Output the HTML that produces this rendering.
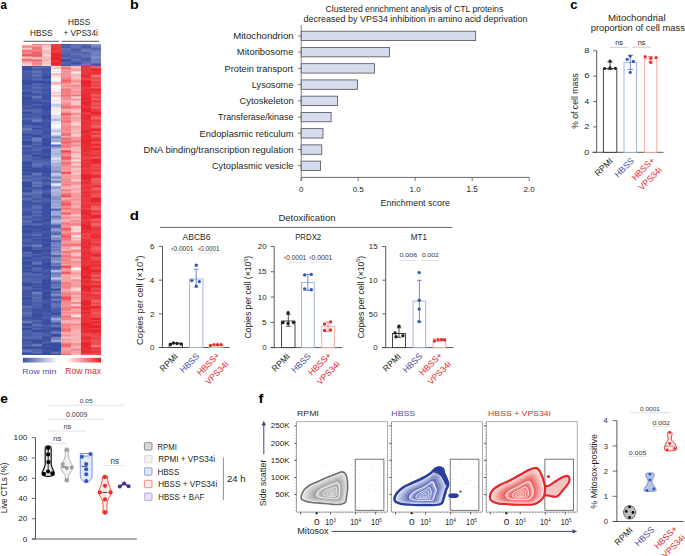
<!DOCTYPE html>
<html><head><meta charset="utf-8"><style>
html,body{margin:0;padding:0;background:#fff;width:685px;height:556px;overflow:hidden}
svg{display:block;font-family:"Liberation Sans",sans-serif}
</style></head><body>
<svg width="685" height="556" viewBox="0 0 685 556">
<text x="0.56" y="9" font-size="12.64" fill="#000" font-weight="bold" textLength="6.36" lengthAdjust="spacingAndGlyphs">a</text>
<text x="129.96" y="9" font-size="12.83" fill="#000" font-weight="bold" textLength="8.73" lengthAdjust="spacingAndGlyphs">b</text>
<text x="570.19" y="9.05" font-size="12.08" fill="#000" font-weight="bold" textLength="7.3" lengthAdjust="spacingAndGlyphs">c</text>
<text x="129.78" y="219.6" font-size="12.14" fill="#000" font-weight="bold" textLength="9.21" lengthAdjust="spacingAndGlyphs">d</text>
<text x="0.16" y="403" font-size="12.82" fill="#000" font-weight="bold" textLength="7.72" lengthAdjust="spacingAndGlyphs">e</text>
<text x="258.55" y="402.8" font-size="12.7" fill="#000" font-weight="bold" textLength="4.92" lengthAdjust="spacingAndGlyphs">f</text>
<style>.h0 rect{x:21.7px;width:9.97px;height:1.08px}.h1 rect{x:31.61px;width:9.97px;height:1.08px}.h2 rect{x:41.52px;width:9.97px;height:1.08px}.h3 rect{x:51.44px;width:9.97px;height:1.08px}.h4 rect{x:61.35px;width:9.97px;height:1.08px}.h5 rect{x:71.26px;width:9.97px;height:1.08px}.h6 rect{x:81.17px;width:9.97px;height:1.08px}.h7 rect{x:91.09px;width:9.97px;height:1.08px}</style>
<g shape-rendering="crispEdges">
<g class="h0"><rect y="44" fill="#fce1e2"/><rect y="45" fill="#f8b7ba"/><rect y="46" fill="#f17d81"/><rect y="47" fill="#f4999d"/><rect y="48" fill="#faccce"/><rect y="49" fill="#f6adb0"/><rect y="50" fill="#f1777c"/><rect y="51" fill="#f17579"/><rect y="52" fill="#f38b8e"/><rect y="53" fill="#f28589"/><rect y="54" fill="#ef6368"/><rect y="55" fill="#ed565b"/><rect y="56" fill="#f38c8f"/><rect y="57" fill="#f9c8ca"/><rect y="58" fill="#f6a7aa"/><rect y="59" fill="#f06e73"/><rect y="60" fill="#f17a7e"/><rect y="61" fill="#f59c9f"/><rect y="62" fill="#f6aeb0"/><rect y="63" fill="#f8bfc1"/><rect y="64" fill="#faced0"/><rect y="65" fill="#f9cacc"/><rect y="66" fill="#394ea1"/><rect y="67" fill="#4054a4"/><rect y="68" fill="#374ca0"/><rect y="69" fill="#374ca0"/><rect y="70" fill="#475aa8"/><rect y="71" fill="#4f61ab"/><rect y="72" fill="#4c5eaa"/><rect y="73" fill="#475aa8"/><rect y="74" fill="#4a5da9"/><rect y="75" fill="#4559a7"/><rect y="76" fill="#4256a5"/><rect y="77" fill="#4256a5"/><rect y="78" fill="#4458a6"/><rect y="79" fill="#4357a6"/><rect y="80" fill="#3a4fa1"/><rect y="81" fill="#374ca0"/><rect y="82" fill="#374ca0"/><rect y="83" fill="#374ca0"/><rect y="84" fill="#374ca0"/><rect y="85" fill="#485ba8"/><rect y="86" fill="#4559a7"/><rect y="87" fill="#4559a7"/><rect y="88" fill="#4559a7"/><rect y="89" fill="#475aa7"/><rect y="90" fill="#5062ac"/><rect y="91" fill="#4a5da9"/><rect y="92" fill="#374ca0"/><rect y="93" fill="#374ca0"/><rect y="94" fill="#394ea1"/><rect y="95" fill="#495da9"/><rect y="96" fill="#4357a6"/><rect y="97" fill="#374ca0"/><rect y="98" fill="#374ca0"/><rect y="99" fill="#374ca0"/><rect y="100" fill="#3d51a3"/><rect y="101" fill="#3a4fa2"/><rect y="102" fill="#3b4fa2"/><rect y="103" fill="#3d52a3"/><rect y="104" fill="#3d51a3"/><rect y="105" fill="#4357a6"/><rect y="106" fill="#495ca8"/><rect y="107" fill="#4457a6"/><rect y="108" fill="#4155a5"/><rect y="109" fill="#4b5ea9"/><rect y="110" fill="#5869b0"/><rect y="111" fill="#4d60aa"/><rect y="112" fill="#384da1"/><rect y="113" fill="#3c51a3"/><rect y="114" fill="#495ca9"/><rect y="115" fill="#4b5eaa"/><rect y="116" fill="#3c51a3"/><rect y="117" fill="#4155a5"/><rect y="118" fill="#5769af"/><rect y="119" fill="#4e60ab"/><rect y="120" fill="#4054a4"/><rect y="121" fill="#3c51a3"/><rect y="122" fill="#3c51a3"/><rect y="123" fill="#3c51a2"/><rect y="124" fill="#3e52a3"/><rect y="125" fill="#4f62ab"/><rect y="126" fill="#4f62ab"/><rect y="127" fill="#5063ac"/><rect y="128" fill="#6979b8"/><rect y="129" fill="#6b7bb9"/><rect y="130" fill="#596bb0"/><rect y="131" fill="#5062ac"/><rect y="132" fill="#5164ad"/><rect y="133" fill="#4a5da9"/><rect y="134" fill="#374ca0"/><rect y="135" fill="#3e52a3"/><rect y="136" fill="#4d60aa"/><rect y="137" fill="#4155a5"/><rect y="138" fill="#4054a4"/><rect y="139" fill="#4e61ab"/><rect y="140" fill="#4a5da9"/><rect y="141" fill="#374ca0"/><rect y="142" fill="#374ca0"/><rect y="143" fill="#374ca0"/><rect y="144" fill="#374ca0"/><rect y="145" fill="#5365ad"/><rect y="146" fill="#5a6bb0"/><rect y="147" fill="#4559a7"/><rect y="148" fill="#4155a5"/><rect y="149" fill="#485ba8"/><rect y="150" fill="#4b5eaa"/><rect y="151" fill="#4457a6"/><rect y="152" fill="#3c51a3"/><rect y="153" fill="#4256a5"/><rect y="154" fill="#4b5eaa"/><rect y="155" fill="#5466ae"/><rect y="156" fill="#5365ad"/><rect y="157" fill="#4e61ab"/><rect y="158" fill="#5365ad"/><rect y="159" fill="#5869b0"/><rect y="160" fill="#5264ad"/><rect y="161" fill="#4155a5"/><rect y="162" fill="#374ca0"/><rect y="163" fill="#374ca0"/><rect y="164" fill="#3e52a3"/><rect y="165" fill="#4357a6"/><rect y="166" fill="#3a4ea1"/><rect y="167" fill="#374ca0"/><rect y="168" fill="#3f53a4"/><rect y="169" fill="#384da1"/><rect y="170" fill="#374ca0"/><rect y="171" fill="#3a4ea1"/><rect y="172" fill="#4a5da9"/><rect y="173" fill="#3c50a2"/><rect y="174" fill="#374ca0"/><rect y="175" fill="#4f61ab"/><rect y="176" fill="#596bb0"/><rect y="177" fill="#4c5faa"/><rect y="178" fill="#4b5eaa"/><rect y="179" fill="#5769af"/><rect y="180" fill="#5c6db2"/><rect y="181" fill="#4a5da9"/><rect y="182" fill="#384da1"/><rect y="183" fill="#384da0"/><rect y="184" fill="#3a4fa2"/><rect y="185" fill="#374ca0"/><rect y="186" fill="#374ca0"/><rect y="187" fill="#3e53a3"/><rect y="188" fill="#485ca8"/><rect y="189" fill="#3c50a2"/><rect y="190" fill="#374ca0"/><rect y="191" fill="#3b50a2"/><rect y="192" fill="#5466ae"/><rect y="193" fill="#6171b4"/><rect y="194" fill="#5d6eb2"/><rect y="195" fill="#4d60ab"/><rect y="196" fill="#4155a5"/><rect y="197" fill="#4a5da9"/><rect y="198" fill="#5b6cb1"/><rect y="199" fill="#596ab0"/><rect y="200" fill="#4a5da9"/><rect y="201" fill="#3f54a4"/><rect y="202" fill="#3e52a3"/><rect y="203" fill="#4256a5"/><rect y="204" fill="#4458a6"/><rect y="205" fill="#4054a4"/><rect y="206" fill="#4155a5"/><rect y="207" fill="#4659a7"/><rect y="208" fill="#4a5da9"/><rect y="209" fill="#5163ac"/><rect y="210" fill="#4d5faa"/><rect y="211" fill="#4255a5"/><rect y="212" fill="#4256a5"/><rect y="213" fill="#3f53a4"/><rect y="214" fill="#384da1"/><rect y="215" fill="#485ba8"/><rect y="216" fill="#5c6db2"/><rect y="217" fill="#5b6cb1"/><rect y="218" fill="#4d5faa"/><rect y="219" fill="#475aa7"/><rect y="220" fill="#5769af"/><rect y="221" fill="#6071b4"/><rect y="222" fill="#5264ad"/><rect y="223" fill="#4f62ac"/><rect y="224" fill="#5365ad"/><rect y="225" fill="#4457a6"/><rect y="226" fill="#374ca0"/><rect y="227" fill="#394da1"/><rect y="228" fill="#3f54a4"/><rect y="229" fill="#3f53a4"/><rect y="230" fill="#374ca0"/><rect y="231" fill="#374ca0"/><rect y="232" fill="#3d51a3"/><rect y="233" fill="#4256a5"/><rect y="234" fill="#4a5da9"/><rect y="235" fill="#4a5da9"/><rect y="236" fill="#3f53a4"/><rect y="237" fill="#3d51a3"/><rect y="238" fill="#4256a5"/><rect y="239" fill="#4d60ab"/><rect y="240" fill="#4f61ab"/><rect y="241" fill="#465aa7"/><rect y="242" fill="#485ba8"/><rect y="243" fill="#4256a5"/><rect y="244" fill="#495ca8"/><rect y="245" fill="#5b6cb1"/><rect y="246" fill="#4c5faa"/><rect y="247" fill="#374ca0"/><rect y="248" fill="#374ca0"/><rect y="249" fill="#374ca0"/><rect y="250" fill="#374ca0"/><rect y="251" fill="#4054a4"/><rect y="252" fill="#5365ad"/><rect y="253" fill="#5567ae"/><rect y="254" fill="#4f61ab"/><rect y="255" fill="#5567ae"/><rect y="256" fill="#4c5faa"/><rect y="257" fill="#3a4fa1"/><rect y="258" fill="#3a4fa1"/><rect y="259" fill="#4155a5"/><rect y="260" fill="#4b5ea9"/><rect y="261" fill="#3a4fa1"/><rect y="262" fill="#374ca0"/><rect y="263" fill="#374ca0"/><rect y="264" fill="#3c51a2"/><rect y="265" fill="#4457a6"/><rect y="266" fill="#465aa7"/><rect y="267" fill="#374ca0"/><rect y="268" fill="#394ea1"/><rect y="269" fill="#4458a6"/><rect y="270" fill="#3d51a3"/><rect y="271" fill="#3c51a3"/><rect y="272" fill="#485ba8"/><rect y="273" fill="#5466ae"/><rect y="274" fill="#5466ae"/><rect y="275" fill="#495ca9"/><rect y="276" fill="#475aa7"/><rect y="277" fill="#485ca8"/><rect y="278" fill="#4e61ab"/><rect y="279" fill="#5769af"/><rect y="280" fill="#5366ae"/><rect y="281" fill="#4b5ea9"/><rect y="282" fill="#4a5da9"/><rect y="283" fill="#374ca0"/><rect y="284" fill="#374ca0"/><rect y="285" fill="#374ca0"/><rect y="286" fill="#485ca8"/><rect y="287" fill="#5466ae"/><rect y="288" fill="#5769af"/><rect y="289" fill="#4d60ab"/><rect y="290" fill="#475aa7"/><rect y="291" fill="#4054a4"/><rect y="292" fill="#4356a5"/><rect y="293" fill="#485ba8"/><rect y="294" fill="#3d51a3"/><rect y="295" fill="#4256a5"/><rect y="296" fill="#4c5faa"/><rect y="297" fill="#3f53a4"/><rect y="298" fill="#374ca0"/><rect y="299" fill="#3c50a2"/><rect y="300" fill="#4458a6"/><rect y="301" fill="#4659a7"/><rect y="302" fill="#4357a6"/><rect y="303" fill="#4256a5"/><rect y="304" fill="#3e52a3"/><rect y="305" fill="#4659a7"/><rect y="306" fill="#6071b4"/><rect y="307" fill="#5e6fb3"/><rect y="308" fill="#4b5ea9"/><rect y="309" fill="#4d60ab"/><rect y="310" fill="#4f62ac"/><rect y="311" fill="#4b5eaa"/><rect y="312" fill="#5d6eb2"/><rect y="313" fill="#6071b4"/><rect y="314" fill="#5062ac"/><rect y="315" fill="#5466ae"/><rect y="316" fill="#4d60ab"/><rect y="317" fill="#3d51a3"/><rect y="318" fill="#3d52a3"/><rect y="319" fill="#4659a7"/><rect y="320" fill="#5365ad"/><rect y="321" fill="#6878b7"/><rect y="322" fill="#6979b8"/><rect y="323" fill="#4c5faa"/><rect y="324" fill="#374ca0"/><rect y="325" fill="#3b50a2"/><rect y="326" fill="#4f62ab"/><rect y="327" fill="#4c5eaa"/><rect y="328" fill="#374ca0"/><rect y="329" fill="#3a4fa2"/><rect y="330" fill="#4b5eaa"/><rect y="331" fill="#4c5faa"/><rect y="332" fill="#4c5faa"/><rect y="333" fill="#4d60ab"/><rect y="334" fill="#495ca9"/><rect y="335" fill="#495ca9"/><rect y="336" fill="#4e61ab"/><rect y="337" fill="#5a6bb1"/><rect y="338" fill="#5264ad"/><rect y="339" fill="#4054a4"/><rect y="340" fill="#4054a4"/><rect y="341" fill="#4256a5"/><rect y="342" fill="#4a5da9"/><rect y="343" fill="#475aa8"/><rect y="344" fill="#485ba8"/><rect y="345" fill="#5769af"/><rect y="346" fill="#4155a5"/><rect y="347" fill="#374ca0"/><rect y="348" fill="#3e52a3"/><rect y="349" fill="#5567ae"/><rect y="350" fill="#6474b5"/><rect y="351" fill="#6575b6"/><rect y="352" fill="#4c5faa"/><rect y="353" fill="#3b50a2"/><rect y="354" fill="#4255a5"/></g>
<g class="h1"><rect y="44" fill="#f3888c"/><rect y="45" fill="#f5a1a4"/><rect y="46" fill="#f49396"/><rect y="47" fill="#f17a7e"/><rect y="48" fill="#f1777b"/><rect y="49" fill="#f17d81"/><rect y="50" fill="#f28387"/><rect y="51" fill="#f1787d"/><rect y="52" fill="#ef6368"/><rect y="53" fill="#ef6368"/><rect y="54" fill="#ef696e"/><rect y="55" fill="#ee5b60"/><rect y="56" fill="#f06d71"/><rect y="57" fill="#f6acaf"/><rect y="58" fill="#f8bdbf"/><rect y="59" fill="#f28387"/><rect y="60" fill="#ef6469"/><rect y="61" fill="#f28084"/><rect y="62" fill="#f38d90"/><rect y="63" fill="#f28286"/><rect y="64" fill="#f39194"/><rect y="65" fill="#f5a0a3"/><rect y="66" fill="#4b5eaa"/><rect y="67" fill="#5e6fb3"/><rect y="68" fill="#5164ad"/><rect y="69" fill="#4558a7"/><rect y="70" fill="#5264ad"/><rect y="71" fill="#6272b4"/><rect y="72" fill="#5f6fb3"/><rect y="73" fill="#5365ad"/><rect y="74" fill="#5667af"/><rect y="75" fill="#6172b4"/><rect y="76" fill="#5567ae"/><rect y="77" fill="#4b5da9"/><rect y="78" fill="#5164ad"/><rect y="79" fill="#5466ae"/><rect y="80" fill="#495ca9"/><rect y="81" fill="#374ca0"/><rect y="82" fill="#374ca0"/><rect y="83" fill="#4b5eaa"/><rect y="84" fill="#596ab0"/><rect y="85" fill="#4a5da9"/><rect y="86" fill="#495ca8"/><rect y="87" fill="#5c6eb2"/><rect y="88" fill="#5365ad"/><rect y="89" fill="#4b5da9"/><rect y="90" fill="#5163ac"/><rect y="91" fill="#5466ae"/><rect y="92" fill="#5668af"/><rect y="93" fill="#495ca9"/><rect y="94" fill="#3a4fa2"/><rect y="95" fill="#495ca8"/><rect y="96" fill="#6273b5"/><rect y="97" fill="#6071b4"/><rect y="98" fill="#4d60ab"/><rect y="99" fill="#4458a6"/><rect y="100" fill="#4559a7"/><rect y="101" fill="#4256a5"/><rect y="102" fill="#374ca0"/><rect y="103" fill="#3a4fa1"/><rect y="104" fill="#5163ac"/><rect y="105" fill="#4558a7"/><rect y="106" fill="#3a4fa2"/><rect y="107" fill="#3d51a3"/><rect y="108" fill="#4659a7"/><rect y="109" fill="#4f61ab"/><rect y="110" fill="#5365ad"/><rect y="111" fill="#5667af"/><rect y="112" fill="#4f62ac"/><rect y="113" fill="#4a5da9"/><rect y="114" fill="#475aa8"/><rect y="115" fill="#4559a7"/><rect y="116" fill="#4a5da9"/><rect y="117" fill="#5062ac"/><rect y="118" fill="#5264ad"/><rect y="119" fill="#6575b6"/><rect y="120" fill="#7180bc"/><rect y="121" fill="#5e6fb3"/><rect y="122" fill="#4b5eaa"/><rect y="123" fill="#374ca0"/><rect y="124" fill="#374ca0"/><rect y="125" fill="#485ba8"/><rect y="126" fill="#5163ac"/><rect y="127" fill="#485ba8"/><rect y="128" fill="#3a4fa1"/><rect y="129" fill="#4054a4"/><rect y="130" fill="#5264ad"/><rect y="131" fill="#495da9"/><rect y="132" fill="#485ba8"/><rect y="133" fill="#5163ac"/><rect y="134" fill="#4356a6"/><rect y="135" fill="#374ca0"/><rect y="136" fill="#374ca0"/><rect y="137" fill="#5365ad"/><rect y="138" fill="#7180bb"/><rect y="139" fill="#6b7bb9"/><rect y="140" fill="#6a7ab8"/><rect y="141" fill="#6070b3"/><rect y="142" fill="#485ba8"/><rect y="143" fill="#4c5faa"/><rect y="144" fill="#5567ae"/><rect y="145" fill="#485ba8"/><rect y="146" fill="#465aa7"/><rect y="147" fill="#4c5eaa"/><rect y="148" fill="#4e61ab"/><rect y="149" fill="#586ab0"/><rect y="150" fill="#5466ae"/><rect y="151" fill="#4256a5"/><rect y="152" fill="#4457a6"/><rect y="153" fill="#4e60ab"/><rect y="154" fill="#4357a6"/><rect y="155" fill="#374ca0"/><rect y="156" fill="#3e52a3"/><rect y="157" fill="#4a5da9"/><rect y="158" fill="#4559a7"/><rect y="159" fill="#4457a6"/><rect y="160" fill="#5062ac"/><rect y="161" fill="#5264ad"/><rect y="162" fill="#5163ac"/><rect y="163" fill="#5a6cb1"/><rect y="164" fill="#6575b6"/><rect y="165" fill="#6071b3"/><rect y="166" fill="#5668af"/><rect y="167" fill="#4a5da9"/><rect y="168" fill="#384da1"/><rect y="169" fill="#374ca0"/><rect y="170" fill="#374ca0"/><rect y="171" fill="#374ca0"/><rect y="172" fill="#4d60ab"/><rect y="173" fill="#6272b4"/><rect y="174" fill="#6272b4"/><rect y="175" fill="#5566ae"/><rect y="176" fill="#495ca9"/><rect y="177" fill="#4f62ac"/><rect y="178" fill="#5668af"/><rect y="179" fill="#5264ad"/><rect y="180" fill="#4a5da9"/><rect y="181" fill="#5567ae"/><rect y="182" fill="#6777b7"/><rect y="183" fill="#6172b4"/><rect y="184" fill="#5668af"/><rect y="185" fill="#6272b4"/><rect y="186" fill="#5f70b3"/><rect y="187" fill="#4256a5"/><rect y="188" fill="#4357a6"/><rect y="189" fill="#5063ac"/><rect y="190" fill="#5265ad"/><rect y="191" fill="#6171b4"/><rect y="192" fill="#6676b6"/><rect y="193" fill="#5f70b3"/><rect y="194" fill="#5668af"/><rect y="195" fill="#5063ac"/><rect y="196" fill="#5668af"/><rect y="197" fill="#5769af"/><rect y="198" fill="#475ba8"/><rect y="199" fill="#4357a6"/><rect y="200" fill="#5768af"/><rect y="201" fill="#586ab0"/><rect y="202" fill="#4155a5"/><rect y="203" fill="#3a4fa2"/><rect y="204" fill="#4458a6"/><rect y="205" fill="#5062ac"/><rect y="206" fill="#5b6cb1"/><rect y="207" fill="#5e6fb3"/><rect y="208" fill="#596bb0"/><rect y="209" fill="#4c5eaa"/><rect y="210" fill="#4a5da9"/><rect y="211" fill="#5869b0"/><rect y="212" fill="#5668af"/><rect y="213" fill="#475ba8"/><rect y="214" fill="#4c5faa"/><rect y="215" fill="#5768af"/><rect y="216" fill="#485ca8"/><rect y="217" fill="#3e52a3"/><rect y="218" fill="#495ca8"/><rect y="219" fill="#4f62ac"/><rect y="220" fill="#495ca9"/><rect y="221" fill="#3c51a3"/><rect y="222" fill="#394ea1"/><rect y="223" fill="#5062ac"/><rect y="224" fill="#5d6eb2"/><rect y="225" fill="#4a5da9"/><rect y="226" fill="#3c51a3"/><rect y="227" fill="#3a4ea1"/><rect y="228" fill="#3c50a2"/><rect y="229" fill="#4559a7"/><rect y="230" fill="#4155a5"/><rect y="231" fill="#3d51a3"/><rect y="232" fill="#485ba8"/><rect y="233" fill="#4c5eaa"/><rect y="234" fill="#5869af"/><rect y="235" fill="#5d6eb2"/><rect y="236" fill="#4458a6"/><rect y="237" fill="#4356a6"/><rect y="238" fill="#4b5eaa"/><rect y="239" fill="#3c50a2"/><rect y="240" fill="#4155a5"/><rect y="241" fill="#4e60ab"/><rect y="242" fill="#4558a7"/><rect y="243" fill="#4457a6"/><rect y="244" fill="#5a6bb1"/><rect y="245" fill="#707fbb"/><rect y="246" fill="#6676b6"/><rect y="247" fill="#4b5ea9"/><rect y="248" fill="#495ca8"/><rect y="249" fill="#4c5faa"/><rect y="250" fill="#374ca0"/><rect y="251" fill="#374ca0"/><rect y="252" fill="#374ca0"/><rect y="253" fill="#3d52a3"/><rect y="254" fill="#4d60aa"/><rect y="255" fill="#4458a6"/><rect y="256" fill="#3c50a2"/><rect y="257" fill="#4356a6"/><rect y="258" fill="#4e60ab"/><rect y="259" fill="#4558a7"/><rect y="260" fill="#4558a7"/><rect y="261" fill="#5466ae"/><rect y="262" fill="#5c6db2"/><rect y="263" fill="#6474b5"/><rect y="264" fill="#5567ae"/><rect y="265" fill="#384da0"/><rect y="266" fill="#374ca0"/><rect y="267" fill="#5062ac"/><rect y="268" fill="#5466ae"/><rect y="269" fill="#5163ac"/><rect y="270" fill="#5365ad"/><rect y="271" fill="#4054a4"/><rect y="272" fill="#374ca0"/><rect y="273" fill="#485ba8"/><rect y="274" fill="#596ab0"/><rect y="275" fill="#5062ac"/><rect y="276" fill="#475aa7"/><rect y="277" fill="#495da9"/><rect y="278" fill="#4f61ab"/><rect y="279" fill="#4e60ab"/><rect y="280" fill="#4d60aa"/><rect y="281" fill="#5567ae"/><rect y="282" fill="#5768af"/><rect y="283" fill="#4659a7"/><rect y="284" fill="#4054a4"/><rect y="285" fill="#495ca9"/><rect y="286" fill="#4054a4"/><rect y="287" fill="#3d51a3"/><rect y="288" fill="#4b5eaa"/><rect y="289" fill="#465aa7"/><rect y="290" fill="#3a4fa2"/><rect y="291" fill="#4e61ab"/><rect y="292" fill="#707fbb"/><rect y="293" fill="#6d7cba"/><rect y="294" fill="#5b6cb1"/><rect y="295" fill="#5264ad"/><rect y="296" fill="#5163ac"/><rect y="297" fill="#5f6fb3"/><rect y="298" fill="#5a6bb1"/><rect y="299" fill="#4c5faa"/><rect y="300" fill="#5668af"/><rect y="301" fill="#5869b0"/><rect y="302" fill="#485ca8"/><rect y="303" fill="#4d60ab"/><rect y="304" fill="#5264ad"/><rect y="305" fill="#4b5eaa"/><rect y="306" fill="#4d60ab"/><rect y="307" fill="#495ca8"/><rect y="308" fill="#4256a5"/><rect y="309" fill="#3d51a3"/><rect y="310" fill="#374ca0"/><rect y="311" fill="#4155a5"/><rect y="312" fill="#4457a6"/><rect y="313" fill="#3b4fa2"/><rect y="314" fill="#374ca0"/><rect y="315" fill="#374ca0"/><rect y="316" fill="#374ca0"/><rect y="317" fill="#4357a6"/><rect y="318" fill="#3e52a3"/><rect y="319" fill="#3e52a3"/><rect y="320" fill="#5365ad"/><rect y="321" fill="#4f62ac"/><rect y="322" fill="#3f53a4"/><rect y="323" fill="#495da9"/><rect y="324" fill="#5f6fb3"/><rect y="325" fill="#5f70b3"/><rect y="326" fill="#4b5eaa"/><rect y="327" fill="#4559a7"/><rect y="328" fill="#5365ad"/><rect y="329" fill="#4d5faa"/><rect y="330" fill="#374ca0"/><rect y="331" fill="#3b50a2"/><rect y="332" fill="#4e60ab"/><rect y="333" fill="#5365ad"/><rect y="334" fill="#5466ae"/><rect y="335" fill="#5062ac"/><rect y="336" fill="#5668af"/><rect y="337" fill="#5a6cb1"/><rect y="338" fill="#5264ad"/><rect y="339" fill="#4357a6"/><rect y="340" fill="#384da1"/><rect y="341" fill="#384da0"/><rect y="342" fill="#374ca0"/><rect y="343" fill="#4357a6"/><rect y="344" fill="#6676b6"/><rect y="345" fill="#6a79b8"/><rect y="346" fill="#4b5eaa"/><rect y="347" fill="#374ca0"/><rect y="348" fill="#4458a6"/><rect y="349" fill="#5567ae"/><rect y="350" fill="#5163ac"/><rect y="351" fill="#5466ae"/><rect y="352" fill="#5d6eb2"/><rect y="353" fill="#4f62ac"/><rect y="354" fill="#374ca0"/></g>
<g class="h2"><rect y="44" fill="#f59c9f"/><rect y="45" fill="#f8b8bb"/><rect y="46" fill="#facbcd"/><rect y="47" fill="#f9c6c8"/><rect y="48" fill="#fbd6d8"/><rect y="49" fill="#fad2d4"/><rect y="50" fill="#f8bbbd"/><rect y="51" fill="#f8bdbf"/><rect y="52" fill="#f8b7ba"/><rect y="53" fill="#f8b9bc"/><rect y="54" fill="#fad2d3"/><rect y="55" fill="#fad2d4"/><rect y="56" fill="#f9c7c9"/><rect y="57" fill="#f8bcbe"/><rect y="58" fill="#f7b4b6"/><rect y="59" fill="#f8b7ba"/><rect y="60" fill="#f7b0b3"/><rect y="61" fill="#f9c3c5"/><rect y="62" fill="#facbcd"/><rect y="63" fill="#f8bbbe"/><rect y="64" fill="#fbd5d6"/><rect y="65" fill="#fad2d3"/><rect y="66" fill="#5264ad"/><rect y="67" fill="#5264ad"/><rect y="68" fill="#495ca8"/><rect y="69" fill="#3d51a3"/><rect y="70" fill="#4457a6"/><rect y="71" fill="#4a5da9"/><rect y="72" fill="#485ba8"/><rect y="73" fill="#4458a6"/><rect y="74" fill="#4356a6"/><rect y="75" fill="#4155a5"/><rect y="76" fill="#3a4fa2"/><rect y="77" fill="#384da0"/><rect y="78" fill="#3f53a4"/><rect y="79" fill="#4a5da9"/><rect y="80" fill="#485ba8"/><rect y="81" fill="#3a4fa1"/><rect y="82" fill="#374ca0"/><rect y="83" fill="#3c50a2"/><rect y="84" fill="#4256a5"/><rect y="85" fill="#4558a6"/><rect y="86" fill="#485ba8"/><rect y="87" fill="#4c5faa"/><rect y="88" fill="#475aa7"/><rect y="89" fill="#3f53a4"/><rect y="90" fill="#4155a5"/><rect y="91" fill="#4659a7"/><rect y="92" fill="#4558a6"/><rect y="93" fill="#4155a5"/><rect y="94" fill="#3f53a4"/><rect y="95" fill="#3c50a2"/><rect y="96" fill="#3e52a3"/><rect y="97" fill="#3e53a3"/><rect y="98" fill="#374ca0"/><rect y="99" fill="#3e52a3"/><rect y="100" fill="#4b5ea9"/><rect y="101" fill="#4659a7"/><rect y="102" fill="#3e52a3"/><rect y="103" fill="#3b50a2"/><rect y="104" fill="#3d51a3"/><rect y="105" fill="#3d51a3"/><rect y="106" fill="#374ca0"/><rect y="107" fill="#374ca0"/><rect y="108" fill="#374ca0"/><rect y="109" fill="#3c50a2"/><rect y="110" fill="#4255a5"/><rect y="111" fill="#4155a5"/><rect y="112" fill="#3d52a3"/><rect y="113" fill="#4558a6"/><rect y="114" fill="#465aa7"/><rect y="115" fill="#374ca0"/><rect y="116" fill="#374ca0"/><rect y="117" fill="#384da0"/><rect y="118" fill="#3b4fa2"/><rect y="119" fill="#4155a5"/><rect y="120" fill="#475aa8"/><rect y="121" fill="#4357a6"/><rect y="122" fill="#3f54a4"/><rect y="123" fill="#3e53a4"/><rect y="124" fill="#3d51a3"/><rect y="125" fill="#4054a5"/><rect y="126" fill="#3f53a4"/><rect y="127" fill="#3d51a3"/><rect y="128" fill="#4255a5"/><rect y="129" fill="#4357a6"/><rect y="130" fill="#4558a7"/><rect y="131" fill="#4256a5"/><rect y="132" fill="#3c50a2"/><rect y="133" fill="#3e52a3"/><rect y="134" fill="#4054a4"/><rect y="135" fill="#465aa7"/><rect y="136" fill="#495ca9"/><rect y="137" fill="#4558a6"/><rect y="138" fill="#3e52a3"/><rect y="139" fill="#374ca0"/><rect y="140" fill="#374ca0"/><rect y="141" fill="#3e52a3"/><rect y="142" fill="#3b4fa2"/><rect y="143" fill="#394ea1"/><rect y="144" fill="#374ca0"/><rect y="145" fill="#374ca0"/><rect y="146" fill="#4357a6"/><rect y="147" fill="#4b5ea9"/><rect y="148" fill="#475aa8"/><rect y="149" fill="#3d51a3"/><rect y="150" fill="#374ca0"/><rect y="151" fill="#374ca0"/><rect y="152" fill="#374ca0"/><rect y="153" fill="#3d51a3"/><rect y="154" fill="#4256a5"/><rect y="155" fill="#3f53a4"/><rect y="156" fill="#374ca0"/><rect y="157" fill="#374ca0"/><rect y="158" fill="#394ea1"/><rect y="159" fill="#4659a7"/><rect y="160" fill="#4b5ea9"/><rect y="161" fill="#4c5faa"/><rect y="162" fill="#5466ae"/><rect y="163" fill="#5567ae"/><rect y="164" fill="#4e61ab"/><rect y="165" fill="#4e60ab"/><rect y="166" fill="#4458a6"/><rect y="167" fill="#3e53a4"/><rect y="168" fill="#3b4fa2"/><rect y="169" fill="#374ca0"/><rect y="170" fill="#374ca0"/><rect y="171" fill="#374ca0"/><rect y="172" fill="#394da1"/><rect y="173" fill="#3d51a3"/><rect y="174" fill="#4155a5"/><rect y="175" fill="#3e52a3"/><rect y="176" fill="#4256a5"/><rect y="177" fill="#4d60ab"/><rect y="178" fill="#4c5faa"/><rect y="179" fill="#4558a6"/><rect y="180" fill="#4054a4"/><rect y="181" fill="#4155a5"/><rect y="182" fill="#4c5faa"/><rect y="183" fill="#5063ac"/><rect y="184" fill="#495ca8"/><rect y="185" fill="#4256a5"/><rect y="186" fill="#384da0"/><rect y="187" fill="#374ca0"/><rect y="188" fill="#374ca0"/><rect y="189" fill="#3f54a4"/><rect y="190" fill="#475aa8"/><rect y="191" fill="#4e61ab"/><rect y="192" fill="#4b5ea9"/><rect y="193" fill="#4256a5"/><rect y="194" fill="#394da1"/><rect y="195" fill="#374ca0"/><rect y="196" fill="#374ca0"/><rect y="197" fill="#3d51a3"/><rect y="198" fill="#4559a7"/><rect y="199" fill="#495ca8"/><rect y="200" fill="#495ca9"/><rect y="201" fill="#495da9"/><rect y="202" fill="#4256a5"/><rect y="203" fill="#3b50a2"/><rect y="204" fill="#3a4ea1"/><rect y="205" fill="#394da1"/><rect y="206" fill="#394ea1"/><rect y="207" fill="#3c50a2"/><rect y="208" fill="#3b50a2"/><rect y="209" fill="#384da0"/><rect y="210" fill="#3a4ea1"/><rect y="211" fill="#3c50a2"/><rect y="212" fill="#394ea1"/><rect y="213" fill="#384da0"/><rect y="214" fill="#3c50a2"/><rect y="215" fill="#3e52a3"/><rect y="216" fill="#3b50a2"/><rect y="217" fill="#3e53a3"/><rect y="218" fill="#3d51a3"/><rect y="219" fill="#374ca0"/><rect y="220" fill="#374ca0"/><rect y="221" fill="#4054a4"/><rect y="222" fill="#4559a7"/><rect y="223" fill="#475ba8"/><rect y="224" fill="#4457a6"/><rect y="225" fill="#3d52a3"/><rect y="226" fill="#3c51a3"/><rect y="227" fill="#3c51a2"/><rect y="228" fill="#3a4fa1"/><rect y="229" fill="#394ea1"/><rect y="230" fill="#3d52a3"/><rect y="231" fill="#4559a7"/><rect y="232" fill="#4458a6"/><rect y="233" fill="#4054a4"/><rect y="234" fill="#3e52a3"/><rect y="235" fill="#3a4ea1"/><rect y="236" fill="#3b50a2"/><rect y="237" fill="#4357a6"/><rect y="238" fill="#4155a5"/><rect y="239" fill="#384da0"/><rect y="240" fill="#374ca0"/><rect y="241" fill="#3b4fa2"/><rect y="242" fill="#4256a5"/><rect y="243" fill="#3d51a3"/><rect y="244" fill="#374ca0"/><rect y="245" fill="#374ca0"/><rect y="246" fill="#3c50a2"/><rect y="247" fill="#4357a6"/><rect y="248" fill="#4357a6"/><rect y="249" fill="#3f53a4"/><rect y="250" fill="#3a4fa1"/><rect y="251" fill="#3c50a2"/><rect y="252" fill="#4458a6"/><rect y="253" fill="#485ba8"/><rect y="254" fill="#4054a4"/><rect y="255" fill="#3a4ea1"/><rect y="256" fill="#485ba8"/><rect y="257" fill="#5264ad"/><rect y="258" fill="#475aa7"/><rect y="259" fill="#3f53a4"/><rect y="260" fill="#4054a4"/><rect y="261" fill="#4054a4"/><rect y="262" fill="#3b4fa2"/><rect y="263" fill="#374ca0"/><rect y="264" fill="#384da0"/><rect y="265" fill="#374ca0"/><rect y="266" fill="#374ca0"/><rect y="267" fill="#374ca0"/><rect y="268" fill="#3b4fa2"/><rect y="269" fill="#4256a5"/><rect y="270" fill="#475aa8"/><rect y="271" fill="#485ba8"/><rect y="272" fill="#4256a5"/><rect y="273" fill="#3b50a2"/><rect y="274" fill="#3e52a3"/><rect y="275" fill="#4558a7"/><rect y="276" fill="#4a5da9"/><rect y="277" fill="#465aa7"/><rect y="278" fill="#4256a5"/><rect y="279" fill="#4054a4"/><rect y="280" fill="#374ca0"/><rect y="281" fill="#374ca0"/><rect y="282" fill="#374ca0"/><rect y="283" fill="#394ea1"/><rect y="284" fill="#374ca0"/><rect y="285" fill="#374ca0"/><rect y="286" fill="#3c50a2"/><rect y="287" fill="#374ca0"/><rect y="288" fill="#374ca0"/><rect y="289" fill="#384da0"/><rect y="290" fill="#4357a6"/><rect y="291" fill="#4155a5"/><rect y="292" fill="#374ca0"/><rect y="293" fill="#374ca0"/><rect y="294" fill="#384da0"/><rect y="295" fill="#3b50a2"/><rect y="296" fill="#384da1"/><rect y="297" fill="#374ca0"/><rect y="298" fill="#374ca0"/><rect y="299" fill="#384da1"/><rect y="300" fill="#4659a7"/><rect y="301" fill="#4659a7"/><rect y="302" fill="#4558a7"/><rect y="303" fill="#3e53a4"/><rect y="304" fill="#3b50a2"/><rect y="305" fill="#3a4fa2"/><rect y="306" fill="#374ca0"/><rect y="307" fill="#384da0"/><rect y="308" fill="#3e52a3"/><rect y="309" fill="#3e52a3"/><rect y="310" fill="#3b50a2"/><rect y="311" fill="#3e52a3"/><rect y="312" fill="#4659a7"/><rect y="313" fill="#4b5ea9"/><rect y="314" fill="#475aa7"/><rect y="315" fill="#4357a6"/><rect y="316" fill="#475aa8"/><rect y="317" fill="#4b5ea9"/><rect y="318" fill="#4659a7"/><rect y="319" fill="#3f54a4"/><rect y="320" fill="#3e52a3"/><rect y="321" fill="#3d51a3"/><rect y="322" fill="#394da1"/><rect y="323" fill="#374ca0"/><rect y="324" fill="#4155a5"/><rect y="325" fill="#4a5da9"/><rect y="326" fill="#485ba8"/><rect y="327" fill="#4155a5"/><rect y="328" fill="#4256a5"/><rect y="329" fill="#4256a5"/><rect y="330" fill="#3b4fa2"/><rect y="331" fill="#3d51a3"/><rect y="332" fill="#4457a6"/><rect y="333" fill="#475ba8"/><rect y="334" fill="#4d5faa"/><rect y="335" fill="#4c5faa"/><rect y="336" fill="#4155a5"/><rect y="337" fill="#3a4ea1"/><rect y="338" fill="#3e52a3"/><rect y="339" fill="#4357a6"/><rect y="340" fill="#4054a4"/><rect y="341" fill="#4356a5"/><rect y="342" fill="#4c5faa"/><rect y="343" fill="#4356a6"/><rect y="344" fill="#384da0"/><rect y="345" fill="#3d52a3"/><rect y="346" fill="#3e52a3"/><rect y="347" fill="#374ca0"/><rect y="348" fill="#374ca0"/><rect y="349" fill="#3b50a2"/><rect y="350" fill="#4357a6"/><rect y="351" fill="#3e53a3"/><rect y="352" fill="#3e52a3"/><rect y="353" fill="#3c51a2"/><rect y="354" fill="#374ca0"/></g>
<g class="h3"><rect y="44" fill="#eb3e44"/><rect y="45" fill="#eb3c42"/><rect y="46" fill="#eb4046"/><rect y="47" fill="#eb3b41"/><rect y="48" fill="#ea353b"/><rect y="49" fill="#ea353b"/><rect y="50" fill="#ea3b41"/><rect y="51" fill="#eb3f45"/><rect y="52" fill="#ea363c"/><rect y="53" fill="#e8262d"/><rect y="54" fill="#e8232a"/><rect y="55" fill="#e8242b"/><rect y="56" fill="#e8272e"/><rect y="57" fill="#e8242b"/><rect y="58" fill="#e8232a"/><rect y="59" fill="#e8232a"/><rect y="60" fill="#e92f36"/><rect y="61" fill="#e93036"/><rect y="62" fill="#e92930"/><rect y="63" fill="#e8232a"/><rect y="64" fill="#e8232a"/><rect y="65" fill="#ec4a4f"/><rect y="66" fill="#fce2e3"/><rect y="67" fill="#f9c3c5"/><rect y="68" fill="#f8bfc1"/><rect y="69" fill="#fde9ea"/><rect y="70" fill="#f7f8fb"/><rect y="71" fill="#e4e7f2"/><rect y="72" fill="#fefefe"/><rect y="73" fill="#f9c2c4"/><rect y="74" fill="#f8b8bb"/><rect y="75" fill="#fad2d4"/><rect y="76" fill="#fcdfe0"/><rect y="77" fill="#fce5e6"/><rect y="78" fill="#fef5f6"/><rect y="79" fill="#fcfdfe"/><rect y="80" fill="#f3f4f9"/><rect y="81" fill="#fdebeb"/><rect y="82" fill="#f7b1b4"/><rect y="83" fill="#f7b7b9"/><rect y="84" fill="#facfd0"/><rect y="85" fill="#fce6e7"/><rect y="86" fill="#fffdfd"/><rect y="87" fill="#fef5f5"/><rect y="88" fill="#fdebec"/><rect y="89" fill="#fafbfd"/><rect y="90" fill="#e4e7f2"/><rect y="91" fill="#fef7f7"/><rect y="92" fill="#f9c5c7"/><rect y="93" fill="#fbd7d8"/><rect y="94" fill="#fce2e3"/><rect y="95" fill="#f8bec0"/><rect y="96" fill="#f9c6c8"/><rect y="97" fill="#fde9e9"/><rect y="98" fill="#fef5f5"/><rect y="99" fill="#fdeeef"/><rect y="100" fill="#fce2e3"/><rect y="101" fill="#fce7e8"/><rect y="102" fill="#fef6f7"/><rect y="103" fill="#e2e5f1"/><rect y="104" fill="#c1c8e2"/><rect y="105" fill="#c4cae3"/><rect y="106" fill="#d4d8eb"/><rect y="107" fill="#dcdfee"/><rect y="108" fill="#f6f7fb"/><rect y="109" fill="#fce2e3"/><rect y="110" fill="#fdeaea"/><rect y="111" fill="#fdeeee"/><rect y="112" fill="#fdeced"/><rect y="113" fill="#fcfcfe"/><rect y="114" fill="#e9ebf5"/><rect y="115" fill="#d8dced"/><rect y="116" fill="#d6daec"/><rect y="117" fill="#dbdfee"/><rect y="118" fill="#c9cfe6"/><rect y="119" fill="#b3bbdb"/><rect y="120" fill="#bbc2df"/><rect y="121" fill="#dde1ef"/><rect y="122" fill="#ebedf6"/><rect y="123" fill="#e5e8f3"/><rect y="124" fill="#f1f2f8"/><rect y="125" fill="#fdfefe"/><rect y="126" fill="#fef1f1"/><rect y="127" fill="#ffffff"/><rect y="128" fill="#e2e5f1"/><rect y="129" fill="#d5d9eb"/><rect y="130" fill="#c2c8e2"/><rect y="131" fill="#bfc6e0"/><rect y="132" fill="#d3d7ea"/><rect y="133" fill="#ebedf6"/><rect y="134" fill="#e1e4f1"/><rect y="135" fill="#bec5e0"/><rect y="136" fill="#929ecb"/><rect y="137" fill="#7a88c0"/><rect y="138" fill="#98a3ce"/><rect y="139" fill="#a5afd4"/><rect y="140" fill="#9ca6d0"/><rect y="141" fill="#a0aad2"/><rect y="142" fill="#d5d9eb"/><rect y="143" fill="#f3f4f9"/><rect y="144" fill="#9fa9d2"/><rect y="145" fill="#5a6cb1"/><rect y="146" fill="#6e7eba"/><rect y="147" fill="#909cca"/><rect y="148" fill="#a2acd3"/><rect y="149" fill="#b8c0dd"/><rect y="150" fill="#bbc2df"/><rect y="151" fill="#b3bbdb"/><rect y="152" fill="#b0b9da"/><rect y="153" fill="#a4add4"/><rect y="154" fill="#acb5d8"/><rect y="155" fill="#b5bddc"/><rect y="156" fill="#b5bddc"/><rect y="157" fill="#cbd0e6"/><rect y="158" fill="#e0e3f0"/><rect y="159" fill="#d6daeb"/><rect y="160" fill="#b9c0de"/><rect y="161" fill="#c3c9e3"/><rect y="162" fill="#c2c8e2"/><rect y="163" fill="#a1abd2"/><rect y="164" fill="#abb4d7"/><rect y="165" fill="#abb4d7"/><rect y="166" fill="#99a4cf"/><rect y="167" fill="#98a3ce"/><rect y="168" fill="#9aa4cf"/><rect y="169" fill="#9fa9d2"/><rect y="170" fill="#8d99c9"/><rect y="171" fill="#7b89c0"/><rect y="172" fill="#919ccb"/><rect y="173" fill="#b8c0dd"/><rect y="174" fill="#c7cde4"/><rect y="175" fill="#b5bcdc"/><rect y="176" fill="#9aa5cf"/><rect y="177" fill="#7c89c1"/><rect y="178" fill="#8f9bca"/><rect y="179" fill="#b6bedc"/><rect y="180" fill="#9aa4cf"/><rect y="181" fill="#7684be"/><rect y="182" fill="#8b97c8"/><rect y="183" fill="#c4cbe3"/><rect y="184" fill="#e9ebf5"/><rect y="185" fill="#d8dcec"/><rect y="186" fill="#a9b2d6"/><rect y="187" fill="#8b97c8"/><rect y="188" fill="#95a0cd"/><rect y="189" fill="#b0b8da"/><rect y="190" fill="#b7bfdd"/><rect y="191" fill="#afb7d9"/><rect y="192" fill="#a7b0d5"/><rect y="193" fill="#a7b0d5"/><rect y="194" fill="#a7b0d5"/><rect y="195" fill="#9fa9d2"/><rect y="196" fill="#929ecb"/><rect y="197" fill="#8a96c7"/><rect y="198" fill="#8491c5"/><rect y="199" fill="#8895c7"/><rect y="200" fill="#9ba5cf"/><rect y="201" fill="#96a1cd"/><rect y="202" fill="#909cca"/><rect y="203" fill="#9ea8d1"/><rect y="204" fill="#a5afd4"/><rect y="205" fill="#98a3ce"/><rect y="206" fill="#98a3ce"/><rect y="207" fill="#aab3d7"/><rect y="208" fill="#8491c5"/><rect y="209" fill="#5264ad"/><rect y="210" fill="#6978b8"/><rect y="211" fill="#95a0cd"/><rect y="212" fill="#a3acd3"/><rect y="213" fill="#a0aad2"/><rect y="214" fill="#a2acd3"/><rect y="215" fill="#929ecb"/><rect y="216" fill="#6f7ebb"/><rect y="217" fill="#7483bd"/><rect y="218" fill="#8a97c8"/><rect y="219" fill="#99a3ce"/><rect y="220" fill="#b2bada"/><rect y="221" fill="#b3bbdb"/><rect y="222" fill="#a4add4"/><rect y="223" fill="#949fcc"/><rect y="224" fill="#7281bc"/><rect y="225" fill="#4e61ab"/><rect y="226" fill="#4d5faa"/><rect y="227" fill="#5f70b3"/><rect y="228" fill="#7785be"/><rect y="229" fill="#98a2ce"/><rect y="230" fill="#939ecc"/><rect y="231" fill="#7482bd"/><rect y="232" fill="#6373b5"/><rect y="233" fill="#5a6cb1"/><rect y="234" fill="#5f70b3"/><rect y="235" fill="#8a96c7"/><rect y="236" fill="#acb4d7"/><rect y="237" fill="#909cca"/><rect y="238" fill="#808dc3"/><rect y="239" fill="#828fc3"/><rect y="240" fill="#596ab0"/><rect y="241" fill="#485ca8"/><rect y="242" fill="#6d7dba"/><rect y="243" fill="#7785be"/><rect y="244" fill="#7281bc"/><rect y="245" fill="#7e8cc2"/><rect y="246" fill="#6e7dba"/><rect y="247" fill="#6c7cb9"/><rect y="248" fill="#7c8ac1"/><rect y="249" fill="#6777b7"/><rect y="250" fill="#6c7bb9"/><rect y="251" fill="#7d8bc1"/><rect y="252" fill="#7f8cc2"/><rect y="253" fill="#96a1cd"/><rect y="254" fill="#8794c6"/><rect y="255" fill="#5163ac"/><rect y="256" fill="#5063ac"/><rect y="257" fill="#7a88c0"/><rect y="258" fill="#818fc3"/><rect y="259" fill="#7d8ac1"/><rect y="260" fill="#8996c7"/><rect y="261" fill="#9aa5cf"/><rect y="262" fill="#8a96c7"/><rect y="263" fill="#6575b6"/><rect y="264" fill="#6a79b8"/><rect y="265" fill="#6c7bb9"/><rect y="266" fill="#5164ad"/><rect y="267" fill="#4f61ab"/><rect y="268" fill="#5365ad"/><rect y="269" fill="#6e7dba"/><rect y="270" fill="#aeb6d8"/><rect y="271" fill="#b1b9da"/><rect y="272" fill="#8491c5"/><rect y="273" fill="#6c7cb9"/><rect y="274" fill="#7785be"/><rect y="275" fill="#808dc3"/><rect y="276" fill="#7e8cc2"/><rect y="277" fill="#a4add4"/><rect y="278" fill="#c3c9e3"/><rect y="279" fill="#a4aed4"/><rect y="280" fill="#7685be"/><rect y="281" fill="#6373b5"/><rect y="282" fill="#5062ac"/><rect y="283" fill="#4f62ac"/><rect y="284" fill="#6b7ab9"/><rect y="285" fill="#6171b4"/><rect y="286" fill="#6172b4"/><rect y="287" fill="#7886bf"/><rect y="288" fill="#5769af"/><rect y="289" fill="#374ca0"/><rect y="290" fill="#4c5faa"/><rect y="291" fill="#6978b8"/><rect y="292" fill="#5b6db1"/><rect y="293" fill="#6474b5"/><rect y="294" fill="#8491c5"/><rect y="295" fill="#7987bf"/><rect y="296" fill="#5668af"/><rect y="297" fill="#4357a6"/><rect y="298" fill="#5869b0"/><rect y="299" fill="#7785be"/><rect y="300" fill="#6373b5"/><rect y="301" fill="#495ca9"/><rect y="302" fill="#4b5eaa"/><rect y="303" fill="#6071b4"/><rect y="304" fill="#6777b7"/><rect y="305" fill="#5c6db2"/><rect y="306" fill="#6878b7"/><rect y="307" fill="#5f70b3"/><rect y="308" fill="#4c5faa"/><rect y="309" fill="#4f61ab"/><rect y="310" fill="#495ca9"/><rect y="311" fill="#495ca9"/><rect y="312" fill="#475aa8"/><rect y="313" fill="#374ca0"/><rect y="314" fill="#3f54a4"/><rect y="315" fill="#5869af"/><rect y="316" fill="#5b6cb1"/><rect y="317" fill="#7583bd"/><rect y="318" fill="#9ca7d0"/><rect y="319" fill="#9da7d1"/><rect y="320" fill="#8592c5"/><rect y="321" fill="#7684be"/><rect y="322" fill="#5c6db2"/><rect y="323" fill="#4155a5"/><rect y="324" fill="#5365ad"/><rect y="325" fill="#6c7bb9"/><rect y="326" fill="#5f70b3"/><rect y="327" fill="#485ca8"/><rect y="328" fill="#374ca0"/><rect y="329" fill="#3d51a3"/><rect y="330" fill="#4a5da9"/><rect y="331" fill="#5567ae"/><rect y="332" fill="#7482bd"/><rect y="333" fill="#6273b5"/><rect y="334" fill="#374ca0"/><rect y="335" fill="#374ca0"/><rect y="336" fill="#4458a6"/><rect y="337" fill="#7281bc"/><rect y="338" fill="#7b89c0"/><rect y="339" fill="#7785be"/><rect y="340" fill="#99a4cf"/><rect y="341" fill="#939fcc"/><rect y="342" fill="#5668af"/><rect y="343" fill="#374ca0"/><rect y="344" fill="#374ca0"/><rect y="345" fill="#374ca0"/><rect y="346" fill="#374ca0"/><rect y="347" fill="#374ca0"/><rect y="348" fill="#374ca0"/><rect y="349" fill="#374ca0"/><rect y="350" fill="#374ca0"/><rect y="351" fill="#4458a6"/><rect y="352" fill="#5b6cb1"/><rect y="353" fill="#5466ae"/><rect y="354" fill="#374ca0"/></g>
<g class="h4"><rect y="44" fill="#3f53a4"/><rect y="45" fill="#5466ae"/><rect y="46" fill="#4b5ea9"/><rect y="47" fill="#4a5da9"/><rect y="48" fill="#6474b5"/><rect y="49" fill="#6172b4"/><rect y="50" fill="#596ab0"/><rect y="51" fill="#586ab0"/><rect y="52" fill="#5566ae"/><rect y="53" fill="#5567ae"/><rect y="54" fill="#5264ad"/><rect y="55" fill="#4a5da9"/><rect y="56" fill="#4c5faa"/><rect y="57" fill="#5c6db1"/><rect y="58" fill="#5c6db2"/><rect y="59" fill="#465aa7"/><rect y="60" fill="#374ca0"/><rect y="61" fill="#4659a7"/><rect y="62" fill="#5466ae"/><rect y="63" fill="#5062ac"/><rect y="64" fill="#4e60ab"/><rect y="65" fill="#4155a5"/><rect y="66" fill="#f49a9d"/><rect y="67" fill="#f28286"/><rect y="68" fill="#f06d72"/><rect y="69" fill="#f38c90"/><rect y="70" fill="#f6a6a9"/><rect y="71" fill="#f49195"/><rect y="72" fill="#f49396"/><rect y="73" fill="#f49a9d"/><rect y="74" fill="#f38c90"/><rect y="75" fill="#f49296"/><rect y="76" fill="#f39194"/><rect y="77" fill="#f2868a"/><rect y="78" fill="#f38c90"/><rect y="79" fill="#f1797d"/><rect y="80" fill="#ef656a"/><rect y="81" fill="#f06c71"/><rect y="82" fill="#f17579"/><rect y="83" fill="#f38e91"/><rect y="84" fill="#f5a2a5"/><rect y="85" fill="#f49598"/><rect y="86" fill="#f49195"/><rect y="87" fill="#f5a4a7"/><rect y="88" fill="#f49397"/><rect y="89" fill="#f07276"/><rect y="90" fill="#f27f83"/><rect y="91" fill="#f28185"/><rect y="92" fill="#f1787d"/><rect y="93" fill="#f28588"/><rect y="94" fill="#f17c80"/><rect y="95" fill="#f06e73"/><rect y="96" fill="#f17e82"/><rect y="97" fill="#f49195"/><rect y="98" fill="#f3898d"/><rect y="99" fill="#f39093"/><rect y="100" fill="#f6aaad"/><rect y="101" fill="#f5a4a7"/><rect y="102" fill="#f4999c"/><rect y="103" fill="#f4979a"/><rect y="104" fill="#f3888c"/><rect y="105" fill="#f28185"/><rect y="106" fill="#f07378"/><rect y="107" fill="#ef676c"/><rect y="108" fill="#f28488"/><rect y="109" fill="#f6abad"/><rect y="110" fill="#f7afb2"/><rect y="111" fill="#f5a0a3"/><rect y="112" fill="#f38e91"/><rect y="113" fill="#ef676c"/><rect y="114" fill="#ee585e"/><rect y="115" fill="#f1767a"/><rect y="116" fill="#f38f93"/><rect y="117" fill="#f2878b"/><rect y="118" fill="#f17b7f"/><rect y="119" fill="#f38a8e"/><rect y="120" fill="#f27e82"/><rect y="121" fill="#ef6a6f"/><rect y="122" fill="#f28185"/><rect y="123" fill="#f49598"/><rect y="124" fill="#f4989c"/><rect y="125" fill="#f49498"/><rect y="126" fill="#f28589"/><rect y="127" fill="#f28386"/><rect y="128" fill="#f38a8e"/><rect y="129" fill="#f3898d"/><rect y="130" fill="#f38b8f"/><rect y="131" fill="#f49598"/><rect y="132" fill="#f39093"/><rect y="133" fill="#f17d81"/><rect y="134" fill="#ef676b"/><rect y="135" fill="#f1797e"/><rect y="136" fill="#f5a2a5"/><rect y="137" fill="#f49397"/><rect y="138" fill="#f07075"/><rect y="139" fill="#f06f73"/><rect y="140" fill="#f17c81"/><rect y="141" fill="#f06f73"/><rect y="142" fill="#ee5e63"/><rect y="143" fill="#f07478"/><rect y="144" fill="#f28589"/><rect y="145" fill="#f27f83"/><rect y="146" fill="#f17479"/><rect y="147" fill="#f28084"/><rect y="148" fill="#f6a7aa"/><rect y="149" fill="#f6a9ac"/><rect y="150" fill="#ef696e"/><rect y="151" fill="#ec454b"/><rect y="152" fill="#ee6166"/><rect y="153" fill="#f1787c"/><rect y="154" fill="#f28589"/><rect y="155" fill="#f28589"/><rect y="156" fill="#f06e73"/><rect y="157" fill="#ee5a5f"/><rect y="158" fill="#ee5b60"/><rect y="159" fill="#f06e73"/><rect y="160" fill="#f49195"/><rect y="161" fill="#f4979a"/><rect y="162" fill="#f07276"/><rect y="163" fill="#ef6a6e"/><rect y="164" fill="#f27f83"/><rect y="165" fill="#f3898c"/><rect y="166" fill="#f38c8f"/><rect y="167" fill="#f59da0"/><rect y="168" fill="#f4989b"/><rect y="169" fill="#f38f93"/><rect y="170" fill="#f5a3a6"/><rect y="171" fill="#f38b8f"/><rect y="172" fill="#ed5359"/><rect y="173" fill="#ee5f64"/><rect y="174" fill="#f4979a"/><rect y="175" fill="#f59c9f"/><rect y="176" fill="#f49295"/><rect y="177" fill="#f59c9f"/><rect y="178" fill="#f49498"/><rect y="179" fill="#f38b8f"/><rect y="180" fill="#f38e92"/><rect y="181" fill="#f2878a"/><rect y="182" fill="#f38c90"/><rect y="183" fill="#f49598"/><rect y="184" fill="#f28185"/><rect y="185" fill="#f2878b"/><rect y="186" fill="#f5a3a6"/><rect y="187" fill="#f6adaf"/><rect y="188" fill="#f6adb0"/><rect y="189" fill="#f39093"/><rect y="190" fill="#f17d81"/><rect y="191" fill="#f49a9d"/><rect y="192" fill="#f59b9e"/><rect y="193" fill="#f17c80"/><rect y="194" fill="#f07176"/><rect y="195" fill="#ed555a"/><rect y="196" fill="#ed555a"/><rect y="197" fill="#f49498"/><rect y="198" fill="#f7afb2"/><rect y="199" fill="#f5a2a5"/><rect y="200" fill="#f38a8d"/><rect y="201" fill="#f1777b"/><rect y="202" fill="#f07377"/><rect y="203" fill="#ee6065"/><rect y="204" fill="#ed545a"/><rect y="205" fill="#f06b70"/><rect y="206" fill="#f38d90"/><rect y="207" fill="#f38a8e"/><rect y="208" fill="#f06f74"/><rect y="209" fill="#f17b7f"/><rect y="210" fill="#f59ea1"/><rect y="211" fill="#f49a9d"/><rect y="212" fill="#f1777b"/><rect y="213" fill="#ef6368"/><rect y="214" fill="#f17d81"/><rect y="215" fill="#f6abad"/><rect y="216" fill="#f5a2a5"/><rect y="217" fill="#f28286"/><rect y="218" fill="#f49295"/><rect y="219" fill="#f6aaac"/><rect y="220" fill="#f6acaf"/><rect y="221" fill="#f6a8ab"/><rect y="222" fill="#f39094"/><rect y="223" fill="#f1797d"/><rect y="224" fill="#f2878b"/><rect y="225" fill="#f38e92"/><rect y="226" fill="#f49195"/><rect y="227" fill="#f38b8e"/><rect y="228" fill="#ee5f64"/><rect y="229" fill="#ee5b60"/><rect y="230" fill="#f1797e"/><rect y="231" fill="#f38e91"/><rect y="232" fill="#f49396"/><rect y="233" fill="#f28286"/><rect y="234" fill="#f1767a"/><rect y="235" fill="#ef6569"/><rect y="236" fill="#ed565b"/><rect y="237" fill="#ef6a6f"/><rect y="238" fill="#f1787d"/><rect y="239" fill="#f07377"/><rect y="240" fill="#f28488"/><rect y="241" fill="#f4979a"/><rect y="242" fill="#f4969a"/><rect y="243" fill="#f38d91"/><rect y="244" fill="#f27f83"/><rect y="245" fill="#f1797d"/><rect y="246" fill="#f38c90"/><rect y="247" fill="#f6a5a8"/><rect y="248" fill="#f5a0a3"/><rect y="249" fill="#f6aeb0"/><rect y="250" fill="#f7b1b3"/><rect y="251" fill="#f1777b"/><rect y="252" fill="#f1767a"/><rect y="253" fill="#f4979b"/><rect y="254" fill="#f38b8f"/><rect y="255" fill="#f17b80"/><rect y="256" fill="#f1777c"/><rect y="257" fill="#f27e83"/><rect y="258" fill="#f38f93"/><rect y="259" fill="#f28387"/><rect y="260" fill="#f17c80"/><rect y="261" fill="#f4969a"/><rect y="262" fill="#f38b8f"/><rect y="263" fill="#f38a8e"/><rect y="264" fill="#f6a5a8"/><rect y="265" fill="#f28084"/><rect y="266" fill="#ec4a50"/><rect y="267" fill="#ed555a"/><rect y="268" fill="#f38a8e"/><rect y="269" fill="#f59fa2"/><rect y="270" fill="#f4979b"/><rect y="271" fill="#f2878b"/><rect y="272" fill="#ee5d62"/><rect y="273" fill="#ee6065"/><rect y="274" fill="#f49397"/><rect y="275" fill="#f7aeb1"/><rect y="276" fill="#f6a8ab"/><rect y="277" fill="#f5a0a3"/><rect y="278" fill="#f6a5a8"/><rect y="279" fill="#f5a3a6"/><rect y="280" fill="#f5a2a5"/><rect y="281" fill="#f59fa2"/><rect y="282" fill="#f28488"/><rect y="283" fill="#f1777b"/><rect y="284" fill="#f28387"/><rect y="285" fill="#f2878b"/><rect y="286" fill="#f28589"/><rect y="287" fill="#f28488"/><rect y="288" fill="#f49195"/><rect y="289" fill="#f6aaac"/><rect y="290" fill="#f6adaf"/><rect y="291" fill="#f49a9d"/><rect y="292" fill="#f39094"/><rect y="293" fill="#f3888c"/><rect y="294" fill="#f27f83"/><rect y="295" fill="#f28588"/><rect y="296" fill="#f06e72"/><rect y="297" fill="#ed5258"/><rect y="298" fill="#ed5459"/><rect y="299" fill="#ee5d62"/><rect y="300" fill="#f07377"/><rect y="301" fill="#f2878b"/><rect y="302" fill="#f39194"/><rect y="303" fill="#f38b8f"/><rect y="304" fill="#f38c8f"/><rect y="305" fill="#f4999c"/><rect y="306" fill="#f38d91"/><rect y="307" fill="#f28488"/><rect y="308" fill="#f28084"/><rect y="309" fill="#f1787c"/><rect y="310" fill="#f38a8e"/><rect y="311" fill="#f59c9f"/><rect y="312" fill="#f38e92"/><rect y="313" fill="#f39094"/><rect y="314" fill="#f6a5a8"/><rect y="315" fill="#f3898d"/><rect y="316" fill="#f07176"/><rect y="317" fill="#f27e82"/><rect y="318" fill="#f28387"/><rect y="319" fill="#f2878b"/><rect y="320" fill="#f6a5a8"/><rect y="321" fill="#f8b7ba"/><rect y="322" fill="#f6a9ac"/><rect y="323" fill="#f5a0a3"/><rect y="324" fill="#f2878b"/><rect y="325" fill="#f1787c"/><rect y="326" fill="#f3898d"/><rect y="327" fill="#f38a8e"/><rect y="328" fill="#f17c80"/><rect y="329" fill="#f07277"/><rect y="330" fill="#f06f74"/><rect y="331" fill="#f28387"/><rect y="332" fill="#f6a4a7"/><rect y="333" fill="#f6adb0"/><rect y="334" fill="#f59ea1"/><rect y="335" fill="#f38d91"/><rect y="336" fill="#f5a2a5"/><rect y="337" fill="#f8bfc1"/><rect y="338" fill="#f7afb2"/><rect y="339" fill="#f5a0a3"/><rect y="340" fill="#f6a8ab"/><rect y="341" fill="#f6aaac"/><rect y="342" fill="#f59c9f"/><rect y="343" fill="#f27e82"/><rect y="344" fill="#ef656a"/><rect y="345" fill="#ef6267"/><rect y="346" fill="#f07075"/><rect y="347" fill="#f38c90"/><rect y="348" fill="#f5a0a3"/><rect y="349" fill="#f5a4a7"/><rect y="350" fill="#f4999c"/><rect y="351" fill="#f49295"/><rect y="352" fill="#f39094"/><rect y="353" fill="#f17e82"/><rect y="354" fill="#f06f73"/></g>
<g class="h5"><rect y="44" fill="#5a6bb0"/><rect y="45" fill="#6172b4"/><rect y="46" fill="#6171b4"/><rect y="47" fill="#5e6fb3"/><rect y="48" fill="#5365ad"/><rect y="49" fill="#4559a7"/><rect y="50" fill="#4b5da9"/><rect y="51" fill="#5365ad"/><rect y="52" fill="#5567ae"/><rect y="53" fill="#6070b3"/><rect y="54" fill="#6070b3"/><rect y="55" fill="#5567ae"/><rect y="56" fill="#5365ad"/><rect y="57" fill="#485ba8"/><rect y="58" fill="#4f62ab"/><rect y="59" fill="#6272b4"/><rect y="60" fill="#586ab0"/><rect y="61" fill="#5163ac"/><rect y="62" fill="#4558a7"/><rect y="63" fill="#3a4fa1"/><rect y="64" fill="#5566ae"/><rect y="65" fill="#6171b4"/><rect y="66" fill="#f8bbbd"/><rect y="67" fill="#f9c3c5"/><rect y="68" fill="#f7afb1"/><rect y="69" fill="#f59ea2"/><rect y="70" fill="#f5a2a5"/><rect y="71" fill="#f9c9cb"/><rect y="72" fill="#fde9ea"/><rect y="73" fill="#fbd5d7"/><rect y="74" fill="#f7b7b9"/><rect y="75" fill="#f7b7b9"/><rect y="76" fill="#f8bfc1"/><rect y="77" fill="#f8bfc1"/><rect y="78" fill="#f8b9bb"/><rect y="79" fill="#f6aaad"/><rect y="80" fill="#f4969a"/><rect y="81" fill="#f38d91"/><rect y="82" fill="#f6a9ab"/><rect y="83" fill="#f8bbbd"/><rect y="84" fill="#f6a6a9"/><rect y="85" fill="#f38c90"/><rect y="86" fill="#f39094"/><rect y="87" fill="#f59ea1"/><rect y="88" fill="#f5a0a3"/><rect y="89" fill="#f6acae"/><rect y="90" fill="#f6a8ab"/><rect y="91" fill="#f49598"/><rect y="92" fill="#f49599"/><rect y="93" fill="#f6abae"/><rect y="94" fill="#f49598"/><rect y="95" fill="#f17579"/><rect y="96" fill="#f7afb1"/><rect y="97" fill="#fbd9da"/><rect y="98" fill="#f7b2b5"/><rect y="99" fill="#f4989b"/><rect y="100" fill="#f7b0b2"/><rect y="101" fill="#faccce"/><rect y="102" fill="#f9c5c7"/><rect y="103" fill="#f9c3c4"/><rect y="104" fill="#f9c9ca"/><rect y="105" fill="#f6a4a7"/><rect y="106" fill="#f28084"/><rect y="107" fill="#f38a8d"/><rect y="108" fill="#f59b9e"/><rect y="109" fill="#f7b2b5"/><rect y="110" fill="#f9c4c6"/><rect y="111" fill="#f9c4c6"/><rect y="112" fill="#f7b5b7"/><rect y="113" fill="#f39194"/><rect y="114" fill="#f49599"/><rect y="115" fill="#f7b5b7"/><rect y="116" fill="#f7b5b8"/><rect y="117" fill="#f6a5a8"/><rect y="118" fill="#f59da0"/><rect y="119" fill="#f6acaf"/><rect y="120" fill="#f6aaac"/><rect y="121" fill="#f7aeb1"/><rect y="122" fill="#f9c6c8"/><rect y="123" fill="#facecf"/><rect y="124" fill="#fbd9da"/><rect y="125" fill="#f9c7c8"/><rect y="126" fill="#f5a4a7"/><rect y="127" fill="#f6a8ab"/><rect y="128" fill="#f7b1b3"/><rect y="129" fill="#f7b0b3"/><rect y="130" fill="#f8bec0"/><rect y="131" fill="#f8bbbd"/><rect y="132" fill="#f7b1b3"/><rect y="133" fill="#f8b8ba"/><rect y="134" fill="#f9c4c6"/><rect y="135" fill="#facbcc"/><rect y="136" fill="#f8b9bb"/><rect y="137" fill="#f59c9f"/><rect y="138" fill="#f49397"/><rect y="139" fill="#f4989c"/><rect y="140" fill="#f2878b"/><rect y="141" fill="#f07378"/><rect y="142" fill="#f38e92"/><rect y="143" fill="#f6abae"/><rect y="144" fill="#f59c9f"/><rect y="145" fill="#f38a8e"/><rect y="146" fill="#f59ea1"/><rect y="147" fill="#f8b8ba"/><rect y="148" fill="#f7b5b8"/><rect y="149" fill="#f7b5b7"/><rect y="150" fill="#f8bfc1"/><rect y="151" fill="#f6abae"/><rect y="152" fill="#f59da0"/><rect y="153" fill="#f8b9bc"/><rect y="154" fill="#f9c7c9"/><rect y="155" fill="#f9c3c5"/><rect y="156" fill="#facecf"/><rect y="157" fill="#f8bcbe"/><rect y="158" fill="#f6a9ab"/><rect y="159" fill="#f9c6c8"/><rect y="160" fill="#fcdedf"/><rect y="161" fill="#f8bcbe"/><rect y="162" fill="#f59ea2"/><rect y="163" fill="#f8b9bc"/><rect y="164" fill="#f9cacc"/><rect y="165" fill="#f7b5b7"/><rect y="166" fill="#f5a1a4"/><rect y="167" fill="#f6a6a9"/><rect y="168" fill="#f8bcbe"/><rect y="169" fill="#f9c2c4"/><rect y="170" fill="#f7b3b5"/><rect y="171" fill="#f7afb1"/><rect y="172" fill="#f8b8ba"/><rect y="173" fill="#facbcc"/><rect y="174" fill="#f9c2c4"/><rect y="175" fill="#f6a5a8"/><rect y="176" fill="#f6a5a8"/><rect y="177" fill="#f6aaac"/><rect y="178" fill="#f6a7aa"/><rect y="179" fill="#f8bdc0"/><rect y="180" fill="#facfd1"/><rect y="181" fill="#f6acaf"/><rect y="182" fill="#f39093"/><rect y="183" fill="#f49699"/><rect y="184" fill="#f59fa2"/><rect y="185" fill="#f6acaf"/><rect y="186" fill="#f8c0c2"/><rect y="187" fill="#f8c0c2"/><rect y="188" fill="#f6aaad"/><rect y="189" fill="#f5a4a7"/><rect y="190" fill="#f7aeb1"/><rect y="191" fill="#f8bdbf"/><rect y="192" fill="#f7b4b7"/><rect y="193" fill="#f59b9e"/><rect y="194" fill="#f59ea1"/><rect y="195" fill="#f5a1a4"/><rect y="196" fill="#f49699"/><rect y="197" fill="#f59c9f"/><rect y="198" fill="#f5a0a3"/><rect y="199" fill="#f39194"/><rect y="200" fill="#f4999c"/><rect y="201" fill="#f6a9ac"/><rect y="202" fill="#f6a6a9"/><rect y="203" fill="#f5a1a4"/><rect y="204" fill="#f4999c"/><rect y="205" fill="#f6a6a9"/><rect y="206" fill="#f7b3b6"/><rect y="207" fill="#f6a6a9"/><rect y="208" fill="#f49396"/><rect y="209" fill="#f2878b"/><rect y="210" fill="#f38d91"/><rect y="211" fill="#f39093"/><rect y="212" fill="#f38c8f"/><rect y="213" fill="#f4989b"/><rect y="214" fill="#f7b5b7"/><rect y="215" fill="#f9c5c7"/><rect y="216" fill="#f6a8ab"/><rect y="217" fill="#f59b9e"/><rect y="218" fill="#f7b4b6"/><rect y="219" fill="#f6acae"/><rect y="220" fill="#f49295"/><rect y="221" fill="#f49699"/><rect y="222" fill="#f4999c"/><rect y="223" fill="#f38c90"/><rect y="224" fill="#f27e82"/><rect y="225" fill="#f49296"/><rect y="226" fill="#f9c8ca"/><rect y="227" fill="#fcdfe0"/><rect y="228" fill="#fad0d1"/><rect y="229" fill="#f9cacc"/><rect y="230" fill="#fbdbdc"/><rect y="231" fill="#fbd4d6"/><rect y="232" fill="#f6abae"/><rect y="233" fill="#f49295"/><rect y="234" fill="#f5a4a6"/><rect y="235" fill="#fad3d4"/><rect y="236" fill="#fce2e3"/><rect y="237" fill="#f8bec0"/><rect y="238" fill="#f8b8bb"/><rect y="239" fill="#facbcc"/><rect y="240" fill="#f7b2b5"/><rect y="241" fill="#f59ea1"/><rect y="242" fill="#f6a6a9"/><rect y="243" fill="#f38e91"/><rect y="244" fill="#f07276"/><rect y="245" fill="#f17b80"/><rect y="246" fill="#f59ea1"/><rect y="247" fill="#f9c9ca"/><rect y="248" fill="#facecf"/><rect y="249" fill="#f7b0b2"/><rect y="250" fill="#f38a8e"/><rect y="251" fill="#f2868a"/><rect y="252" fill="#f6a9ac"/><rect y="253" fill="#f8bbbd"/><rect y="254" fill="#f9c4c6"/><rect y="255" fill="#f8bdbf"/><rect y="256" fill="#f59b9e"/><rect y="257" fill="#f28589"/><rect y="258" fill="#f49a9d"/><rect y="259" fill="#f8b9bc"/><rect y="260" fill="#f7aeb1"/><rect y="261" fill="#f38e92"/><rect y="262" fill="#f38d91"/><rect y="263" fill="#f59da1"/><rect y="264" fill="#f5a2a5"/><rect y="265" fill="#f59fa2"/><rect y="266" fill="#f6a6a9"/><rect y="267" fill="#f9c8ca"/><rect y="268" fill="#fef2f3"/><rect y="269" fill="#fdf0f0"/><rect y="270" fill="#f9c5c7"/><rect y="271" fill="#f7b7b9"/><rect y="272" fill="#f6a8aa"/><rect y="273" fill="#f49497"/><rect y="274" fill="#f6a5a8"/><rect y="275" fill="#f6acaf"/><rect y="276" fill="#f7b0b2"/><rect y="277" fill="#fad2d3"/><rect y="278" fill="#facfd0"/><rect y="279" fill="#f5a1a4"/><rect y="280" fill="#f49296"/><rect y="281" fill="#f4999c"/><rect y="282" fill="#f59da0"/><rect y="283" fill="#f5a0a3"/><rect y="284" fill="#f59da0"/><rect y="285" fill="#f49497"/><rect y="286" fill="#f59b9e"/><rect y="287" fill="#f8babc"/><rect y="288" fill="#fbd6d7"/><rect y="289" fill="#fbddde"/><rect y="290" fill="#f9c9cb"/><rect y="291" fill="#f7b4b6"/><rect y="292" fill="#f59ea1"/><rect y="293" fill="#f38f93"/><rect y="294" fill="#f49a9d"/><rect y="295" fill="#f7afb2"/><rect y="296" fill="#f6adaf"/><rect y="297" fill="#f5a4a7"/><rect y="298" fill="#f6adaf"/><rect y="299" fill="#f7afb1"/><rect y="300" fill="#f8bec0"/><rect y="301" fill="#f7b7b9"/><rect y="302" fill="#f38b8f"/><rect y="303" fill="#f38e92"/><rect y="304" fill="#f8bfc1"/><rect y="305" fill="#f9cacc"/><rect y="306" fill="#f39094"/><rect y="307" fill="#f07277"/><rect y="308" fill="#f49598"/><rect y="309" fill="#f6aaac"/><rect y="310" fill="#f6abad"/><rect y="311" fill="#f59fa2"/><rect y="312" fill="#f38f93"/><rect y="313" fill="#f59ea1"/><rect y="314" fill="#f8bdbf"/><rect y="315" fill="#fce3e4"/><rect y="316" fill="#fcdfe0"/><rect y="317" fill="#f6a6a9"/><rect y="318" fill="#f3888c"/><rect y="319" fill="#f59da0"/><rect y="320" fill="#f6adb0"/><rect y="321" fill="#f6acaf"/><rect y="322" fill="#f8bbbd"/><rect y="323" fill="#f5a3a6"/><rect y="324" fill="#f28488"/><rect y="325" fill="#f4999c"/><rect y="326" fill="#f5a0a3"/><rect y="327" fill="#f59da0"/><rect y="328" fill="#f5a1a4"/><rect y="329" fill="#f6a7aa"/><rect y="330" fill="#f7b4b7"/><rect y="331" fill="#f7b1b3"/><rect y="332" fill="#f7b0b2"/><rect y="333" fill="#f7b2b5"/><rect y="334" fill="#f6aaac"/><rect y="335" fill="#f7b0b3"/><rect y="336" fill="#f7b5b7"/><rect y="337" fill="#f7b6b8"/><rect y="338" fill="#f8babc"/><rect y="339" fill="#f7b1b3"/><rect y="340" fill="#f6abad"/><rect y="341" fill="#f8bcbe"/><rect y="342" fill="#f7b6b8"/><rect y="343" fill="#f49598"/><rect y="344" fill="#f49396"/><rect y="345" fill="#f5a2a5"/><rect y="346" fill="#f7b0b3"/><rect y="347" fill="#f7b7b9"/><rect y="348" fill="#f6a8ab"/><rect y="349" fill="#f3888c"/><rect y="350" fill="#f49195"/><rect y="351" fill="#f6aaad"/><rect y="352" fill="#f5a1a4"/><rect y="353" fill="#f6a9ab"/><rect y="354" fill="#f8babc"/></g>
<g class="h6"><rect y="44" fill="#5d6eb2"/><rect y="45" fill="#5566ae"/><rect y="46" fill="#485ba8"/><rect y="47" fill="#475aa8"/><rect y="48" fill="#5a6bb1"/><rect y="49" fill="#6777b7"/><rect y="50" fill="#6e7dba"/><rect y="51" fill="#6978b8"/><rect y="52" fill="#5466ae"/><rect y="53" fill="#5668af"/><rect y="54" fill="#6071b3"/><rect y="55" fill="#6070b3"/><rect y="56" fill="#6272b4"/><rect y="57" fill="#596bb0"/><rect y="58" fill="#4c5faa"/><rect y="59" fill="#475aa7"/><rect y="60" fill="#4c5faa"/><rect y="61" fill="#5466ae"/><rect y="62" fill="#5a6cb1"/><rect y="63" fill="#6272b4"/><rect y="64" fill="#6575b6"/><rect y="65" fill="#6474b5"/><rect y="66" fill="#e92f36"/><rect y="67" fill="#ea383f"/><rect y="68" fill="#ea383e"/><rect y="69" fill="#ea3940"/><rect y="70" fill="#ea3a40"/><rect y="71" fill="#ea393f"/><rect y="72" fill="#ea373d"/><rect y="73" fill="#ea383e"/><rect y="74" fill="#ea343b"/><rect y="75" fill="#e92b32"/><rect y="76" fill="#e9292f"/><rect y="77" fill="#ea333a"/><rect y="78" fill="#eb4147"/><rect y="79" fill="#eb4349"/><rect y="80" fill="#e92f35"/><rect y="81" fill="#e8232a"/><rect y="82" fill="#e8232a"/><rect y="83" fill="#e9282f"/><rect y="84" fill="#e92b31"/><rect y="85" fill="#e92b32"/><rect y="86" fill="#e92d34"/><rect y="87" fill="#ea393f"/><rect y="88" fill="#eb3d44"/><rect y="89" fill="#ea333a"/><rect y="90" fill="#e92e35"/><rect y="91" fill="#e93137"/><rect y="92" fill="#e93037"/><rect y="93" fill="#e92e34"/><rect y="94" fill="#e92e35"/><rect y="95" fill="#e92d34"/><rect y="96" fill="#e92c32"/><rect y="97" fill="#e92b32"/><rect y="98" fill="#e8262d"/><rect y="99" fill="#e8252c"/><rect y="100" fill="#e92c33"/><rect y="101" fill="#e92930"/><rect y="102" fill="#e8232a"/><rect y="103" fill="#e8232a"/><rect y="104" fill="#e8232a"/><rect y="105" fill="#e93037"/><rect y="106" fill="#ea383e"/><rect y="107" fill="#ea333a"/><rect y="108" fill="#e9282f"/><rect y="109" fill="#e8232a"/><rect y="110" fill="#e8232a"/><rect y="111" fill="#e8232a"/><rect y="112" fill="#ea353c"/><rect y="113" fill="#eb4248"/><rect y="114" fill="#ea373e"/><rect y="115" fill="#e9282f"/><rect y="116" fill="#e92c33"/><rect y="117" fill="#e92f36"/><rect y="118" fill="#e92d34"/><rect y="119" fill="#e92f36"/><rect y="120" fill="#ea363d"/><rect y="121" fill="#ea3940"/><rect y="122" fill="#e93137"/><rect y="123" fill="#e92f36"/><rect y="124" fill="#ea373d"/><rect y="125" fill="#ea373d"/><rect y="126" fill="#ea353b"/><rect y="127" fill="#ea353c"/><rect y="128" fill="#ea383e"/><rect y="129" fill="#ea353b"/><rect y="130" fill="#e9282f"/><rect y="131" fill="#e8232a"/><rect y="132" fill="#e92b32"/><rect y="133" fill="#ea333a"/><rect y="134" fill="#ea343b"/><rect y="135" fill="#e92b32"/><rect y="136" fill="#e9282f"/><rect y="137" fill="#e92c33"/><rect y="138" fill="#e92d34"/><rect y="139" fill="#e92b31"/><rect y="140" fill="#e8262d"/><rect y="141" fill="#e8262d"/><rect y="142" fill="#e8262d"/><rect y="143" fill="#e8282e"/><rect y="144" fill="#e92b31"/><rect y="145" fill="#e92a31"/><rect y="146" fill="#e92c33"/><rect y="147" fill="#e92b31"/><rect y="148" fill="#e92b32"/><rect y="149" fill="#e93037"/><rect y="150" fill="#e92c32"/><rect y="151" fill="#e92f36"/><rect y="152" fill="#ea393f"/><rect y="153" fill="#ea343b"/><rect y="154" fill="#e92f35"/><rect y="155" fill="#ea343a"/><rect y="156" fill="#ea3940"/><rect y="157" fill="#eb3f45"/><rect y="158" fill="#eb4349"/><rect y="159" fill="#ea3940"/><rect y="160" fill="#e93138"/><rect y="161" fill="#ea3a41"/><rect y="162" fill="#ea393f"/><rect y="163" fill="#e92c33"/><rect y="164" fill="#e93138"/><rect y="165" fill="#ea353c"/><rect y="166" fill="#e92f36"/><rect y="167" fill="#ea333a"/><rect y="168" fill="#eb3d43"/><rect y="169" fill="#eb3c42"/><rect y="170" fill="#ea363c"/><rect y="171" fill="#ea363c"/><rect y="172" fill="#eb3b41"/><rect y="173" fill="#ea353c"/><rect y="174" fill="#e92a30"/><rect y="175" fill="#e8242b"/><rect y="176" fill="#e8232a"/><rect y="177" fill="#e8242b"/><rect y="178" fill="#e8232a"/><rect y="179" fill="#e92930"/><rect y="180" fill="#ea373d"/><rect y="181" fill="#ea343a"/><rect y="182" fill="#e92b31"/><rect y="183" fill="#e92d34"/><rect y="184" fill="#ea373e"/><rect y="185" fill="#eb4046"/><rect y="186" fill="#eb3b42"/><rect y="187" fill="#e92e34"/><rect y="188" fill="#e93036"/><rect y="189" fill="#eb3c43"/><rect y="190" fill="#eb3c42"/><rect y="191" fill="#ea333a"/><rect y="192" fill="#e92d34"/><rect y="193" fill="#e93137"/><rect y="194" fill="#ea383f"/><rect y="195" fill="#ea3339"/><rect y="196" fill="#e93036"/><rect y="197" fill="#ea383e"/><rect y="198" fill="#eb3e44"/><rect y="199" fill="#eb3c43"/><rect y="200" fill="#ea343b"/><rect y="201" fill="#ea383f"/><rect y="202" fill="#eb3e44"/><rect y="203" fill="#ea393f"/><rect y="204" fill="#ea363d"/><rect y="205" fill="#ea363c"/><rect y="206" fill="#e93137"/><rect y="207" fill="#ea343a"/><rect y="208" fill="#eb4046"/><rect y="209" fill="#eb3d43"/><rect y="210" fill="#e92b32"/><rect y="211" fill="#e9282f"/><rect y="212" fill="#e92c33"/><rect y="213" fill="#e8252c"/><rect y="214" fill="#e8282e"/><rect y="215" fill="#ea343b"/><rect y="216" fill="#ea373e"/><rect y="217" fill="#e92f36"/><rect y="218" fill="#e92f35"/><rect y="219" fill="#ea3b41"/><rect y="220" fill="#eb3d43"/><rect y="221" fill="#ea383f"/><rect y="222" fill="#ea363c"/><rect y="223" fill="#e93036"/><rect y="224" fill="#e92930"/><rect y="225" fill="#e8242b"/><rect y="226" fill="#e8252c"/><rect y="227" fill="#e8242b"/><rect y="228" fill="#e8232a"/><rect y="229" fill="#e92c33"/><rect y="230" fill="#ea3238"/><rect y="231" fill="#e93037"/><rect y="232" fill="#ea3239"/><rect y="233" fill="#eb4248"/><rect y="234" fill="#ec484e"/><rect y="235" fill="#eb3b41"/><rect y="236" fill="#eb3d44"/><rect y="237" fill="#ec464c"/><rect y="238" fill="#eb4046"/><rect y="239" fill="#ea363c"/><rect y="240" fill="#ea353c"/><rect y="241" fill="#ea373d"/><rect y="242" fill="#e92e35"/><rect y="243" fill="#e92a31"/><rect y="244" fill="#ea3238"/><rect y="245" fill="#ea3239"/><rect y="246" fill="#e92930"/><rect y="247" fill="#e92930"/><rect y="248" fill="#ea343a"/><rect y="249" fill="#ea383f"/><rect y="250" fill="#ea363d"/><rect y="251" fill="#ea353b"/><rect y="252" fill="#e92f35"/><rect y="253" fill="#e92b32"/><rect y="254" fill="#e92f36"/><rect y="255" fill="#ea383e"/><rect y="256" fill="#ea383f"/><rect y="257" fill="#e92f36"/><rect y="258" fill="#e92f35"/><rect y="259" fill="#e93037"/><rect y="260" fill="#ea333a"/><rect y="261" fill="#ea3940"/><rect y="262" fill="#ea373e"/><rect y="263" fill="#ea343a"/><rect y="264" fill="#ea373d"/><rect y="265" fill="#ea353b"/><rect y="266" fill="#e8282f"/><rect y="267" fill="#e8232a"/><rect y="268" fill="#e8232a"/><rect y="269" fill="#e8232a"/><rect y="270" fill="#e8282e"/><rect y="271" fill="#e8262d"/><rect y="272" fill="#e8232a"/><rect y="273" fill="#e92b32"/><rect y="274" fill="#e93036"/><rect y="275" fill="#e8272e"/><rect y="276" fill="#e8232a"/><rect y="277" fill="#e8232a"/><rect y="278" fill="#e92a31"/><rect y="279" fill="#ea363c"/><rect y="280" fill="#e92e35"/><rect y="281" fill="#e8252c"/><rect y="282" fill="#e92d34"/><rect y="283" fill="#ea363c"/><rect y="284" fill="#ea383e"/><rect y="285" fill="#e92b31"/><rect y="286" fill="#e8232a"/><rect y="287" fill="#e8232a"/><rect y="288" fill="#e8232a"/><rect y="289" fill="#e8252c"/><rect y="290" fill="#e9282f"/><rect y="291" fill="#ea3238"/><rect y="292" fill="#eb4147"/><rect y="293" fill="#eb3d43"/><rect y="294" fill="#ea3339"/><rect y="295" fill="#ea363d"/><rect y="296" fill="#ea3a41"/><rect y="297" fill="#eb3d43"/><rect y="298" fill="#eb3f45"/><rect y="299" fill="#eb3b42"/><rect y="300" fill="#e92c33"/><rect y="301" fill="#e8232a"/><rect y="302" fill="#e8272e"/><rect y="303" fill="#e8262d"/><rect y="304" fill="#e8232a"/><rect y="305" fill="#e92f35"/><rect y="306" fill="#e93138"/><rect y="307" fill="#e8232a"/><rect y="308" fill="#e8232a"/><rect y="309" fill="#e8252c"/><rect y="310" fill="#ea363d"/><rect y="311" fill="#ea343a"/><rect y="312" fill="#e8272d"/><rect y="313" fill="#e92e35"/><rect y="314" fill="#ea363d"/><rect y="315" fill="#ea363d"/><rect y="316" fill="#ea353b"/><rect y="317" fill="#ea353c"/><rect y="318" fill="#ea343b"/><rect y="319" fill="#e93036"/><rect y="320" fill="#e93137"/><rect y="321" fill="#ea383e"/><rect y="322" fill="#ea353c"/><rect y="323" fill="#e8232a"/><rect y="324" fill="#e8232a"/><rect y="325" fill="#e8232a"/><rect y="326" fill="#e92c32"/><rect y="327" fill="#e92a31"/><rect y="328" fill="#e92f36"/><rect y="329" fill="#ea3239"/><rect y="330" fill="#e92930"/><rect y="331" fill="#e92930"/><rect y="332" fill="#ea373e"/><rect y="333" fill="#eb4147"/><rect y="334" fill="#ec474d"/><rect y="335" fill="#ec474d"/><rect y="336" fill="#ea393f"/><rect y="337" fill="#e93137"/><rect y="338" fill="#e92b32"/><rect y="339" fill="#ea333a"/><rect y="340" fill="#eb4046"/><rect y="341" fill="#ea393f"/><rect y="342" fill="#e92e35"/><rect y="343" fill="#e8232a"/><rect y="344" fill="#e8232a"/><rect y="345" fill="#e9282f"/><rect y="346" fill="#e92a31"/><rect y="347" fill="#e92b32"/><rect y="348" fill="#e92e34"/><rect y="349" fill="#e93037"/><rect y="350" fill="#ea353b"/><rect y="351" fill="#e92c33"/><rect y="352" fill="#e92a30"/><rect y="353" fill="#eb4248"/><rect y="354" fill="#ee5c61"/></g>
<g class="h7"><rect y="44" fill="#95a0cd"/><rect y="45" fill="#7c8ac1"/><rect y="46" fill="#7180bc"/><rect y="47" fill="#6676b6"/><rect y="48" fill="#5365ad"/><rect y="49" fill="#586ab0"/><rect y="50" fill="#6978b8"/><rect y="51" fill="#6a7ab8"/><rect y="52" fill="#7382bd"/><rect y="53" fill="#7785be"/><rect y="54" fill="#6c7bb9"/><rect y="55" fill="#707fbb"/><rect y="56" fill="#7b89c0"/><rect y="57" fill="#8390c4"/><rect y="58" fill="#7d8bc1"/><rect y="59" fill="#6a7ab8"/><rect y="60" fill="#707fbb"/><rect y="61" fill="#7685be"/><rect y="62" fill="#6979b8"/><rect y="63" fill="#596ab0"/><rect y="64" fill="#4256a5"/><rect y="65" fill="#4559a7"/><rect y="66" fill="#ef6368"/><rect y="67" fill="#ee5b60"/><rect y="68" fill="#eb4046"/><rect y="69" fill="#e8232a"/><rect y="70" fill="#e8262d"/><rect y="71" fill="#ea3a40"/><rect y="72" fill="#e92e35"/><rect y="73" fill="#e92c33"/><rect y="74" fill="#ec4d52"/><rect y="75" fill="#ef686c"/><rect y="76" fill="#f07074"/><rect y="77" fill="#ed555a"/><rect y="78" fill="#eb4248"/><rect y="79" fill="#ed565b"/><rect y="80" fill="#ee595e"/><rect y="81" fill="#ec474d"/><rect y="82" fill="#eb4147"/><rect y="83" fill="#ed5156"/><rect y="84" fill="#ed4e54"/><rect y="85" fill="#eb4147"/><rect y="86" fill="#ed5359"/><rect y="87" fill="#ed575c"/><rect y="88" fill="#eb4248"/><rect y="89" fill="#e92a31"/><rect y="90" fill="#e92b32"/><rect y="91" fill="#eb3f45"/><rect y="92" fill="#ea333a"/><rect y="93" fill="#ea363c"/><rect y="94" fill="#ed565b"/><rect y="95" fill="#ee595e"/><rect y="96" fill="#ec4d53"/><rect y="97" fill="#ec464c"/><rect y="98" fill="#ed5459"/><rect y="99" fill="#ee6065"/><rect y="100" fill="#eb3f45"/><rect y="101" fill="#ea333a"/><rect y="102" fill="#ec4d53"/><rect y="103" fill="#ed575c"/><rect y="104" fill="#ed4f55"/><rect y="105" fill="#eb4349"/><rect y="106" fill="#ed5359"/><rect y="107" fill="#ee5f64"/><rect y="108" fill="#ec4d53"/><rect y="109" fill="#eb3f45"/><rect y="110" fill="#eb3d43"/><rect y="111" fill="#ea363d"/><rect y="112" fill="#e8232a"/><rect y="113" fill="#e8232a"/><rect y="114" fill="#ea3238"/><rect y="115" fill="#eb4348"/><rect y="116" fill="#ed4e54"/><rect y="117" fill="#ee6065"/><rect y="118" fill="#ef656a"/><rect y="119" fill="#ed4e54"/><rect y="120" fill="#ea3a40"/><rect y="121" fill="#eb3f45"/><rect y="122" fill="#ec494e"/><rect y="123" fill="#ec4b50"/><rect y="124" fill="#ec484e"/><rect y="125" fill="#ed565c"/><rect y="126" fill="#ef696e"/><rect y="127" fill="#ee5a5f"/><rect y="128" fill="#ea393f"/><rect y="129" fill="#e8262d"/><rect y="130" fill="#e9282f"/><rect y="131" fill="#ec4b51"/><rect y="132" fill="#ee585d"/><rect y="133" fill="#ea383e"/><rect y="134" fill="#eb3f45"/><rect y="135" fill="#ee5f64"/><rect y="136" fill="#ed545a"/><rect y="137" fill="#eb3f45"/><rect y="138" fill="#eb3f45"/><rect y="139" fill="#e93138"/><rect y="140" fill="#e92a30"/><rect y="141" fill="#ec454b"/><rect y="142" fill="#ed5359"/><rect y="143" fill="#eb4248"/><rect y="144" fill="#e92c32"/><rect y="145" fill="#e92a31"/><rect y="146" fill="#ec464c"/><rect y="147" fill="#ec494e"/><rect y="148" fill="#e9282f"/><rect y="149" fill="#e8232a"/><rect y="150" fill="#eb3d43"/><rect y="151" fill="#eb444a"/><rect y="152" fill="#eb3f45"/><rect y="153" fill="#eb4147"/><rect y="154" fill="#ea393f"/><rect y="155" fill="#ea3339"/><rect y="156" fill="#eb4046"/><rect y="157" fill="#ed5055"/><rect y="158" fill="#ec454b"/><rect y="159" fill="#e8232a"/><rect y="160" fill="#e8232a"/><rect y="161" fill="#e8232a"/><rect y="162" fill="#e92e34"/><rect y="163" fill="#ea3138"/><rect y="164" fill="#ec454b"/><rect y="165" fill="#ed5358"/><rect y="166" fill="#eb4349"/><rect y="167" fill="#ec474d"/><rect y="168" fill="#ed5055"/><rect y="169" fill="#eb3f45"/><rect y="170" fill="#ea3a41"/><rect y="171" fill="#eb444a"/><rect y="172" fill="#ed5358"/><rect y="173" fill="#ed555b"/><rect y="174" fill="#eb3d43"/><rect y="175" fill="#ea3238"/><rect y="176" fill="#e9282f"/><rect y="177" fill="#e92e35"/><rect y="178" fill="#ee5a60"/><rect y="179" fill="#ee5f64"/><rect y="180" fill="#ed5257"/><rect y="181" fill="#ee5d62"/><rect y="182" fill="#ee585d"/><rect y="183" fill="#ec4e53"/><rect y="184" fill="#ec4b50"/><rect y="185" fill="#ea393f"/><rect y="186" fill="#e92f35"/><rect y="187" fill="#ec494f"/><rect y="188" fill="#ef656a"/><rect y="189" fill="#ee5a5f"/><rect y="190" fill="#ec484d"/><rect y="191" fill="#eb3f45"/><rect y="192" fill="#eb3f45"/><rect y="193" fill="#ed4e54"/><rect y="194" fill="#ed4f54"/><rect y="195" fill="#ed5358"/><rect y="196" fill="#ee585e"/><rect y="197" fill="#ea3a40"/><rect y="198" fill="#e8232a"/><rect y="199" fill="#e8232a"/><rect y="200" fill="#e8262d"/><rect y="201" fill="#e92a31"/><rect y="202" fill="#ea363d"/><rect y="203" fill="#eb444a"/><rect y="204" fill="#ea383e"/><rect y="205" fill="#eb4449"/><rect y="206" fill="#ee5e63"/><rect y="207" fill="#ee5b60"/><rect y="208" fill="#ef6267"/><rect y="209" fill="#ef666b"/><rect y="210" fill="#eb4349"/><rect y="211" fill="#ea353b"/><rect y="212" fill="#ec484d"/><rect y="213" fill="#ec4b51"/><rect y="214" fill="#eb444a"/><rect y="215" fill="#e92a31"/><rect y="216" fill="#e8232a"/><rect y="217" fill="#e8262d"/><rect y="218" fill="#eb4046"/><rect y="219" fill="#ee585d"/><rect y="220" fill="#ee595e"/><rect y="221" fill="#eb444a"/><rect y="222" fill="#ec474c"/><rect y="223" fill="#ee5b60"/><rect y="224" fill="#ef656a"/><rect y="225" fill="#ee5c61"/><rect y="226" fill="#eb444a"/><rect y="227" fill="#ea3a41"/><rect y="228" fill="#ea3a40"/><rect y="229" fill="#ea333a"/><rect y="230" fill="#ea353c"/><rect y="231" fill="#eb4147"/><rect y="232" fill="#eb3f45"/><rect y="233" fill="#ea353b"/><rect y="234" fill="#ea343b"/><rect y="235" fill="#ea333a"/><rect y="236" fill="#e92a31"/><rect y="237" fill="#e92b32"/><rect y="238" fill="#eb3d43"/><rect y="239" fill="#ec474d"/><rect y="240" fill="#eb4248"/><rect y="241" fill="#eb444a"/><rect y="242" fill="#ed5055"/><rect y="243" fill="#eb3f45"/><rect y="244" fill="#e92f35"/><rect y="245" fill="#eb4046"/><rect y="246" fill="#ed5055"/><rect y="247" fill="#ee5a5f"/><rect y="248" fill="#ee5e63"/><rect y="249" fill="#ee5b61"/><rect y="250" fill="#ed555a"/><rect y="251" fill="#ec484e"/><rect y="252" fill="#ec464b"/><rect y="253" fill="#eb3c42"/><rect y="254" fill="#e8272e"/><rect y="255" fill="#e8252c"/><rect y="256" fill="#ea353b"/><rect y="257" fill="#ed4e54"/><rect y="258" fill="#ed5156"/><rect y="259" fill="#ec484e"/><rect y="260" fill="#ec494f"/><rect y="261" fill="#e93137"/><rect y="262" fill="#e92930"/><rect y="263" fill="#eb3c42"/><rect y="264" fill="#ea3239"/><rect y="265" fill="#e92c32"/><rect y="266" fill="#ea353c"/><rect y="267" fill="#eb3f45"/><rect y="268" fill="#ec454a"/><rect y="269" fill="#ea393f"/><rect y="270" fill="#e8242b"/><rect y="271" fill="#e8252c"/><rect y="272" fill="#ea363d"/><rect y="273" fill="#eb3c42"/><rect y="274" fill="#ec474d"/><rect y="275" fill="#ee5c61"/><rect y="276" fill="#ee5b60"/><rect y="277" fill="#eb3f45"/><rect y="278" fill="#eb4349"/><rect y="279" fill="#ee6065"/><rect y="280" fill="#ed565c"/><rect y="281" fill="#ea3a40"/><rect y="282" fill="#ea343a"/><rect y="283" fill="#eb444a"/><rect y="284" fill="#ec494f"/><rect y="285" fill="#e93137"/><rect y="286" fill="#e8232a"/><rect y="287" fill="#ea3239"/><rect y="288" fill="#ec494f"/><rect y="289" fill="#ec454b"/><rect y="290" fill="#ea383e"/><rect y="291" fill="#eb3c42"/><rect y="292" fill="#ed565b"/><rect y="293" fill="#ee5c61"/><rect y="294" fill="#ea3940"/><rect y="295" fill="#e93138"/><rect y="296" fill="#eb3d44"/><rect y="297" fill="#ea363c"/><rect y="298" fill="#eb3c43"/><rect y="299" fill="#ed4f54"/><rect y="300" fill="#ee5b60"/><rect y="301" fill="#ef6267"/><rect y="302" fill="#ed5257"/><rect y="303" fill="#ec464c"/><rect y="304" fill="#ee595e"/><rect y="305" fill="#ed5056"/><rect y="306" fill="#e92a31"/><rect y="307" fill="#e8232a"/><rect y="308" fill="#ea383f"/><rect y="309" fill="#ec464c"/><rect y="310" fill="#ec454b"/><rect y="311" fill="#ec494f"/><rect y="312" fill="#ed575c"/><rect y="313" fill="#ed565b"/><rect y="314" fill="#ec484e"/><rect y="315" fill="#ec4a50"/><rect y="316" fill="#ed5257"/><rect y="317" fill="#eb4248"/><rect y="318" fill="#e8232a"/><rect y="319" fill="#e8232a"/><rect y="320" fill="#eb3f45"/><rect y="321" fill="#ea353b"/><rect y="322" fill="#e8252c"/><rect y="323" fill="#ea393f"/><rect y="324" fill="#eb4147"/><rect y="325" fill="#e8232a"/><rect y="326" fill="#e8232a"/><rect y="327" fill="#e8232a"/><rect y="328" fill="#ea383e"/><rect y="329" fill="#ea3339"/><rect y="330" fill="#e8232a"/><rect y="331" fill="#e8232a"/><rect y="332" fill="#ea3339"/><rect y="333" fill="#eb3b42"/><rect y="334" fill="#eb3e44"/><rect y="335" fill="#ec454b"/><rect y="336" fill="#ec484e"/><rect y="337" fill="#eb4046"/><rect y="338" fill="#eb3e44"/><rect y="339" fill="#ec4e54"/><rect y="340" fill="#ed4f54"/><rect y="341" fill="#ec4c51"/><rect y="342" fill="#ed575c"/><rect y="343" fill="#ec484e"/><rect y="344" fill="#ec4e53"/><rect y="345" fill="#f1797d"/><rect y="346" fill="#f1767a"/><rect y="347" fill="#ec4a50"/><rect y="348" fill="#ea3940"/><rect y="349" fill="#eb444a"/><rect y="350" fill="#eb3e44"/><rect y="351" fill="#ea333a"/><rect y="352" fill="#ea3a41"/><rect y="353" fill="#eb4248"/><rect y="354" fill="#ed5157"/></g>
</g>
<line x1="23.5" y1="41.3" x2="59.1" y2="41.3" stroke="#444" stroke-width="0.9"/>
<line x1="61.7" y1="41.3" x2="98.9" y2="41.3" stroke="#444" stroke-width="0.9"/>
<text x="30.12" y="35.8" font-size="8.74" fill="#231f20" textLength="22.45" lengthAdjust="spacingAndGlyphs">HBSS</text>
<text x="68.03" y="25.3" font-size="8.45" fill="#231f20" textLength="22.25" lengthAdjust="spacingAndGlyphs">HBSS</text>
<text x="63.5" y="35.8" font-size="8.42" fill="#231f20" textLength="34.25" lengthAdjust="spacingAndGlyphs">+ VPS34i</text>
<defs><linearGradient id="cb" x1="0" x2="1" y1="0" y2="0"><stop offset="0" stop-color="#3a50a4"/><stop offset="0.45" stop-color="#ffffff"/><stop offset="0.55" stop-color="#ffffff"/><stop offset="1" stop-color="#e41f26"/></linearGradient></defs>
<rect x="22.9" y="357.8" width="78.1" height="4.7" fill="url(#cb)" stroke="none" stroke-width="0.8"/>
<text x="22.18" y="374" font-size="8" fill="#4a4fa0" textLength="34.3" lengthAdjust="spacingAndGlyphs">Row min</text>
<text x="65.3" y="374" font-size="8.43" fill="#e4292f" textLength="35.8" lengthAdjust="spacingAndGlyphs">Row max</text>
<text x="325.56" y="11.6" font-size="8.14" fill="#231f20" textLength="177.75" lengthAdjust="spacingAndGlyphs">Clustered enrichment analysis of CTL proteins</text>
<text x="303.62" y="21.7" font-size="8.14" fill="#231f20" textLength="223.86" lengthAdjust="spacingAndGlyphs">decreased by VPS34 inhibition in amino acid deprivation</text>
<rect x="301.2" y="31.2" width="174.5" height="9.4" fill="#d5dcee" stroke="#505052" stroke-width="0.8"/>
<line x1="298" y1="35.9" x2="301.2" y2="35.9" stroke="#555" stroke-width="0.8"/>
<rect x="301.2" y="47.44" width="88.3" height="9.4" fill="#d5dcee" stroke="#505052" stroke-width="0.8"/>
<line x1="298" y1="52.14" x2="301.2" y2="52.14" stroke="#555" stroke-width="0.8"/>
<rect x="301.2" y="63.68" width="73.2" height="9.4" fill="#d5dcee" stroke="#505052" stroke-width="0.8"/>
<line x1="298" y1="68.38" x2="301.2" y2="68.38" stroke="#555" stroke-width="0.8"/>
<rect x="301.2" y="79.92" width="56.3" height="9.4" fill="#d5dcee" stroke="#505052" stroke-width="0.8"/>
<line x1="298" y1="84.62" x2="301.2" y2="84.62" stroke="#555" stroke-width="0.8"/>
<rect x="301.2" y="96.16" width="36.4" height="9.4" fill="#d5dcee" stroke="#505052" stroke-width="0.8"/>
<line x1="298" y1="100.86" x2="301.2" y2="100.86" stroke="#555" stroke-width="0.8"/>
<rect x="301.2" y="112.4" width="29.9" height="9.4" fill="#d5dcee" stroke="#505052" stroke-width="0.8"/>
<line x1="298" y1="117.1" x2="301.2" y2="117.1" stroke="#555" stroke-width="0.8"/>
<rect x="301.2" y="128.64" width="21.8" height="9.4" fill="#d5dcee" stroke="#505052" stroke-width="0.8"/>
<line x1="298" y1="133.34" x2="301.2" y2="133.34" stroke="#555" stroke-width="0.8"/>
<rect x="301.2" y="144.88" width="20.6" height="9.4" fill="#d5dcee" stroke="#505052" stroke-width="0.8"/>
<line x1="298" y1="149.58" x2="301.2" y2="149.58" stroke="#555" stroke-width="0.8"/>
<rect x="301.2" y="161.12" width="19.4" height="9.4" fill="#d5dcee" stroke="#505052" stroke-width="0.8"/>
<line x1="298" y1="165.82" x2="301.2" y2="165.82" stroke="#555" stroke-width="0.8"/>
<line x1="301.2" y1="25" x2="301.2" y2="181" stroke="#777" stroke-width="0.9"/>
<line x1="301.2" y1="177.4" x2="529" y2="177.4" stroke="#555" stroke-width="0.9"/>
<line x1="301.2" y1="177.4" x2="301.2" y2="181" stroke="#555" stroke-width="0.8"/>
<line x1="358.2" y1="177.4" x2="358.2" y2="181" stroke="#555" stroke-width="0.8"/>
<line x1="415.2" y1="177.4" x2="415.2" y2="181" stroke="#555" stroke-width="0.8"/>
<line x1="472.2" y1="177.4" x2="472.2" y2="181" stroke="#555" stroke-width="0.8"/>
<line x1="529.2" y1="177.4" x2="529.2" y2="181" stroke="#555" stroke-width="0.8"/>
<text x="380.47" y="205.5" font-size="8.56" fill="#231f20" textLength="69.43" lengthAdjust="spacingAndGlyphs">Enrichment score</text>
<text x="233.21" y="39.1" font-size="8.83" fill="#231f20" textLength="60.41" lengthAdjust="spacingAndGlyphs">Mitochondrion</text>
<text x="236.83" y="55.34" font-size="8.83" fill="#231f20" textLength="56.59" lengthAdjust="spacingAndGlyphs">Mitoribosome</text>
<text x="224.54" y="71.58" font-size="8.83" fill="#231f20" textLength="68.53" lengthAdjust="spacingAndGlyphs">Protein transport</text>
<text x="251.75" y="87.82" font-size="9.3" fill="#231f20" textLength="41.66" lengthAdjust="spacingAndGlyphs">Lysosome</text>
<text x="239.52" y="104.06" font-size="8.83" fill="#231f20" textLength="54.08" lengthAdjust="spacingAndGlyphs">Cytoskeleton</text>
<text x="218.1" y="120.3" font-size="8.83" fill="#231f20" textLength="75.29" lengthAdjust="spacingAndGlyphs">Transferase/kinase</text>
<text x="199.53" y="136.54" font-size="8.83" fill="#231f20" textLength="94.08" lengthAdjust="spacingAndGlyphs">Endoplasmic reticulum</text>
<text x="143.43" y="152.78" font-size="8.83" fill="#231f20" textLength="150.18" lengthAdjust="spacingAndGlyphs">DNA binding/transcription regulation</text>
<text x="211.93" y="169.02" font-size="8.83" fill="#231f20" textLength="81.48" lengthAdjust="spacingAndGlyphs">Cytoplasmic vesicle</text>
<text x="298.97" y="192" font-size="8.02" fill="#231f20" textLength="4.46" lengthAdjust="spacingAndGlyphs">0</text>
<text x="352.64" y="192" font-size="8.02" fill="#231f20" textLength="11.15" lengthAdjust="spacingAndGlyphs">0.5</text>
<text x="409.48" y="192" font-size="8.02" fill="#231f20" textLength="11.15" lengthAdjust="spacingAndGlyphs">1.0</text>
<text x="466.4" y="192" font-size="8.14" fill="#231f20" textLength="11.32" lengthAdjust="spacingAndGlyphs">1.5</text>
<text x="523.58" y="192" font-size="8.02" fill="#231f20" textLength="11.15" lengthAdjust="spacingAndGlyphs">2.0</text>
<text x="608.01" y="21" font-size="8.42" fill="#231f20" textLength="57.54" lengthAdjust="spacingAndGlyphs">Mitochondrial</text>
<text x="590.7" y="30.7" font-size="8.42" fill="#231f20" textLength="94.14" lengthAdjust="spacingAndGlyphs">proportion of cell mass</text>
<line x1="596.7" y1="50.8" x2="596.7" y2="152.3" stroke="#444" stroke-width="0.9"/>
<line x1="592.4" y1="152.3" x2="663.6" y2="152.3" stroke="#444" stroke-width="0.9"/>
<line x1="593.2" y1="152.3" x2="596.7" y2="152.3" stroke="#444" stroke-width="0.8"/>
<text x="584.36" y="154.5" font-size="7.16" fill="#231f20" textLength="4.89" lengthAdjust="spacingAndGlyphs">0</text>
<line x1="593.2" y1="126.92" x2="596.7" y2="126.92" stroke="#444" stroke-width="0.8"/>
<text x="584.24" y="129.12" font-size="7.16" fill="#231f20" textLength="5.13" lengthAdjust="spacingAndGlyphs">2</text>
<line x1="593.2" y1="101.54" x2="596.7" y2="101.54" stroke="#444" stroke-width="0.8"/>
<text x="584.51" y="103.74" font-size="7.27" fill="#231f20" textLength="4.64" lengthAdjust="spacingAndGlyphs">4</text>
<line x1="593.2" y1="76.16" x2="596.7" y2="76.16" stroke="#444" stroke-width="0.8"/>
<text x="584.24" y="78.36" font-size="7.16" fill="#231f20" textLength="5.06" lengthAdjust="spacingAndGlyphs">6</text>
<line x1="593.2" y1="50.78" x2="596.7" y2="50.78" stroke="#444" stroke-width="0.8"/>
<text x="584.31" y="52.98" font-size="7.16" fill="#231f20" textLength="4.98" lengthAdjust="spacingAndGlyphs">8</text>
<rect x="603.4" y="68.4" width="13.4" height="83.9" fill="#fff" stroke="#333" stroke-width="0.9"/>
<rect x="624" y="62.4" width="12.6" height="89.9" fill="#fff" stroke="#9aaedb" stroke-width="0.9"/>
<rect x="644.4" y="58.9" width="12.4" height="93.4" fill="#fff" stroke="#f4a39d" stroke-width="0.9"/>
<line x1="610.1" y1="62.1" x2="610.1" y2="69.6" stroke="#231f20" stroke-width="0.8"/>
<line x1="607.4" y1="62.1" x2="612.8" y2="62.1" stroke="#231f20" stroke-width="0.8"/>
<line x1="607.4" y1="69.6" x2="612.8" y2="69.6" stroke="#231f20" stroke-width="0.8"/>
<line x1="630.3" y1="55.3" x2="630.3" y2="69.4" stroke="#4a6cc0" stroke-width="0.8"/>
<line x1="627.6" y1="55.3" x2="633" y2="55.3" stroke="#4a6cc0" stroke-width="0.8"/>
<line x1="627.6" y1="69.4" x2="633" y2="69.4" stroke="#4a6cc0" stroke-width="0.8"/>
<line x1="650.6" y1="56.6" x2="650.6" y2="61.4" stroke="#ec6a63" stroke-width="0.8"/>
<line x1="647.9" y1="56.6" x2="653.3" y2="56.6" stroke="#ec6a63" stroke-width="0.8"/>
<line x1="647.9" y1="61.4" x2="653.3" y2="61.4" stroke="#ec6a63" stroke-width="0.8"/>
<circle cx="604.5" cy="68.5" r="1.6" fill="#231f20"/>
<circle cx="610" cy="67.8" r="1.6" fill="#231f20"/>
<circle cx="615.3" cy="68.3" r="1.6" fill="#231f20"/>
<circle cx="610" cy="61" r="1.6" fill="#231f20"/>
<circle cx="630.2" cy="56.1" r="1.6" fill="#2f5bb5"/>
<circle cx="627.2" cy="59.3" r="1.6" fill="#2f5bb5"/>
<circle cx="633.3" cy="61.4" r="1.6" fill="#2f5bb5"/>
<circle cx="630.2" cy="72.4" r="1.6" fill="#2f5bb5"/>
<circle cx="645.2" cy="56.7" r="1.6" fill="#e8302a"/>
<circle cx="650.8" cy="58.2" r="1.6" fill="#e8302a"/>
<circle cx="656.1" cy="57.5" r="1.6" fill="#e8302a"/>
<circle cx="650.8" cy="62.6" r="1.6" fill="#e8302a"/>
<text x="615.31" y="44.7" font-size="6.5" fill="#231f20" textLength="7.75" lengthAdjust="spacingAndGlyphs">ns</text>
<text x="637.71" y="44.7" font-size="6.5" fill="#231f20" textLength="7.75" lengthAdjust="spacingAndGlyphs">ns</text>
<line x1="610.2" y1="47.3" x2="628" y2="47.3" stroke="#bbb" stroke-width="0.7"/>
<line x1="632.4" y1="47.3" x2="650.8" y2="47.3" stroke="#bbb" stroke-width="0.7"/>
<text x="577.49" y="128.5" font-size="9.66" fill="#231f20" textLength="55.62" lengthAdjust="spacingAndGlyphs" transform="rotate(-90 577.8 128.5)">% of cell mass</text>
<text x="613.4" y="161.5" font-size="8.58" fill="#231f20" text-anchor="end" transform="rotate(-45 613.4 161.5)">RPMI</text>
<text x="634.5" y="161.5" font-size="8.58" fill="#4a4fa0" text-anchor="end" transform="rotate(-45 634.5 161.5)">HBSS</text>
<text x="655.2" y="161" font-size="8.58" fill="#e4292f" text-anchor="end" transform="rotate(-45 655.2 161)">HBSS+</text>
<text x="662.3" y="170.6" font-size="8.58" fill="#e4292f" text-anchor="end" transform="rotate(-45 662.3 170.6)">VPS34i</text>
<text x="278.42" y="221" font-size="8.56" fill="#231f20" textLength="57.1" lengthAdjust="spacingAndGlyphs">Detoxification</text>
<line x1="160" y1="227.4" x2="452.5" y2="227.4" stroke="#555" stroke-width="0.9"/>
<line x1="162.5" y1="246.5" x2="162.5" y2="347.5" stroke="#444" stroke-width="0.9"/>
<line x1="158.9" y1="347.5" x2="229.7" y2="347.5" stroke="#444" stroke-width="0.9"/>
<line x1="158.9" y1="347.5" x2="162.5" y2="347.5" stroke="#444" stroke-width="0.8"/>
<text x="149.93" y="350.2" font-size="7.88" fill="#231f20" textLength="4.38" lengthAdjust="spacingAndGlyphs">0</text>
<line x1="158.9" y1="313.83" x2="162.5" y2="313.83" stroke="#444" stroke-width="0.8"/>
<text x="150.02" y="316.53" font-size="7.88" fill="#231f20" textLength="4.38" lengthAdjust="spacingAndGlyphs">2</text>
<line x1="158.9" y1="280.17" x2="162.5" y2="280.17" stroke="#444" stroke-width="0.8"/>
<text x="149.79" y="282.87" font-size="7.99" fill="#231f20" textLength="4.45" lengthAdjust="spacingAndGlyphs">4</text>
<line x1="158.9" y1="246.5" x2="162.5" y2="246.5" stroke="#444" stroke-width="0.8"/>
<text x="149.97" y="249.2" font-size="7.88" fill="#231f20" textLength="4.38" lengthAdjust="spacingAndGlyphs">6</text>
<rect x="169.2" y="343.4" width="13.3" height="4.1" fill="#fff" stroke="#333" stroke-width="0.9"/>
<circle cx="170.5" cy="344.5" r="1.7" fill="#231f20"/>
<circle cx="173.5" cy="343" r="1.7" fill="#231f20"/>
<circle cx="177" cy="343.5" r="1.7" fill="#231f20"/>
<circle cx="181" cy="344" r="1.7" fill="#231f20"/>
<rect x="189.4" y="279" width="13.5" height="68.5" fill="#fff" stroke="#9aaedb" stroke-width="0.9"/>
<line x1="196.15" y1="269.3" x2="196.15" y2="287.1" stroke="#4a6cc0" stroke-width="0.8"/>
<line x1="193.9" y1="269.3" x2="198.4" y2="269.3" stroke="#4a6cc0" stroke-width="0.8"/>
<line x1="193.9" y1="287.1" x2="198.4" y2="287.1" stroke="#4a6cc0" stroke-width="0.8"/>
<circle cx="196.3" cy="265.3" r="1.7" fill="#2f5bb5"/>
<circle cx="191.8" cy="280.6" r="1.7" fill="#2f5bb5"/>
<circle cx="199.3" cy="281.6" r="1.7" fill="#2f5bb5"/>
<circle cx="196.3" cy="286.1" r="1.7" fill="#2f5bb5"/>
<rect x="209.2" y="345" width="13.5" height="2.5" fill="#fff" stroke="#f4a39d" stroke-width="0.9"/>
<circle cx="210.5" cy="345.5" r="1.7" fill="#e8302a"/>
<circle cx="214" cy="344.8" r="1.7" fill="#e8302a"/>
<circle cx="217.5" cy="344.8" r="1.7" fill="#e8302a"/>
<circle cx="221" cy="344.8" r="1.7" fill="#e8302a"/>
<path d="M173.2,247.83 L171.4,249.02 L173.2,250.21" fill="none" stroke="#333" stroke-width="0.55"/>
<text x="173.54" y="251" font-size="6.3" fill="#333" textLength="19.97" lengthAdjust="spacingAndGlyphs">0.0001</text>
<line x1="175.8" y1="253.1" x2="193.6" y2="253.1" stroke="#d6d6d6" stroke-width="0.7"/>
<path d="M200,247.83 L198.2,249.02 L200,250.21" fill="none" stroke="#333" stroke-width="0.55"/>
<text x="200.36" y="251" font-size="6.3" fill="#333" textLength="19.15" lengthAdjust="spacingAndGlyphs">0.0001</text>
<line x1="198.9" y1="253.1" x2="216.5" y2="253.1" stroke="#d6d6d6" stroke-width="0.7"/>
<text x="182.58" y="240.2" font-size="8.88" fill="#231f20" textLength="27.89" lengthAdjust="spacingAndGlyphs">ABCB6</text>
<g transform="translate(142.8 345) rotate(-90) scale(1.07 1)">
<text x="0" y="0" font-size="8.72" fill="#231f20">Copies per cell (×10<tspan font-size="5.67" dy="-3.31">4</tspan><tspan dy="3.31">)</tspan></text>
</g>
<line x1="274.2" y1="246.5" x2="274.2" y2="347.6" stroke="#444" stroke-width="0.9"/>
<line x1="270.6" y1="347.6" x2="342.5" y2="347.6" stroke="#444" stroke-width="0.9"/>
<line x1="270.6" y1="347.6" x2="274.2" y2="347.6" stroke="#444" stroke-width="0.8"/>
<text x="262.13" y="350.3" font-size="7.88" fill="#231f20" textLength="4.38" lengthAdjust="spacingAndGlyphs">0</text>
<line x1="270.6" y1="322.33" x2="274.2" y2="322.33" stroke="#444" stroke-width="0.8"/>
<text x="262.09" y="325.03" font-size="7.99" fill="#231f20" textLength="4.45" lengthAdjust="spacingAndGlyphs">5</text>
<line x1="270.6" y1="297.05" x2="274.2" y2="297.05" stroke="#444" stroke-width="0.8"/>
<text x="257.75" y="299.75" font-size="7.88" fill="#231f20" textLength="8.76" lengthAdjust="spacingAndGlyphs">10</text>
<line x1="270.6" y1="271.77" x2="274.2" y2="271.77" stroke="#444" stroke-width="0.8"/>
<text x="257.64" y="274.47" font-size="7.99" fill="#231f20" textLength="8.89" lengthAdjust="spacingAndGlyphs">15</text>
<line x1="270.6" y1="246.5" x2="274.2" y2="246.5" stroke="#444" stroke-width="0.8"/>
<text x="257.75" y="249.2" font-size="7.88" fill="#231f20" textLength="8.76" lengthAdjust="spacingAndGlyphs">20</text>
<rect x="281.6" y="321" width="13.4" height="26.6" fill="#fff" stroke="#333" stroke-width="0.9"/>
<line x1="288.3" y1="314.4" x2="288.3" y2="326.3" stroke="#231f20" stroke-width="0.8"/>
<line x1="286.05" y1="314.4" x2="290.55" y2="314.4" stroke="#231f20" stroke-width="0.8"/>
<line x1="286.05" y1="326.3" x2="290.55" y2="326.3" stroke="#231f20" stroke-width="0.8"/>
<circle cx="288.1" cy="312.7" r="1.7" fill="#231f20"/>
<circle cx="283" cy="322.5" r="1.7" fill="#231f20"/>
<circle cx="288.1" cy="323.4" r="1.7" fill="#231f20"/>
<circle cx="293.5" cy="322.5" r="1.7" fill="#231f20"/>
<rect x="301.5" y="282.4" width="12.7" height="65.2" fill="#fff" stroke="#9aaedb" stroke-width="0.9"/>
<line x1="307.85" y1="274.4" x2="307.85" y2="290.4" stroke="#4a6cc0" stroke-width="0.8"/>
<line x1="305.6" y1="274.4" x2="310.1" y2="274.4" stroke="#4a6cc0" stroke-width="0.8"/>
<line x1="305.6" y1="290.4" x2="310.1" y2="290.4" stroke="#4a6cc0" stroke-width="0.8"/>
<circle cx="304.7" cy="275" r="1.7" fill="#2f5bb5"/>
<circle cx="311.3" cy="274.4" r="1.7" fill="#2f5bb5"/>
<circle cx="304.7" cy="288.9" r="1.7" fill="#2f5bb5"/>
<circle cx="311.3" cy="289.8" r="1.7" fill="#2f5bb5"/>
<rect x="321.7" y="326.3" width="12.7" height="21.3" fill="#fff" stroke="#f4a39d" stroke-width="0.9"/>
<line x1="328.05" y1="321.9" x2="328.05" y2="331.4" stroke="#ec6a63" stroke-width="0.8"/>
<line x1="325.8" y1="321.9" x2="330.3" y2="321.9" stroke="#ec6a63" stroke-width="0.8"/>
<line x1="325.8" y1="331.4" x2="330.3" y2="331.4" stroke="#ec6a63" stroke-width="0.8"/>
<circle cx="324.6" cy="324" r="1.7" fill="#e8302a"/>
<circle cx="330.6" cy="321.9" r="1.7" fill="#e8302a"/>
<circle cx="324.6" cy="330.5" r="1.7" fill="#e8302a"/>
<circle cx="330.6" cy="329.9" r="1.7" fill="#e8302a"/>
<path d="M286,256.43 L284.2,257.62 L286,258.81" fill="none" stroke="#333" stroke-width="0.55"/>
<text x="286.35" y="259.6" font-size="6.3" fill="#333" textLength="19.77" lengthAdjust="spacingAndGlyphs">0.0001</text>
<line x1="288.7" y1="262.3" x2="305.8" y2="262.3" stroke="#d6d6d6" stroke-width="0.7"/>
<path d="M311.2,256.43 L309.4,257.62 L311.2,258.81" fill="none" stroke="#333" stroke-width="0.55"/>
<text x="311.53" y="259.6" font-size="6.3" fill="#333" textLength="20.9" lengthAdjust="spacingAndGlyphs">0.0001</text>
<line x1="311" y1="262.3" x2="328.2" y2="262.3" stroke="#d6d6d6" stroke-width="0.7"/>
<text x="295.16" y="239.9" font-size="8.88" fill="#231f20" textLength="26.03" lengthAdjust="spacingAndGlyphs">PRDX2</text>
<g transform="translate(251.3 338.6) rotate(-90) scale(0.99 1)">
<text x="0" y="0" font-size="8.72" fill="#231f20">Copies per cell (×10<tspan font-size="5.67" dy="-3.31">5</tspan><tspan dy="3.31">)</tspan></text>
</g>
<line x1="385.7" y1="246.5" x2="385.7" y2="347.6" stroke="#444" stroke-width="0.9"/>
<line x1="382.1" y1="347.6" x2="453.4" y2="347.6" stroke="#444" stroke-width="0.9"/>
<line x1="382.1" y1="347.6" x2="385.7" y2="347.6" stroke="#444" stroke-width="0.8"/>
<text x="373.23" y="350.3" font-size="7.88" fill="#231f20" textLength="4.38" lengthAdjust="spacingAndGlyphs">0</text>
<line x1="382.1" y1="313.9" x2="385.7" y2="313.9" stroke="#444" stroke-width="0.8"/>
<text x="368.85" y="316.6" font-size="7.88" fill="#231f20" textLength="8.76" lengthAdjust="spacingAndGlyphs">50</text>
<line x1="382.1" y1="280.2" x2="385.7" y2="280.2" stroke="#444" stroke-width="0.8"/>
<text x="368.85" y="282.9" font-size="7.88" fill="#231f20" textLength="8.76" lengthAdjust="spacingAndGlyphs">10</text>
<line x1="382.1" y1="246.5" x2="385.7" y2="246.5" stroke="#444" stroke-width="0.8"/>
<text x="368.74" y="249.2" font-size="7.99" fill="#231f20" textLength="8.89" lengthAdjust="spacingAndGlyphs">15</text>
<rect x="392.5" y="333.5" width="13" height="14.1" fill="#fff" stroke="#333" stroke-width="0.9"/>
<line x1="399" y1="327.8" x2="399" y2="337.3" stroke="#231f20" stroke-width="0.8"/>
<line x1="396.75" y1="327.8" x2="401.25" y2="327.8" stroke="#231f20" stroke-width="0.8"/>
<line x1="396.75" y1="337.3" x2="401.25" y2="337.3" stroke="#231f20" stroke-width="0.8"/>
<circle cx="399" cy="326.3" r="1.7" fill="#231f20"/>
<circle cx="395.1" cy="332.9" r="1.7" fill="#231f20"/>
<circle cx="396" cy="336.7" r="1.7" fill="#231f20"/>
<circle cx="402.9" cy="335.8" r="1.7" fill="#231f20"/>
<rect x="413" y="301.1" width="12.7" height="46.5" fill="#fff" stroke="#9aaedb" stroke-width="0.9"/>
<line x1="419.35" y1="280.3" x2="419.35" y2="321.9" stroke="#4a6cc0" stroke-width="0.8"/>
<line x1="417.1" y1="280.3" x2="421.6" y2="280.3" stroke="#4a6cc0" stroke-width="0.8"/>
<line x1="417.1" y1="321.9" x2="421.6" y2="321.9" stroke="#4a6cc0" stroke-width="0.8"/>
<circle cx="419.2" cy="272.6" r="1.7" fill="#2f5bb5"/>
<circle cx="419.2" cy="300.2" r="1.7" fill="#2f5bb5"/>
<circle cx="419.2" cy="309.1" r="1.7" fill="#2f5bb5"/>
<circle cx="419.2" cy="321.6" r="1.7" fill="#2f5bb5"/>
<rect x="433.2" y="338.8" width="12.4" height="8.8" fill="#fff" stroke="#f4a39d" stroke-width="0.9"/>
<circle cx="434.5" cy="341" r="1.7" fill="#e8302a"/>
<circle cx="438" cy="340" r="1.7" fill="#e8302a"/>
<circle cx="441.5" cy="339.8" r="1.7" fill="#e8302a"/>
<circle cx="444.5" cy="340" r="1.7" fill="#e8302a"/>
<text x="399.42" y="257.3" font-size="5.44" fill="#333" textLength="17.69" lengthAdjust="spacingAndGlyphs">0.006</text>
<line x1="399" y1="260.5" x2="417.7" y2="260.5" stroke="#d6d6d6" stroke-width="0.7"/>
<text x="421.94" y="257.3" font-size="5.44" fill="#333" textLength="16.9" lengthAdjust="spacingAndGlyphs">0.002</text>
<line x1="420.7" y1="260.5" x2="439.7" y2="260.5" stroke="#d6d6d6" stroke-width="0.7"/>
<text x="410.84" y="239.9" font-size="9.01" fill="#231f20" textLength="16.16" lengthAdjust="spacingAndGlyphs">MT1</text>
<g transform="translate(363.6 338.6) rotate(-90) scale(0.99 1)">
<text x="0" y="0" font-size="8.72" fill="#231f20">Copies per cell (×10<tspan font-size="5.67" dy="-3.31">5</tspan><tspan dy="3.31">)</tspan></text>
</g>
<text x="178.5" y="357" font-size="8.58" fill="#231f20" text-anchor="end" transform="rotate(-45 178.5 357)">RPMI</text>
<text x="199.8" y="356.8" font-size="8.58" fill="#4a4fa0" text-anchor="end" transform="rotate(-45 199.8 356.8)">HBSS</text>
<text x="220.4" y="356" font-size="8.58" fill="#e4292f" text-anchor="end" transform="rotate(-45 220.4 356)">HBSS+</text>
<text x="229" y="364.9" font-size="8.58" fill="#e4292f" text-anchor="end" transform="rotate(-45 229 364.9)">VPS34i</text>
<text x="290.5" y="357" font-size="8.58" fill="#231f20" text-anchor="end" transform="rotate(-45 290.5 357)">RPMI</text>
<text x="311.3" y="356.8" font-size="8.58" fill="#4a4fa0" text-anchor="end" transform="rotate(-45 311.3 356.8)">HBSS</text>
<text x="331.9" y="356" font-size="8.58" fill="#e4292f" text-anchor="end" transform="rotate(-45 331.9 356)">HBSS+</text>
<text x="340.5" y="364.9" font-size="8.58" fill="#e4292f" text-anchor="end" transform="rotate(-45 340.5 364.9)">VPS34i</text>
<text x="401.5" y="357" font-size="8.58" fill="#231f20" text-anchor="end" transform="rotate(-45 401.5 357)">RPMI</text>
<text x="422.8" y="356.8" font-size="8.58" fill="#4a4fa0" text-anchor="end" transform="rotate(-45 422.8 356.8)">HBSS</text>
<text x="442.9" y="356" font-size="8.58" fill="#e4292f" text-anchor="end" transform="rotate(-45 442.9 356)">HBSS+</text>
<text x="451.5" y="364.9" font-size="8.58" fill="#e4292f" text-anchor="end" transform="rotate(-45 451.5 364.9)">VPS34i</text>
<line x1="35.5" y1="437.7" x2="35.5" y2="539" stroke="#444" stroke-width="0.9"/>
<line x1="31.9" y1="539" x2="136.9" y2="539" stroke="#444" stroke-width="0.9"/>
<line x1="31.9" y1="539" x2="35.5" y2="539" stroke="#444" stroke-width="0.8"/>
<text x="22.76" y="541.6" font-size="7.59" fill="#231f20" textLength="4.56" lengthAdjust="spacingAndGlyphs">0</text>
<line x1="31.9" y1="518.74" x2="35.5" y2="518.74" stroke="#444" stroke-width="0.8"/>
<text x="18.2" y="521.34" font-size="7.59" fill="#231f20" textLength="9.12" lengthAdjust="spacingAndGlyphs">20</text>
<line x1="31.9" y1="498.48" x2="35.5" y2="498.48" stroke="#444" stroke-width="0.8"/>
<text x="18.2" y="501.08" font-size="7.59" fill="#231f20" textLength="9.12" lengthAdjust="spacingAndGlyphs">40</text>
<line x1="31.9" y1="478.22" x2="35.5" y2="478.22" stroke="#444" stroke-width="0.8"/>
<text x="18.2" y="480.82" font-size="7.59" fill="#231f20" textLength="9.12" lengthAdjust="spacingAndGlyphs">60</text>
<line x1="31.9" y1="457.96" x2="35.5" y2="457.96" stroke="#444" stroke-width="0.8"/>
<text x="18.2" y="460.56" font-size="7.59" fill="#231f20" textLength="9.12" lengthAdjust="spacingAndGlyphs">80</text>
<line x1="31.9" y1="437.7" x2="35.5" y2="437.7" stroke="#444" stroke-width="0.8"/>
<text x="13.64" y="440.3" font-size="7.59" fill="#231f20" textLength="13.68" lengthAdjust="spacingAndGlyphs">100</text>
<text x="6.14" y="512.6" font-size="8.83" fill="#231f20" textLength="50.75" lengthAdjust="spacingAndGlyphs" transform="rotate(-90 6.8 512.6)">Live CTLs (%)</text>
<path d="M49,446 C49.57,446.13 50.43,446.13 50.8,446.8 C51.17,447.47 51.13,448.13 51.2,450 C51.27,451.87 51.18,455.5 51.2,458 C51.22,460.5 51.05,463.17 51.3,465 C51.55,466.83 52.22,467.75 52.7,469 C53.18,470.25 54.03,471.5 54.2,472.5 C54.37,473.5 54.28,474.38 53.7,475 C53.12,475.62 52.03,476 50.7,476.2 C49.37,476.4 47.03,476.4 45.7,476.2 C44.37,476 43.28,475.62 42.7,475 C42.12,474.38 42.03,473.5 42.2,472.5 C42.37,471.5 43.22,470.25 43.7,469 C44.18,467.75 44.85,466.83 45.1,465 C45.35,463.17 45.18,460.5 45.2,458 C45.22,455.5 45.13,451.87 45.2,450 C45.27,448.13 45.23,447.47 45.6,446.8 C45.97,446.13 46.83,446.13 47.4,446 C47.97,445.87 48.43,445.87 49,446Z" fill="#e6e6e6" stroke="#231f20" stroke-width="1.3" stroke-linejoin="round"/>
<line x1="48.2" y1="447" x2="48.2" y2="473" stroke="#231f20" stroke-width="0.9"/>
<circle cx="48.1" cy="448.1" r="2.1" fill="#000"/>
<circle cx="48.1" cy="454.4" r="2.1" fill="#000"/>
<circle cx="48.4" cy="462.1" r="2.1" fill="#000"/>
<circle cx="48.1" cy="471.5" r="2.1" fill="#000"/>
<circle cx="43.9" cy="473.8" r="2.1" fill="#000"/>
<circle cx="52.4" cy="473.3" r="2.1" fill="#000"/>
<path d="M67.4,447.9 C67.83,448.02 68.57,448 68.8,448.6 C69.03,449.2 68.92,450.43 68.8,451.5 C68.68,452.57 67.97,453.58 68.1,455 C68.23,456.42 68.98,458.42 69.6,460 C70.22,461.58 71.27,463.25 71.8,464.5 C72.33,465.75 72.87,466.42 72.8,467.5 C72.73,468.58 72.1,469.75 71.4,471 C70.7,472.25 69.1,473.75 68.6,475 C68.1,476.25 68.37,477.47 68.4,478.5 C68.43,479.53 68.97,480.58 68.8,481.2 C68.63,481.82 67.83,482.03 67.4,482.2 C66.97,482.37 66.63,482.37 66.2,482.2 C65.77,482.03 64.97,481.82 64.8,481.2 C64.63,480.58 65.17,479.53 65.2,478.5 C65.23,477.47 65.5,476.25 65,475 C64.5,473.75 62.9,472.25 62.2,471 C61.5,469.75 60.87,468.58 60.8,467.5 C60.73,466.42 61.27,465.75 61.8,464.5 C62.33,463.25 63.38,461.58 64,460 C64.62,458.42 65.37,456.42 65.5,455 C65.63,453.58 64.92,452.57 64.8,451.5 C64.68,450.43 64.57,449.2 64.8,448.6 C65.03,448 65.77,448.02 66.2,447.9 C66.63,447.78 66.97,447.78 67.4,447.9Z" fill="#f1f1f1" stroke="#a5a5a5" stroke-width="0.8" stroke-linejoin="round"/>
<circle cx="66.8" cy="449.9" r="2" fill="#9c9c9c"/>
<circle cx="62.8" cy="463.9" r="2" fill="#9c9c9c"/>
<circle cx="66.8" cy="467.9" r="2" fill="#9c9c9c"/>
<circle cx="71.8" cy="467.5" r="2" fill="#9c9c9c"/>
<circle cx="66.8" cy="480.1" r="2" fill="#9c9c9c"/>
<line x1="61.6" y1="467" x2="65.5" y2="467" stroke="#231f20" stroke-width="0.8"/>
<path d="M80.3,453.5 L92.1,453.5 L92.1,475 C92.1,480 88.5,482.6 86.2,482.6 C83.9,482.6 80.3,480 80.3,475 Z" fill="#e2e8f6" stroke="#5f7fcc" stroke-width="0.8" stroke-linejoin="round"/>
<line x1="83.5" y1="456.2" x2="89" y2="456.2" stroke="#231f20" stroke-width="0.7" stroke-dasharray="1 1"/>
<circle cx="81.9" cy="456.7" r="2" fill="#2f5bb5"/>
<circle cx="90.5" cy="454" r="2" fill="#2f5bb5"/>
<circle cx="86.2" cy="463.9" r="2" fill="#2f5bb5"/>
<circle cx="86.2" cy="469.3" r="2" fill="#2f5bb5"/>
<circle cx="86.2" cy="474.2" r="2" fill="#2f5bb5"/>
<circle cx="86.2" cy="481" r="2" fill="#2f5bb5"/>
<line x1="81.7" y1="466.4" x2="87.4" y2="466.4" stroke="#231f20" stroke-width="0.8"/>
<path d="M105.6,475.2 C106.03,475.3 106.67,475.17 107,475.8 C107.33,476.43 107.33,477.63 107.6,479 C107.87,480.37 108.17,482.5 108.6,484 C109.03,485.5 109.77,486.6 110.2,488 C110.63,489.4 111.27,490.98 111.2,492.4 C111.13,493.82 110.4,495.15 109.8,496.5 C109.2,497.85 108.07,499.08 107.6,500.5 C107.13,501.92 107.1,503.5 107,505 C106.9,506.5 106.97,508.17 107,509.5 C107.03,510.83 107.43,512.2 107.2,513 C106.97,513.8 106.07,514.08 105.6,514.3 C105.13,514.52 104.87,514.52 104.4,514.3 C103.93,514.08 103.03,513.8 102.8,513 C102.57,512.2 102.97,510.83 103,509.5 C103.03,508.17 103.1,506.5 103,505 C102.9,503.5 102.87,501.92 102.4,500.5 C101.93,499.08 100.8,497.85 100.2,496.5 C99.6,495.15 98.87,493.82 98.8,492.4 C98.73,490.98 99.37,489.4 99.8,488 C100.23,486.6 100.97,485.5 101.4,484 C101.83,482.5 102.13,480.37 102.4,479 C102.67,477.63 102.67,476.43 103,475.8 C103.33,475.17 103.97,475.3 104.4,475.2 C104.83,475.1 105.17,475.1 105.6,475.2Z" fill="#fde8e6" stroke="#e8302a" stroke-width="0.8" stroke-linejoin="round"/>
<circle cx="105" cy="477.2" r="2.1" fill="#e8302a"/>
<circle cx="105" cy="485.8" r="2.1" fill="#e8302a"/>
<circle cx="99.8" cy="492.4" r="2.1" fill="#e8302a"/>
<circle cx="110.6" cy="492.4" r="2.1" fill="#e8302a"/>
<circle cx="105" cy="499.4" r="2.1" fill="#e8302a"/>
<circle cx="105" cy="512.2" r="2.1" fill="#e8302a"/>
<line x1="102.5" y1="492.4" x2="107.2" y2="492.4" stroke="#231f20" stroke-width="0.9"/>
<line x1="119.8" y1="486.5" x2="124.1" y2="483.6" stroke="#4b2b8f" stroke-width="1.6"/>
<line x1="124.1" y1="483.6" x2="128.6" y2="486.3" stroke="#4b2b8f" stroke-width="1.6"/>
<circle cx="119.8" cy="486.5" r="2" fill="#4b2b8f"/>
<circle cx="124.1" cy="483.6" r="2" fill="#4b2b8f"/>
<circle cx="128.6" cy="486.3" r="2" fill="#4b2b8f"/>
<text x="79.84" y="403.1" font-size="6.02" fill="#333" textLength="12.73" lengthAdjust="spacingAndGlyphs">0.05</text>
<line x1="48.1" y1="405.3" x2="124.1" y2="405.3" stroke="#dadada" stroke-width="0.7"/>
<text x="66.03" y="417.3" font-size="6.59" fill="#333" textLength="21.3" lengthAdjust="spacingAndGlyphs">0.0009</text>
<line x1="48.1" y1="419.3" x2="105" y2="419.3" stroke="#dadada" stroke-width="0.7"/>
<text x="63.41" y="428.9" font-size="6.88" fill="#333" textLength="7.75" lengthAdjust="spacingAndGlyphs">ns</text>
<line x1="48.1" y1="431.1" x2="86" y2="431.1" stroke="#dadada" stroke-width="0.7"/>
<text x="53.3" y="441" font-size="7.25" fill="#333" textLength="7.97" lengthAdjust="spacingAndGlyphs">ns</text>
<line x1="48.1" y1="443.4" x2="67" y2="443.4" stroke="#dadada" stroke-width="0.7"/>
<text x="110.47" y="463.8" font-size="8.18" fill="#333" textLength="8.42" lengthAdjust="spacingAndGlyphs">ns</text>
<line x1="105.1" y1="465.5" x2="124.4" y2="465.5" stroke="#dadada" stroke-width="0.7"/>
<rect x="144.4" y="442.7" width="7.6" height="7.4" rx="0.9" fill="#d9d9d9" stroke="#6b6b6b" stroke-width="0.75"/>
<text x="157.47" y="449.6" font-size="8.87" fill="#231f20" textLength="19.35" lengthAdjust="spacingAndGlyphs">RPMI</text>
<rect x="144.4" y="455.4" width="7.6" height="7.4" rx="0.9" fill="#f2f2f2" stroke="#cfcfcf" stroke-width="0.75"/>
<text x="158.13" y="462.3" font-size="8.42" fill="#231f20" textLength="56.92" lengthAdjust="spacingAndGlyphs">RPMI + VPS34i</text>
<rect x="144.4" y="467.8" width="7.6" height="7.4" rx="0.9" fill="#dfe6f6" stroke="#6f89cc" stroke-width="0.75"/>
<text x="157.44" y="474.7" font-size="8.74" fill="#231f20" textLength="21.93" lengthAdjust="spacingAndGlyphs">HBSS</text>
<rect x="144.4" y="480.3" width="7.6" height="7.4" rx="0.9" fill="#fde8e6" stroke="#ea6d67" stroke-width="0.75"/>
<text x="158.13" y="487.2" font-size="8.42" fill="#231f20" textLength="59.13" lengthAdjust="spacingAndGlyphs">HBSS + VPS34i</text>
<rect x="144.4" y="493" width="7.6" height="7.4" rx="0.9" fill="#e7e2f0" stroke="#a293c9" stroke-width="0.75"/>
<text x="158.15" y="499.9" font-size="8.74" fill="#231f20" textLength="46.17" lengthAdjust="spacingAndGlyphs">HBSS + BAF</text>
<line x1="223.4" y1="457.5" x2="223.4" y2="500.2" stroke="#7a7fb8" stroke-width="0.9"/>
<text x="227.02" y="481.6" font-size="8.83" fill="#231f20" textLength="18.6" lengthAdjust="spacingAndGlyphs">24 h</text>
<rect x="296.6" y="421.7" width="90.9" height="90.3" fill="#fff" stroke="#9a9a9a" stroke-width="0.8"/>
<line x1="295.4" y1="423.2" x2="296.6" y2="423.2" stroke="#666" stroke-width="0.6"/>
<line x1="295.4" y1="426.2" x2="296.6" y2="426.2" stroke="#666" stroke-width="0.6"/>
<line x1="295.4" y1="429.2" x2="296.6" y2="429.2" stroke="#666" stroke-width="0.6"/>
<line x1="295.4" y1="432.2" x2="296.6" y2="432.2" stroke="#666" stroke-width="0.6"/>
<line x1="295.4" y1="435.2" x2="296.6" y2="435.2" stroke="#666" stroke-width="0.6"/>
<line x1="295.4" y1="438.2" x2="296.6" y2="438.2" stroke="#666" stroke-width="0.6"/>
<line x1="295.4" y1="441.2" x2="296.6" y2="441.2" stroke="#666" stroke-width="0.6"/>
<line x1="295.4" y1="444.2" x2="296.6" y2="444.2" stroke="#666" stroke-width="0.6"/>
<line x1="295.4" y1="447.2" x2="296.6" y2="447.2" stroke="#666" stroke-width="0.6"/>
<line x1="295.4" y1="450.2" x2="296.6" y2="450.2" stroke="#666" stroke-width="0.6"/>
<line x1="295.4" y1="453.2" x2="296.6" y2="453.2" stroke="#666" stroke-width="0.6"/>
<line x1="295.4" y1="456.2" x2="296.6" y2="456.2" stroke="#666" stroke-width="0.6"/>
<line x1="295.4" y1="459.2" x2="296.6" y2="459.2" stroke="#666" stroke-width="0.6"/>
<line x1="295.4" y1="462.2" x2="296.6" y2="462.2" stroke="#666" stroke-width="0.6"/>
<line x1="295.4" y1="465.2" x2="296.6" y2="465.2" stroke="#666" stroke-width="0.6"/>
<line x1="295.4" y1="468.2" x2="296.6" y2="468.2" stroke="#666" stroke-width="0.6"/>
<line x1="295.4" y1="471.2" x2="296.6" y2="471.2" stroke="#666" stroke-width="0.6"/>
<line x1="295.4" y1="474.2" x2="296.6" y2="474.2" stroke="#666" stroke-width="0.6"/>
<line x1="295.4" y1="477.2" x2="296.6" y2="477.2" stroke="#666" stroke-width="0.6"/>
<line x1="295.4" y1="480.2" x2="296.6" y2="480.2" stroke="#666" stroke-width="0.6"/>
<line x1="295.4" y1="483.2" x2="296.6" y2="483.2" stroke="#666" stroke-width="0.6"/>
<line x1="295.4" y1="486.2" x2="296.6" y2="486.2" stroke="#666" stroke-width="0.6"/>
<line x1="295.4" y1="489.2" x2="296.6" y2="489.2" stroke="#666" stroke-width="0.6"/>
<line x1="295.4" y1="492.2" x2="296.6" y2="492.2" stroke="#666" stroke-width="0.6"/>
<line x1="295.4" y1="495.2" x2="296.6" y2="495.2" stroke="#666" stroke-width="0.6"/>
<line x1="295.4" y1="498.2" x2="296.6" y2="498.2" stroke="#666" stroke-width="0.6"/>
<line x1="295.4" y1="501.2" x2="296.6" y2="501.2" stroke="#666" stroke-width="0.6"/>
<line x1="295.4" y1="504.2" x2="296.6" y2="504.2" stroke="#666" stroke-width="0.6"/>
<line x1="295.4" y1="507.2" x2="296.6" y2="507.2" stroke="#666" stroke-width="0.6"/>
<line x1="295.4" y1="510.2" x2="296.6" y2="510.2" stroke="#666" stroke-width="0.6"/>
<line x1="298.1" y1="512" x2="298.1" y2="513.2" stroke="#666" stroke-width="0.6"/>
<line x1="301.1" y1="512" x2="301.1" y2="513.2" stroke="#666" stroke-width="0.6"/>
<line x1="304.1" y1="512" x2="304.1" y2="513.2" stroke="#666" stroke-width="0.6"/>
<line x1="307.1" y1="512" x2="307.1" y2="513.2" stroke="#666" stroke-width="0.6"/>
<line x1="310.1" y1="512" x2="310.1" y2="513.2" stroke="#666" stroke-width="0.6"/>
<line x1="313.1" y1="512" x2="313.1" y2="513.2" stroke="#666" stroke-width="0.6"/>
<line x1="316.1" y1="512" x2="316.1" y2="513.2" stroke="#666" stroke-width="0.6"/>
<line x1="319.1" y1="512" x2="319.1" y2="513.2" stroke="#666" stroke-width="0.6"/>
<line x1="322.1" y1="512" x2="322.1" y2="513.2" stroke="#666" stroke-width="0.6"/>
<line x1="325.1" y1="512" x2="325.1" y2="513.2" stroke="#666" stroke-width="0.6"/>
<line x1="328.1" y1="512" x2="328.1" y2="513.2" stroke="#666" stroke-width="0.6"/>
<line x1="331.1" y1="512" x2="331.1" y2="513.2" stroke="#666" stroke-width="0.6"/>
<line x1="334.1" y1="512" x2="334.1" y2="513.2" stroke="#666" stroke-width="0.6"/>
<line x1="337.1" y1="512" x2="337.1" y2="513.2" stroke="#666" stroke-width="0.6"/>
<line x1="340.1" y1="512" x2="340.1" y2="513.2" stroke="#666" stroke-width="0.6"/>
<line x1="343.1" y1="512" x2="343.1" y2="513.2" stroke="#666" stroke-width="0.6"/>
<line x1="346.1" y1="512" x2="346.1" y2="513.2" stroke="#666" stroke-width="0.6"/>
<line x1="349.1" y1="512" x2="349.1" y2="513.2" stroke="#666" stroke-width="0.6"/>
<line x1="352.1" y1="512" x2="352.1" y2="513.2" stroke="#666" stroke-width="0.6"/>
<line x1="355.1" y1="512" x2="355.1" y2="513.2" stroke="#666" stroke-width="0.6"/>
<line x1="358.1" y1="512" x2="358.1" y2="513.2" stroke="#666" stroke-width="0.6"/>
<line x1="361.1" y1="512" x2="361.1" y2="513.2" stroke="#666" stroke-width="0.6"/>
<line x1="364.1" y1="512" x2="364.1" y2="513.2" stroke="#666" stroke-width="0.6"/>
<line x1="367.1" y1="512" x2="367.1" y2="513.2" stroke="#666" stroke-width="0.6"/>
<line x1="370.1" y1="512" x2="370.1" y2="513.2" stroke="#666" stroke-width="0.6"/>
<line x1="373.1" y1="512" x2="373.1" y2="513.2" stroke="#666" stroke-width="0.6"/>
<line x1="376.1" y1="512" x2="376.1" y2="513.2" stroke="#666" stroke-width="0.6"/>
<line x1="379.1" y1="512" x2="379.1" y2="513.2" stroke="#666" stroke-width="0.6"/>
<line x1="382.1" y1="512" x2="382.1" y2="513.2" stroke="#666" stroke-width="0.6"/>
<line x1="385.1" y1="512" x2="385.1" y2="513.2" stroke="#666" stroke-width="0.6"/>
<line x1="294.1" y1="425.8" x2="296.6" y2="425.8" stroke="#444" stroke-width="0.8"/>
<line x1="294.1" y1="443.3" x2="296.6" y2="443.3" stroke="#444" stroke-width="0.8"/>
<line x1="294.1" y1="460.4" x2="296.6" y2="460.4" stroke="#444" stroke-width="0.8"/>
<line x1="294.1" y1="477.5" x2="296.6" y2="477.5" stroke="#444" stroke-width="0.8"/>
<line x1="294.1" y1="494.4" x2="296.6" y2="494.4" stroke="#444" stroke-width="0.8"/>
<line x1="300.6" y1="512" x2="300.6" y2="514.5" stroke="#444" stroke-width="0.8"/>
<line x1="316.8" y1="512" x2="316.8" y2="514.5" stroke="#444" stroke-width="0.8"/>
<line x1="330.5" y1="512" x2="330.5" y2="514.5" stroke="#444" stroke-width="0.8"/>
<line x1="355.7" y1="512" x2="355.7" y2="514.5" stroke="#444" stroke-width="0.8"/>
<line x1="375.6" y1="512" x2="375.6" y2="514.5" stroke="#444" stroke-width="0.8"/>
<rect x="355.2" y="459.2" width="28.7" height="51.1" fill="none" stroke="#555" stroke-width="0.8"/>
<text x="314.11" y="524.9" font-size="8.88" fill="#231f20" textLength="5.58" lengthAdjust="spacingAndGlyphs">0</text>
<text x="325.3" y="524.9" font-size="8.4" fill="#231f20" textLength="10.6" lengthAdjust="spacingAndGlyphs">10<tspan font-size="5.0" dy="-3.3">3</tspan></text>
<text x="350.3" y="524.9" font-size="8.4" fill="#231f20" textLength="10.6" lengthAdjust="spacingAndGlyphs">10<tspan font-size="5.0" dy="-3.3">4</tspan></text>
<text x="371.1" y="524.9" font-size="8.4" fill="#231f20" textLength="10.6" lengthAdjust="spacingAndGlyphs">10<tspan font-size="5.0" dy="-3.3">5</tspan></text>
<ellipse cx="316.6" cy="513.2" rx="1.3" ry="0.9" fill="#222"/>
<rect x="391.6" y="421.7" width="90.9" height="90.3" fill="#fff" stroke="#9a9a9a" stroke-width="0.8"/>
<line x1="390.4" y1="423.2" x2="391.6" y2="423.2" stroke="#666" stroke-width="0.6"/>
<line x1="390.4" y1="426.2" x2="391.6" y2="426.2" stroke="#666" stroke-width="0.6"/>
<line x1="390.4" y1="429.2" x2="391.6" y2="429.2" stroke="#666" stroke-width="0.6"/>
<line x1="390.4" y1="432.2" x2="391.6" y2="432.2" stroke="#666" stroke-width="0.6"/>
<line x1="390.4" y1="435.2" x2="391.6" y2="435.2" stroke="#666" stroke-width="0.6"/>
<line x1="390.4" y1="438.2" x2="391.6" y2="438.2" stroke="#666" stroke-width="0.6"/>
<line x1="390.4" y1="441.2" x2="391.6" y2="441.2" stroke="#666" stroke-width="0.6"/>
<line x1="390.4" y1="444.2" x2="391.6" y2="444.2" stroke="#666" stroke-width="0.6"/>
<line x1="390.4" y1="447.2" x2="391.6" y2="447.2" stroke="#666" stroke-width="0.6"/>
<line x1="390.4" y1="450.2" x2="391.6" y2="450.2" stroke="#666" stroke-width="0.6"/>
<line x1="390.4" y1="453.2" x2="391.6" y2="453.2" stroke="#666" stroke-width="0.6"/>
<line x1="390.4" y1="456.2" x2="391.6" y2="456.2" stroke="#666" stroke-width="0.6"/>
<line x1="390.4" y1="459.2" x2="391.6" y2="459.2" stroke="#666" stroke-width="0.6"/>
<line x1="390.4" y1="462.2" x2="391.6" y2="462.2" stroke="#666" stroke-width="0.6"/>
<line x1="390.4" y1="465.2" x2="391.6" y2="465.2" stroke="#666" stroke-width="0.6"/>
<line x1="390.4" y1="468.2" x2="391.6" y2="468.2" stroke="#666" stroke-width="0.6"/>
<line x1="390.4" y1="471.2" x2="391.6" y2="471.2" stroke="#666" stroke-width="0.6"/>
<line x1="390.4" y1="474.2" x2="391.6" y2="474.2" stroke="#666" stroke-width="0.6"/>
<line x1="390.4" y1="477.2" x2="391.6" y2="477.2" stroke="#666" stroke-width="0.6"/>
<line x1="390.4" y1="480.2" x2="391.6" y2="480.2" stroke="#666" stroke-width="0.6"/>
<line x1="390.4" y1="483.2" x2="391.6" y2="483.2" stroke="#666" stroke-width="0.6"/>
<line x1="390.4" y1="486.2" x2="391.6" y2="486.2" stroke="#666" stroke-width="0.6"/>
<line x1="390.4" y1="489.2" x2="391.6" y2="489.2" stroke="#666" stroke-width="0.6"/>
<line x1="390.4" y1="492.2" x2="391.6" y2="492.2" stroke="#666" stroke-width="0.6"/>
<line x1="390.4" y1="495.2" x2="391.6" y2="495.2" stroke="#666" stroke-width="0.6"/>
<line x1="390.4" y1="498.2" x2="391.6" y2="498.2" stroke="#666" stroke-width="0.6"/>
<line x1="390.4" y1="501.2" x2="391.6" y2="501.2" stroke="#666" stroke-width="0.6"/>
<line x1="390.4" y1="504.2" x2="391.6" y2="504.2" stroke="#666" stroke-width="0.6"/>
<line x1="390.4" y1="507.2" x2="391.6" y2="507.2" stroke="#666" stroke-width="0.6"/>
<line x1="390.4" y1="510.2" x2="391.6" y2="510.2" stroke="#666" stroke-width="0.6"/>
<line x1="393.1" y1="512" x2="393.1" y2="513.2" stroke="#666" stroke-width="0.6"/>
<line x1="396.1" y1="512" x2="396.1" y2="513.2" stroke="#666" stroke-width="0.6"/>
<line x1="399.1" y1="512" x2="399.1" y2="513.2" stroke="#666" stroke-width="0.6"/>
<line x1="402.1" y1="512" x2="402.1" y2="513.2" stroke="#666" stroke-width="0.6"/>
<line x1="405.1" y1="512" x2="405.1" y2="513.2" stroke="#666" stroke-width="0.6"/>
<line x1="408.1" y1="512" x2="408.1" y2="513.2" stroke="#666" stroke-width="0.6"/>
<line x1="411.1" y1="512" x2="411.1" y2="513.2" stroke="#666" stroke-width="0.6"/>
<line x1="414.1" y1="512" x2="414.1" y2="513.2" stroke="#666" stroke-width="0.6"/>
<line x1="417.1" y1="512" x2="417.1" y2="513.2" stroke="#666" stroke-width="0.6"/>
<line x1="420.1" y1="512" x2="420.1" y2="513.2" stroke="#666" stroke-width="0.6"/>
<line x1="423.1" y1="512" x2="423.1" y2="513.2" stroke="#666" stroke-width="0.6"/>
<line x1="426.1" y1="512" x2="426.1" y2="513.2" stroke="#666" stroke-width="0.6"/>
<line x1="429.1" y1="512" x2="429.1" y2="513.2" stroke="#666" stroke-width="0.6"/>
<line x1="432.1" y1="512" x2="432.1" y2="513.2" stroke="#666" stroke-width="0.6"/>
<line x1="435.1" y1="512" x2="435.1" y2="513.2" stroke="#666" stroke-width="0.6"/>
<line x1="438.1" y1="512" x2="438.1" y2="513.2" stroke="#666" stroke-width="0.6"/>
<line x1="441.1" y1="512" x2="441.1" y2="513.2" stroke="#666" stroke-width="0.6"/>
<line x1="444.1" y1="512" x2="444.1" y2="513.2" stroke="#666" stroke-width="0.6"/>
<line x1="447.1" y1="512" x2="447.1" y2="513.2" stroke="#666" stroke-width="0.6"/>
<line x1="450.1" y1="512" x2="450.1" y2="513.2" stroke="#666" stroke-width="0.6"/>
<line x1="453.1" y1="512" x2="453.1" y2="513.2" stroke="#666" stroke-width="0.6"/>
<line x1="456.1" y1="512" x2="456.1" y2="513.2" stroke="#666" stroke-width="0.6"/>
<line x1="459.1" y1="512" x2="459.1" y2="513.2" stroke="#666" stroke-width="0.6"/>
<line x1="462.1" y1="512" x2="462.1" y2="513.2" stroke="#666" stroke-width="0.6"/>
<line x1="465.1" y1="512" x2="465.1" y2="513.2" stroke="#666" stroke-width="0.6"/>
<line x1="468.1" y1="512" x2="468.1" y2="513.2" stroke="#666" stroke-width="0.6"/>
<line x1="471.1" y1="512" x2="471.1" y2="513.2" stroke="#666" stroke-width="0.6"/>
<line x1="474.1" y1="512" x2="474.1" y2="513.2" stroke="#666" stroke-width="0.6"/>
<line x1="477.1" y1="512" x2="477.1" y2="513.2" stroke="#666" stroke-width="0.6"/>
<line x1="480.1" y1="512" x2="480.1" y2="513.2" stroke="#666" stroke-width="0.6"/>
<line x1="389.1" y1="425.8" x2="391.6" y2="425.8" stroke="#444" stroke-width="0.8"/>
<line x1="389.1" y1="443.3" x2="391.6" y2="443.3" stroke="#444" stroke-width="0.8"/>
<line x1="389.1" y1="460.4" x2="391.6" y2="460.4" stroke="#444" stroke-width="0.8"/>
<line x1="389.1" y1="477.5" x2="391.6" y2="477.5" stroke="#444" stroke-width="0.8"/>
<line x1="389.1" y1="494.4" x2="391.6" y2="494.4" stroke="#444" stroke-width="0.8"/>
<line x1="395.6" y1="512" x2="395.6" y2="514.5" stroke="#444" stroke-width="0.8"/>
<line x1="411.8" y1="512" x2="411.8" y2="514.5" stroke="#444" stroke-width="0.8"/>
<line x1="425.5" y1="512" x2="425.5" y2="514.5" stroke="#444" stroke-width="0.8"/>
<line x1="450.7" y1="512" x2="450.7" y2="514.5" stroke="#444" stroke-width="0.8"/>
<line x1="470.6" y1="512" x2="470.6" y2="514.5" stroke="#444" stroke-width="0.8"/>
<rect x="450.2" y="459.2" width="28.7" height="51.1" fill="none" stroke="#555" stroke-width="0.8"/>
<text x="409.11" y="524.9" font-size="8.88" fill="#231f20" textLength="5.58" lengthAdjust="spacingAndGlyphs">0</text>
<text x="420.3" y="524.9" font-size="8.4" fill="#231f20" textLength="10.6" lengthAdjust="spacingAndGlyphs">10<tspan font-size="5.0" dy="-3.3">3</tspan></text>
<text x="445.3" y="524.9" font-size="8.4" fill="#231f20" textLength="10.6" lengthAdjust="spacingAndGlyphs">10<tspan font-size="5.0" dy="-3.3">4</tspan></text>
<text x="466.1" y="524.9" font-size="8.4" fill="#231f20" textLength="10.6" lengthAdjust="spacingAndGlyphs">10<tspan font-size="5.0" dy="-3.3">5</tspan></text>
<ellipse cx="411.6" cy="513.2" rx="1.3" ry="0.9" fill="#222"/>
<rect x="486.3" y="421.7" width="90.9" height="90.3" fill="#fff" stroke="#9a9a9a" stroke-width="0.8"/>
<line x1="485.1" y1="423.2" x2="486.3" y2="423.2" stroke="#666" stroke-width="0.6"/>
<line x1="485.1" y1="426.2" x2="486.3" y2="426.2" stroke="#666" stroke-width="0.6"/>
<line x1="485.1" y1="429.2" x2="486.3" y2="429.2" stroke="#666" stroke-width="0.6"/>
<line x1="485.1" y1="432.2" x2="486.3" y2="432.2" stroke="#666" stroke-width="0.6"/>
<line x1="485.1" y1="435.2" x2="486.3" y2="435.2" stroke="#666" stroke-width="0.6"/>
<line x1="485.1" y1="438.2" x2="486.3" y2="438.2" stroke="#666" stroke-width="0.6"/>
<line x1="485.1" y1="441.2" x2="486.3" y2="441.2" stroke="#666" stroke-width="0.6"/>
<line x1="485.1" y1="444.2" x2="486.3" y2="444.2" stroke="#666" stroke-width="0.6"/>
<line x1="485.1" y1="447.2" x2="486.3" y2="447.2" stroke="#666" stroke-width="0.6"/>
<line x1="485.1" y1="450.2" x2="486.3" y2="450.2" stroke="#666" stroke-width="0.6"/>
<line x1="485.1" y1="453.2" x2="486.3" y2="453.2" stroke="#666" stroke-width="0.6"/>
<line x1="485.1" y1="456.2" x2="486.3" y2="456.2" stroke="#666" stroke-width="0.6"/>
<line x1="485.1" y1="459.2" x2="486.3" y2="459.2" stroke="#666" stroke-width="0.6"/>
<line x1="485.1" y1="462.2" x2="486.3" y2="462.2" stroke="#666" stroke-width="0.6"/>
<line x1="485.1" y1="465.2" x2="486.3" y2="465.2" stroke="#666" stroke-width="0.6"/>
<line x1="485.1" y1="468.2" x2="486.3" y2="468.2" stroke="#666" stroke-width="0.6"/>
<line x1="485.1" y1="471.2" x2="486.3" y2="471.2" stroke="#666" stroke-width="0.6"/>
<line x1="485.1" y1="474.2" x2="486.3" y2="474.2" stroke="#666" stroke-width="0.6"/>
<line x1="485.1" y1="477.2" x2="486.3" y2="477.2" stroke="#666" stroke-width="0.6"/>
<line x1="485.1" y1="480.2" x2="486.3" y2="480.2" stroke="#666" stroke-width="0.6"/>
<line x1="485.1" y1="483.2" x2="486.3" y2="483.2" stroke="#666" stroke-width="0.6"/>
<line x1="485.1" y1="486.2" x2="486.3" y2="486.2" stroke="#666" stroke-width="0.6"/>
<line x1="485.1" y1="489.2" x2="486.3" y2="489.2" stroke="#666" stroke-width="0.6"/>
<line x1="485.1" y1="492.2" x2="486.3" y2="492.2" stroke="#666" stroke-width="0.6"/>
<line x1="485.1" y1="495.2" x2="486.3" y2="495.2" stroke="#666" stroke-width="0.6"/>
<line x1="485.1" y1="498.2" x2="486.3" y2="498.2" stroke="#666" stroke-width="0.6"/>
<line x1="485.1" y1="501.2" x2="486.3" y2="501.2" stroke="#666" stroke-width="0.6"/>
<line x1="485.1" y1="504.2" x2="486.3" y2="504.2" stroke="#666" stroke-width="0.6"/>
<line x1="485.1" y1="507.2" x2="486.3" y2="507.2" stroke="#666" stroke-width="0.6"/>
<line x1="485.1" y1="510.2" x2="486.3" y2="510.2" stroke="#666" stroke-width="0.6"/>
<line x1="487.8" y1="512" x2="487.8" y2="513.2" stroke="#666" stroke-width="0.6"/>
<line x1="490.8" y1="512" x2="490.8" y2="513.2" stroke="#666" stroke-width="0.6"/>
<line x1="493.8" y1="512" x2="493.8" y2="513.2" stroke="#666" stroke-width="0.6"/>
<line x1="496.8" y1="512" x2="496.8" y2="513.2" stroke="#666" stroke-width="0.6"/>
<line x1="499.8" y1="512" x2="499.8" y2="513.2" stroke="#666" stroke-width="0.6"/>
<line x1="502.8" y1="512" x2="502.8" y2="513.2" stroke="#666" stroke-width="0.6"/>
<line x1="505.8" y1="512" x2="505.8" y2="513.2" stroke="#666" stroke-width="0.6"/>
<line x1="508.8" y1="512" x2="508.8" y2="513.2" stroke="#666" stroke-width="0.6"/>
<line x1="511.8" y1="512" x2="511.8" y2="513.2" stroke="#666" stroke-width="0.6"/>
<line x1="514.8" y1="512" x2="514.8" y2="513.2" stroke="#666" stroke-width="0.6"/>
<line x1="517.8" y1="512" x2="517.8" y2="513.2" stroke="#666" stroke-width="0.6"/>
<line x1="520.8" y1="512" x2="520.8" y2="513.2" stroke="#666" stroke-width="0.6"/>
<line x1="523.8" y1="512" x2="523.8" y2="513.2" stroke="#666" stroke-width="0.6"/>
<line x1="526.8" y1="512" x2="526.8" y2="513.2" stroke="#666" stroke-width="0.6"/>
<line x1="529.8" y1="512" x2="529.8" y2="513.2" stroke="#666" stroke-width="0.6"/>
<line x1="532.8" y1="512" x2="532.8" y2="513.2" stroke="#666" stroke-width="0.6"/>
<line x1="535.8" y1="512" x2="535.8" y2="513.2" stroke="#666" stroke-width="0.6"/>
<line x1="538.8" y1="512" x2="538.8" y2="513.2" stroke="#666" stroke-width="0.6"/>
<line x1="541.8" y1="512" x2="541.8" y2="513.2" stroke="#666" stroke-width="0.6"/>
<line x1="544.8" y1="512" x2="544.8" y2="513.2" stroke="#666" stroke-width="0.6"/>
<line x1="547.8" y1="512" x2="547.8" y2="513.2" stroke="#666" stroke-width="0.6"/>
<line x1="550.8" y1="512" x2="550.8" y2="513.2" stroke="#666" stroke-width="0.6"/>
<line x1="553.8" y1="512" x2="553.8" y2="513.2" stroke="#666" stroke-width="0.6"/>
<line x1="556.8" y1="512" x2="556.8" y2="513.2" stroke="#666" stroke-width="0.6"/>
<line x1="559.8" y1="512" x2="559.8" y2="513.2" stroke="#666" stroke-width="0.6"/>
<line x1="562.8" y1="512" x2="562.8" y2="513.2" stroke="#666" stroke-width="0.6"/>
<line x1="565.8" y1="512" x2="565.8" y2="513.2" stroke="#666" stroke-width="0.6"/>
<line x1="568.8" y1="512" x2="568.8" y2="513.2" stroke="#666" stroke-width="0.6"/>
<line x1="571.8" y1="512" x2="571.8" y2="513.2" stroke="#666" stroke-width="0.6"/>
<line x1="574.8" y1="512" x2="574.8" y2="513.2" stroke="#666" stroke-width="0.6"/>
<line x1="483.8" y1="425.8" x2="486.3" y2="425.8" stroke="#444" stroke-width="0.8"/>
<line x1="483.8" y1="443.3" x2="486.3" y2="443.3" stroke="#444" stroke-width="0.8"/>
<line x1="483.8" y1="460.4" x2="486.3" y2="460.4" stroke="#444" stroke-width="0.8"/>
<line x1="483.8" y1="477.5" x2="486.3" y2="477.5" stroke="#444" stroke-width="0.8"/>
<line x1="483.8" y1="494.4" x2="486.3" y2="494.4" stroke="#444" stroke-width="0.8"/>
<line x1="490.3" y1="512" x2="490.3" y2="514.5" stroke="#444" stroke-width="0.8"/>
<line x1="506.5" y1="512" x2="506.5" y2="514.5" stroke="#444" stroke-width="0.8"/>
<line x1="520.2" y1="512" x2="520.2" y2="514.5" stroke="#444" stroke-width="0.8"/>
<line x1="545.4" y1="512" x2="545.4" y2="514.5" stroke="#444" stroke-width="0.8"/>
<line x1="565.3" y1="512" x2="565.3" y2="514.5" stroke="#444" stroke-width="0.8"/>
<rect x="544.9" y="459.2" width="28.7" height="51.1" fill="none" stroke="#555" stroke-width="0.8"/>
<text x="503.81" y="524.9" font-size="8.88" fill="#231f20" textLength="5.58" lengthAdjust="spacingAndGlyphs">0</text>
<text x="515" y="524.9" font-size="8.4" fill="#231f20" textLength="10.6" lengthAdjust="spacingAndGlyphs">10<tspan font-size="5.0" dy="-3.3">3</tspan></text>
<text x="540" y="524.9" font-size="8.4" fill="#231f20" textLength="10.6" lengthAdjust="spacingAndGlyphs">10<tspan font-size="5.0" dy="-3.3">4</tspan></text>
<text x="560.8" y="524.9" font-size="8.4" fill="#231f20" textLength="10.6" lengthAdjust="spacingAndGlyphs">10<tspan font-size="5.0" dy="-3.3">5</tspan></text>
<ellipse cx="506.3" cy="513.2" rx="1.3" ry="0.9" fill="#222"/>
<text x="270.89" y="428.3" font-size="7.16" fill="#231f20" textLength="18.9" lengthAdjust="spacingAndGlyphs">250K</text>
<text x="270.89" y="445.8" font-size="7.16" fill="#231f20" textLength="18.9" lengthAdjust="spacingAndGlyphs">200K</text>
<text x="270.89" y="462.9" font-size="7.16" fill="#231f20" textLength="18.9" lengthAdjust="spacingAndGlyphs">150K</text>
<text x="270.89" y="480" font-size="7.16" fill="#231f20" textLength="18.9" lengthAdjust="spacingAndGlyphs">100K</text>
<text x="275.39" y="496.9" font-size="7.16" fill="#231f20" textLength="14.4" lengthAdjust="spacingAndGlyphs">50K</text>
<text x="297.09" y="416.4" font-size="7.41" fill="#231f20" textLength="21.71" lengthAdjust="spacingAndGlyphs">RPMI</text>
<text x="391.38" y="416.4" font-size="7.3" fill="#4a4fa0" textLength="23.82" lengthAdjust="spacingAndGlyphs">HBSS</text>
<text x="488.09" y="416.4" font-size="7.04" fill="#e4292f" textLength="62.5" lengthAdjust="spacingAndGlyphs">HBSS + VPS34i</text>
<line x1="263.8" y1="424.5" x2="263.8" y2="454.1" stroke="#3b4a73" stroke-width="1.0"/>
<path d="M263.8,420.8 L261.6,425.5 L266.0,425.5 Z" fill="#3b4a73"/>
<text x="265.9" y="505.8" font-size="9.11" fill="#231f20" textLength="46.65" lengthAdjust="spacingAndGlyphs" transform="rotate(-90 266.3 505.8)">Side scatter</text>
<text x="297.25" y="534.1" font-size="8.69" fill="#231f20" textLength="31.45" lengthAdjust="spacingAndGlyphs">Mitosox</text>
<line x1="331.8" y1="531.4" x2="573.5" y2="531.4" stroke="#3b4a73" stroke-width="1.0"/>
<path d="M577.2,531.4 L572.5,529.2 L572.5,533.6 Z" fill="#3b4a73"/>
<rect x="319.75" y="488.12" width="0.6" height="0.6" fill="#888" opacity="0.6"/>
<rect x="330.71" y="490.99" width="0.6" height="0.6" fill="#888" opacity="0.6"/>
<rect x="351.93" y="465.15" width="0.6" height="0.6" fill="#888" opacity="0.6"/>
<rect x="301.09" y="502.2" width="0.6" height="0.6" fill="#888" opacity="0.6"/>
<rect x="321.53" y="473.25" width="0.6" height="0.6" fill="#888" opacity="0.6"/>
<rect x="382.64" y="484.57" width="0.6" height="0.6" fill="#888" opacity="0.6"/>
<rect x="369.43" y="484.86" width="0.6" height="0.6" fill="#888" opacity="0.6"/>
<rect x="353.04" y="469.23" width="0.6" height="0.6" fill="#888" opacity="0.6"/>
<rect x="352.69" y="503.67" width="0.6" height="0.6" fill="#888" opacity="0.6"/>
<rect x="343.42" y="497.58" width="0.6" height="0.6" fill="#888" opacity="0.6"/>
<rect x="355.73" y="465.07" width="0.6" height="0.6" fill="#888" opacity="0.6"/>
<rect x="362.93" y="490.37" width="0.6" height="0.6" fill="#888" opacity="0.6"/>
<rect x="325.01" y="463.49" width="0.6" height="0.6" fill="#888" opacity="0.6"/>
<rect x="371.84" y="484.69" width="0.6" height="0.6" fill="#888" opacity="0.6"/>
<rect x="359.66" y="504.18" width="0.6" height="0.6" fill="#888" opacity="0.6"/>
<rect x="359.27" y="506.21" width="0.6" height="0.6" fill="#888" opacity="0.6"/>
<rect x="332.78" y="500.44" width="0.6" height="0.6" fill="#888" opacity="0.6"/>
<rect x="336.9" y="506.91" width="0.6" height="0.6" fill="#888" opacity="0.6"/>
<rect x="372.95" y="466.68" width="0.6" height="0.6" fill="#888" opacity="0.6"/>
<rect x="311.29" y="472.42" width="0.6" height="0.6" fill="#888" opacity="0.6"/>
<rect x="380.13" y="482.94" width="0.6" height="0.6" fill="#888" opacity="0.6"/>
<rect x="352.01" y="476.45" width="0.6" height="0.6" fill="#888" opacity="0.6"/>
<rect x="342.1" y="480.52" width="0.6" height="0.6" fill="#888" opacity="0.6"/>
<rect x="329.13" y="490.08" width="0.6" height="0.6" fill="#888" opacity="0.6"/>
<rect x="348.49" y="505.4" width="0.6" height="0.6" fill="#888" opacity="0.6"/>
<rect x="356.6" y="506.59" width="0.6" height="0.6" fill="#888" opacity="0.6"/>
<rect x="371.08" y="509.57" width="0.6" height="0.6" fill="#888" opacity="0.6"/>
<rect x="355.72" y="469.83" width="0.6" height="0.6" fill="#888" opacity="0.6"/>
<rect x="371.43" y="508.3" width="0.6" height="0.6" fill="#888" opacity="0.6"/>
<rect x="375.09" y="489.32" width="0.6" height="0.6" fill="#888" opacity="0.6"/>
<rect x="359.25" y="472.13" width="0.6" height="0.6" fill="#888" opacity="0.6"/>
<rect x="369.02" y="489.53" width="0.6" height="0.6" fill="#888" opacity="0.6"/>
<rect x="323.65" y="465.05" width="0.6" height="0.6" fill="#888" opacity="0.6"/>
<rect x="370.88" y="509.51" width="0.6" height="0.6" fill="#888" opacity="0.6"/>
<rect x="307.35" y="500.43" width="0.6" height="0.6" fill="#888" opacity="0.6"/>
<rect x="334.07" y="469.24" width="0.6" height="0.6" fill="#888" opacity="0.6"/>
<rect x="324.39" y="498.9" width="0.6" height="0.6" fill="#888" opacity="0.6"/>
<rect x="372.44" y="464.12" width="0.6" height="0.6" fill="#888" opacity="0.6"/>
<rect x="351.01" y="464.16" width="0.6" height="0.6" fill="#888" opacity="0.6"/>
<rect x="359.63" y="477.89" width="0.6" height="0.6" fill="#888" opacity="0.6"/>
<rect x="373.12" y="509.07" width="0.6" height="0.6" fill="#888" opacity="0.6"/>
<rect x="341.95" y="509.93" width="0.6" height="0.6" fill="#888" opacity="0.6"/>
<rect x="325.7" y="465.69" width="0.6" height="0.6" fill="#888" opacity="0.6"/>
<rect x="349.78" y="463.51" width="0.6" height="0.6" fill="#888" opacity="0.6"/>
<rect x="316.38" y="481.58" width="0.6" height="0.6" fill="#888" opacity="0.6"/>
<rect x="446.28" y="469.5" width="0.6" height="0.6" fill="#4a5db5" opacity="0.6"/>
<rect x="398.56" y="503.65" width="0.6" height="0.6" fill="#4a5db5" opacity="0.6"/>
<rect x="421.36" y="508.02" width="0.6" height="0.6" fill="#4a5db5" opacity="0.6"/>
<rect x="470.32" y="480.13" width="0.6" height="0.6" fill="#4a5db5" opacity="0.6"/>
<rect x="433.67" y="486.96" width="0.6" height="0.6" fill="#4a5db5" opacity="0.6"/>
<rect x="449.09" y="490.59" width="0.6" height="0.6" fill="#4a5db5" opacity="0.6"/>
<rect x="441.98" y="491.77" width="0.6" height="0.6" fill="#4a5db5" opacity="0.6"/>
<rect x="474.01" y="486.34" width="0.6" height="0.6" fill="#4a5db5" opacity="0.6"/>
<rect x="431.22" y="496.57" width="0.6" height="0.6" fill="#4a5db5" opacity="0.6"/>
<rect x="414.96" y="476.45" width="0.6" height="0.6" fill="#4a5db5" opacity="0.6"/>
<rect x="477.13" y="487.01" width="0.6" height="0.6" fill="#4a5db5" opacity="0.6"/>
<rect x="441.07" y="462.55" width="0.6" height="0.6" fill="#4a5db5" opacity="0.6"/>
<rect x="429.88" y="489.84" width="0.6" height="0.6" fill="#4a5db5" opacity="0.6"/>
<rect x="396.68" y="491.56" width="0.6" height="0.6" fill="#4a5db5" opacity="0.6"/>
<rect x="448.1" y="464.88" width="0.6" height="0.6" fill="#4a5db5" opacity="0.6"/>
<rect x="447.7" y="484.38" width="0.6" height="0.6" fill="#4a5db5" opacity="0.6"/>
<rect x="452.06" y="478.92" width="0.6" height="0.6" fill="#4a5db5" opacity="0.6"/>
<rect x="454.38" y="497.43" width="0.6" height="0.6" fill="#4a5db5" opacity="0.6"/>
<rect x="396.86" y="464.91" width="0.6" height="0.6" fill="#4a5db5" opacity="0.6"/>
<rect x="451.79" y="508.24" width="0.6" height="0.6" fill="#4a5db5" opacity="0.6"/>
<rect x="416.09" y="483.9" width="0.6" height="0.6" fill="#4a5db5" opacity="0.6"/>
<rect x="444.78" y="477.36" width="0.6" height="0.6" fill="#4a5db5" opacity="0.6"/>
<rect x="425.57" y="477.01" width="0.6" height="0.6" fill="#4a5db5" opacity="0.6"/>
<rect x="426.01" y="490.59" width="0.6" height="0.6" fill="#4a5db5" opacity="0.6"/>
<rect x="420.23" y="480.1" width="0.6" height="0.6" fill="#4a5db5" opacity="0.6"/>
<rect x="459.87" y="463.29" width="0.6" height="0.6" fill="#4a5db5" opacity="0.6"/>
<rect x="442.82" y="497.29" width="0.6" height="0.6" fill="#4a5db5" opacity="0.6"/>
<rect x="421.04" y="472.68" width="0.6" height="0.6" fill="#4a5db5" opacity="0.6"/>
<rect x="462.52" y="473.46" width="0.6" height="0.6" fill="#4a5db5" opacity="0.6"/>
<rect x="410.74" y="482.89" width="0.6" height="0.6" fill="#4a5db5" opacity="0.6"/>
<rect x="453.64" y="466.89" width="0.6" height="0.6" fill="#4a5db5" opacity="0.6"/>
<rect x="422.05" y="478.02" width="0.6" height="0.6" fill="#4a5db5" opacity="0.6"/>
<rect x="465.02" y="483.04" width="0.6" height="0.6" fill="#4a5db5" opacity="0.6"/>
<rect x="466.86" y="470.13" width="0.6" height="0.6" fill="#4a5db5" opacity="0.6"/>
<rect x="423.28" y="493.21" width="0.6" height="0.6" fill="#4a5db5" opacity="0.6"/>
<rect x="469.33" y="483.65" width="0.6" height="0.6" fill="#4a5db5" opacity="0.6"/>
<rect x="413.9" y="467.8" width="0.6" height="0.6" fill="#4a5db5" opacity="0.6"/>
<rect x="439.49" y="471.16" width="0.6" height="0.6" fill="#4a5db5" opacity="0.6"/>
<rect x="462.77" y="502.25" width="0.6" height="0.6" fill="#4a5db5" opacity="0.6"/>
<rect x="410.42" y="475.37" width="0.6" height="0.6" fill="#4a5db5" opacity="0.6"/>
<rect x="462.81" y="492.81" width="0.6" height="0.6" fill="#4a5db5" opacity="0.6"/>
<rect x="462.73" y="478.57" width="0.6" height="0.6" fill="#4a5db5" opacity="0.6"/>
<rect x="405.89" y="476.01" width="0.6" height="0.6" fill="#4a5db5" opacity="0.6"/>
<rect x="461.68" y="475.02" width="0.6" height="0.6" fill="#4a5db5" opacity="0.6"/>
<rect x="424.09" y="482.01" width="0.6" height="0.6" fill="#4a5db5" opacity="0.6"/>
<rect x="524.84" y="481.66" width="0.6" height="0.6" fill="#e8302a" opacity="0.6"/>
<rect x="566.41" y="469.49" width="0.6" height="0.6" fill="#e8302a" opacity="0.6"/>
<rect x="490.39" y="507.28" width="0.6" height="0.6" fill="#e8302a" opacity="0.6"/>
<rect x="563.04" y="509.37" width="0.6" height="0.6" fill="#e8302a" opacity="0.6"/>
<rect x="526.05" y="507.61" width="0.6" height="0.6" fill="#e8302a" opacity="0.6"/>
<rect x="566.97" y="472.66" width="0.6" height="0.6" fill="#e8302a" opacity="0.6"/>
<rect x="551.88" y="502.16" width="0.6" height="0.6" fill="#e8302a" opacity="0.6"/>
<rect x="545.03" y="486.91" width="0.6" height="0.6" fill="#e8302a" opacity="0.6"/>
<rect x="513.99" y="478.37" width="0.6" height="0.6" fill="#e8302a" opacity="0.6"/>
<rect x="508.88" y="465.27" width="0.6" height="0.6" fill="#e8302a" opacity="0.6"/>
<rect x="538.86" y="475.78" width="0.6" height="0.6" fill="#e8302a" opacity="0.6"/>
<rect x="557.25" y="464.16" width="0.6" height="0.6" fill="#e8302a" opacity="0.6"/>
<rect x="565" y="495.3" width="0.6" height="0.6" fill="#e8302a" opacity="0.6"/>
<rect x="566.68" y="505.04" width="0.6" height="0.6" fill="#e8302a" opacity="0.6"/>
<rect x="564.67" y="489.69" width="0.6" height="0.6" fill="#e8302a" opacity="0.6"/>
<rect x="491.09" y="497.77" width="0.6" height="0.6" fill="#e8302a" opacity="0.6"/>
<rect x="504.26" y="476.39" width="0.6" height="0.6" fill="#e8302a" opacity="0.6"/>
<rect x="545.02" y="487.2" width="0.6" height="0.6" fill="#e8302a" opacity="0.6"/>
<rect x="524.34" y="507.07" width="0.6" height="0.6" fill="#e8302a" opacity="0.6"/>
<rect x="540.81" y="478.38" width="0.6" height="0.6" fill="#e8302a" opacity="0.6"/>
<rect x="510.96" y="503.36" width="0.6" height="0.6" fill="#e8302a" opacity="0.6"/>
<rect x="529.61" y="499.55" width="0.6" height="0.6" fill="#e8302a" opacity="0.6"/>
<rect x="519.2" y="471.47" width="0.6" height="0.6" fill="#e8302a" opacity="0.6"/>
<rect x="534.37" y="501.21" width="0.6" height="0.6" fill="#e8302a" opacity="0.6"/>
<rect x="504.22" y="500" width="0.6" height="0.6" fill="#e8302a" opacity="0.6"/>
<rect x="566.51" y="500.69" width="0.6" height="0.6" fill="#e8302a" opacity="0.6"/>
<rect x="558.35" y="462.36" width="0.6" height="0.6" fill="#e8302a" opacity="0.6"/>
<rect x="542.17" y="503.4" width="0.6" height="0.6" fill="#e8302a" opacity="0.6"/>
<rect x="494.14" y="475.03" width="0.6" height="0.6" fill="#e8302a" opacity="0.6"/>
<rect x="512.29" y="487.31" width="0.6" height="0.6" fill="#e8302a" opacity="0.6"/>
<rect x="525.11" y="484.7" width="0.6" height="0.6" fill="#e8302a" opacity="0.6"/>
<rect x="554.45" y="462.09" width="0.6" height="0.6" fill="#e8302a" opacity="0.6"/>
<rect x="494.55" y="468.09" width="0.6" height="0.6" fill="#e8302a" opacity="0.6"/>
<rect x="500.34" y="465.28" width="0.6" height="0.6" fill="#e8302a" opacity="0.6"/>
<rect x="570.9" y="503.01" width="0.6" height="0.6" fill="#e8302a" opacity="0.6"/>
<rect x="497.15" y="486.1" width="0.6" height="0.6" fill="#e8302a" opacity="0.6"/>
<rect x="516.22" y="477.1" width="0.6" height="0.6" fill="#e8302a" opacity="0.6"/>
<rect x="519.16" y="493.05" width="0.6" height="0.6" fill="#e8302a" opacity="0.6"/>
<rect x="538.69" y="479.32" width="0.6" height="0.6" fill="#e8302a" opacity="0.6"/>
<rect x="505.86" y="477.78" width="0.6" height="0.6" fill="#e8302a" opacity="0.6"/>
<rect x="500.27" y="488.67" width="0.6" height="0.6" fill="#e8302a" opacity="0.6"/>
<rect x="549.43" y="480.25" width="0.6" height="0.6" fill="#e8302a" opacity="0.6"/>
<rect x="496.63" y="470.57" width="0.6" height="0.6" fill="#e8302a" opacity="0.6"/>
<rect x="520.98" y="491.01" width="0.6" height="0.6" fill="#e8302a" opacity="0.6"/>
<rect x="554.96" y="480.25" width="0.6" height="0.6" fill="#e8302a" opacity="0.6"/>
<rect x="556.5" y="491.9" width="0.6" height="0.6" fill="#e8302a" opacity="0.6"/>
<rect x="525.82" y="479.88" width="0.6" height="0.6" fill="#e8302a" opacity="0.6"/>
<rect x="531.18" y="495.74" width="0.6" height="0.6" fill="#e8302a" opacity="0.6"/>
<rect x="524.9" y="495.32" width="0.6" height="0.6" fill="#e8302a" opacity="0.6"/>
<rect x="528.25" y="473.76" width="0.6" height="0.6" fill="#e8302a" opacity="0.6"/>
<rect x="534.47" y="495.37" width="0.6" height="0.6" fill="#e8302a" opacity="0.6"/>
<rect x="495.94" y="482.39" width="0.6" height="0.6" fill="#e8302a" opacity="0.6"/>
<rect x="525.35" y="504.22" width="0.6" height="0.6" fill="#e8302a" opacity="0.6"/>
<rect x="567.73" y="479.96" width="0.6" height="0.6" fill="#e8302a" opacity="0.6"/>
<rect x="564.52" y="499.96" width="0.6" height="0.6" fill="#e8302a" opacity="0.6"/>
<path d="M301.3,496 C301.72,494.5 302.55,491.83 304,490 C305.45,488.17 307.67,486.42 310,485 C312.33,483.58 315,482.83 318,481.5 C321,480.17 325,478.25 328,477 C331,475.75 333.83,474.83 336,474 C338.17,473.17 339.67,472.25 341,472 C342.33,471.75 343.08,471.83 344,472.5 C344.92,473.17 345.92,474.42 346.5,476 C347.08,477.58 347.33,479.67 347.5,482 C347.67,484.33 347.67,487.5 347.5,490 C347.33,492.5 346.83,495 346.5,497 C346.17,499 346.25,500.83 345.5,502 C344.75,503.17 343.58,503.58 342,504 C340.42,504.42 338.83,504.58 336,504.5 C333.17,504.42 329,503.83 325,503.5 C321,503.17 315.33,502.92 312,502.5 C308.67,502.08 306.75,501.58 305,501 C303.25,500.42 302.12,499.83 301.5,499 C300.88,498.17 300.88,497.5 301.3,496Z" fill="#e9e9e9" stroke="#6e6e6e" stroke-width="1.6" stroke-linejoin="round"/>
<path d="M304.38,495.71 C304.75,494.36 305.5,491.96 306.81,490.31 C308.12,488.66 310.11,487.08 312.21,485.81 C314.31,484.54 316.71,483.86 319.41,482.66 C322.11,481.46 325.71,479.74 328.41,478.61 C331.11,477.49 333.66,476.66 335.61,475.91 C337.56,475.16 338.91,474.34 340.11,474.11 C341.31,473.88 341.99,473.96 342.81,474.56 C343.63,475.16 344.54,476.29 345.06,477.71 C345.58,479.14 345.81,481.01 345.96,483.11 C346.11,485.21 346.11,488.06 345.96,490.31 C345.81,492.56 345.36,494.81 345.06,496.61 C344.76,498.41 344.83,500.06 344.16,501.11 C343.48,502.16 342.44,502.54 341.01,502.91 C339.58,503.29 338.16,503.44 335.61,503.36 C333.06,503.29 329.31,502.76 325.71,502.46 C322.11,502.16 317.01,501.94 314.01,501.56 C311.01,501.19 309.28,500.74 307.71,500.21 C306.13,499.69 305.12,499.16 304.56,498.41 C304,497.66 304,497.06 304.38,495.71Z" fill="#d8d8d8"/>
<path d="M307.46,495.42 C307.79,494.22 308.46,492.09 309.62,490.62 C310.78,489.15 312.55,487.75 314.42,486.62 C316.29,485.49 318.42,484.89 320.82,483.82 C323.22,482.75 326.42,481.22 328.82,480.22 C331.22,479.22 333.49,478.49 335.22,477.82 C336.95,477.15 338.15,476.42 339.22,476.22 C340.29,476.02 340.89,476.09 341.62,476.62 C342.35,477.15 343.15,478.15 343.62,479.42 C344.09,480.69 344.29,482.35 344.42,484.22 C344.55,486.09 344.55,488.62 344.42,490.62 C344.29,492.62 343.89,494.62 343.62,496.22 C343.35,497.82 343.42,499.29 342.82,500.22 C342.22,501.15 341.29,501.49 340.02,501.82 C338.75,502.15 337.49,502.29 335.22,502.22 C332.95,502.15 329.62,501.69 326.42,501.42 C323.22,501.15 318.69,500.95 316.02,500.62 C313.35,500.29 311.82,499.89 310.42,499.42 C309.02,498.95 308.11,498.49 307.62,497.82 C307.13,497.15 307.13,496.62 307.46,495.42Z" fill="#c7c7c7"/>
<path d="M310.54,495.13 C310.83,494.08 311.42,492.21 312.43,490.93 C313.44,489.65 315,488.42 316.63,487.43 C318.26,486.44 320.13,485.91 322.23,484.98 C324.33,484.05 327.13,482.71 329.23,481.83 C331.33,480.96 333.31,480.31 334.83,479.73 C336.35,479.15 337.4,478.51 338.33,478.33 C339.26,478.16 339.79,478.21 340.43,478.68 C341.07,479.15 341.77,480.02 342.18,481.13 C342.59,482.24 342.76,483.7 342.88,485.33 C343,486.96 343,489.18 342.88,490.93 C342.76,492.68 342.41,494.43 342.18,495.83 C341.95,497.23 342,498.51 341.48,499.33 C340.96,500.15 340.14,500.44 339.03,500.73 C337.92,501.02 336.81,501.14 334.83,501.08 C332.85,501.02 329.93,500.61 327.13,500.38 C324.33,500.15 320.36,499.97 318.03,499.68 C315.7,499.39 314.36,499.04 313.13,498.63 C311.9,498.22 311.11,497.81 310.68,497.23 C310.25,496.65 310.25,496.18 310.54,495.13Z" fill="#b6b6b6"/>
<path d="M313.62,494.84 C313.87,493.94 314.37,492.34 315.24,491.24 C316.11,490.14 317.44,489.09 318.84,488.24 C320.24,487.39 321.84,486.94 323.64,486.14 C325.44,485.34 327.84,484.19 329.64,483.44 C331.44,482.69 333.14,482.14 334.44,481.64 C335.74,481.14 336.64,480.59 337.44,480.44 C338.24,480.29 338.69,480.34 339.24,480.74 C339.79,481.14 340.39,481.89 340.74,482.84 C341.09,483.79 341.24,485.04 341.34,486.44 C341.44,487.84 341.44,489.74 341.34,491.24 C341.24,492.74 340.94,494.24 340.74,495.44 C340.54,496.64 340.59,497.74 340.14,498.44 C339.69,499.14 338.99,499.39 338.04,499.64 C337.09,499.89 336.14,499.99 334.44,499.94 C332.74,499.89 330.24,499.54 327.84,499.34 C325.44,499.14 322.04,498.99 320.04,498.74 C318.04,498.49 316.89,498.19 315.84,497.84 C314.79,497.49 314.11,497.14 313.74,496.64 C313.37,496.14 313.37,495.74 313.62,494.84Z" fill="#a5a5a5"/>
<path d="M316.7,494.55 C316.91,493.8 317.32,492.47 318.05,491.55 C318.78,490.63 319.88,489.76 321.05,489.05 C322.22,488.34 323.55,487.97 325.05,487.3 C326.55,486.63 328.55,485.68 330.05,485.05 C331.55,484.43 332.97,483.97 334.05,483.55 C335.13,483.13 335.88,482.68 336.55,482.55 C337.22,482.43 337.59,482.47 338.05,482.8 C338.51,483.13 339.01,483.76 339.3,484.55 C339.59,485.34 339.72,486.38 339.8,487.55 C339.88,488.72 339.88,490.3 339.8,491.55 C339.72,492.8 339.47,494.05 339.3,495.05 C339.13,496.05 339.18,496.97 338.8,497.55 C338.43,498.13 337.84,498.34 337.05,498.55 C336.26,498.76 335.47,498.84 334.05,498.8 C332.63,498.76 330.55,498.47 328.55,498.3 C326.55,498.13 323.72,498.01 322.05,497.8 C320.38,497.59 319.43,497.34 318.55,497.05 C317.68,496.76 317.11,496.47 316.8,496.05 C316.49,495.63 316.49,495.3 316.7,494.55Z" fill="#d4d4d4"/>
<path d="M317.93,494.43 C318.12,493.74 318.51,492.52 319.17,491.67 C319.84,490.83 320.86,490.03 321.93,489.37 C323.01,488.72 324.23,488.38 325.61,487.76 C326.99,487.15 328.83,486.27 330.21,485.69 C331.59,485.12 332.9,484.7 333.89,484.31 C334.89,483.93 335.58,483.51 336.19,483.39 C336.81,483.28 337.15,483.32 337.57,483.62 C338,483.93 338.46,484.51 338.72,485.23 C338.99,485.96 339.11,486.92 339.18,487.99 C339.26,489.07 339.26,490.52 339.18,491.67 C339.11,492.82 338.88,493.97 338.72,494.89 C338.57,495.81 338.61,496.66 338.26,497.19 C337.92,497.73 337.38,497.92 336.65,498.11 C335.93,498.31 335.2,498.38 333.89,498.34 C332.59,498.31 330.67,498.04 328.83,497.88 C326.99,497.73 324.39,497.62 322.85,497.42 C321.32,497.23 320.44,497 319.63,496.73 C318.83,496.47 318.31,496.2 318.02,495.81 C317.74,495.43 317.74,495.12 317.93,494.43Z" fill="#c6c6c6"/>
<path d="M319.16,494.32 C319.34,493.69 319.69,492.57 320.3,491.8 C320.91,491.03 321.84,490.29 322.82,489.7 C323.8,489.1 324.92,488.79 326.18,488.23 C327.44,487.67 329.12,486.86 330.38,486.34 C331.64,485.81 332.83,485.43 333.74,485.08 C334.65,484.73 335.28,484.34 335.84,484.24 C336.4,484.13 336.71,484.17 337.1,484.45 C337.48,484.73 337.9,485.25 338.15,485.92 C338.39,486.58 338.5,487.46 338.57,488.44 C338.64,489.42 338.64,490.75 338.57,491.8 C338.5,492.85 338.29,493.9 338.15,494.74 C338.01,495.58 338.04,496.35 337.73,496.84 C337.41,497.33 336.92,497.5 336.26,497.68 C335.59,497.85 334.93,497.92 333.74,497.89 C332.55,497.85 330.8,497.61 329.12,497.47 C327.44,497.33 325.06,497.22 323.66,497.05 C322.26,496.87 321.45,496.66 320.72,496.42 C319.98,496.17 319.51,495.93 319.25,495.58 C318.99,495.23 318.99,494.95 319.16,494.32Z" fill="#b8b8b8"/>
<path d="M320.4,494.2 C320.55,493.63 320.87,492.62 321.42,491.92 C321.97,491.23 322.82,490.56 323.7,490.02 C324.59,489.48 325.6,489.2 326.74,488.69 C327.88,488.19 329.4,487.46 330.54,486.98 C331.68,486.51 332.76,486.16 333.58,485.84 C334.41,485.53 334.98,485.18 335.48,485.08 C335.99,484.99 336.27,485.02 336.62,485.27 C336.97,485.53 337.35,486 337.57,486.6 C337.79,487.2 337.89,488 337.95,488.88 C338.02,489.77 338.02,490.97 337.95,491.92 C337.89,492.87 337.7,493.82 337.57,494.58 C337.45,495.34 337.48,496.04 337.19,496.48 C336.91,496.93 336.46,497.08 335.86,497.24 C335.26,497.4 334.66,497.46 333.58,497.43 C332.51,497.4 330.92,497.18 329.4,497.05 C327.88,496.93 325.73,496.83 324.46,496.67 C323.2,496.51 322.47,496.32 321.8,496.1 C321.14,495.88 320.71,495.66 320.47,495.34 C320.24,495.03 320.24,494.77 320.4,494.2Z" fill="#aaaaaa"/>
<path d="M321.63,494.09 C321.77,493.58 322.05,492.67 322.55,492.05 C323.04,491.42 323.79,490.83 324.59,490.35 C325.38,489.86 326.29,489.61 327.31,489.16 C328.33,488.7 329.69,488.05 330.71,487.63 C331.73,487.2 332.69,486.89 333.43,486.61 C334.16,486.32 334.67,486.01 335.13,485.93 C335.58,485.84 335.83,485.87 336.15,486.1 C336.46,486.32 336.8,486.75 337,487.29 C337.19,487.82 337.28,488.53 337.34,489.33 C337.39,490.12 337.39,491.2 337.34,492.05 C337.28,492.9 337.11,493.75 337,494.43 C336.88,495.11 336.91,495.73 336.66,496.13 C336.4,496.52 336,496.66 335.47,496.81 C334.93,496.95 334.39,497 333.43,496.98 C332.46,496.95 331.05,496.75 329.69,496.64 C328.33,496.52 326.4,496.44 325.27,496.3 C324.13,496.15 323.48,495.98 322.89,495.79 C322.29,495.59 321.91,495.39 321.7,495.11 C321.49,494.82 321.49,494.6 321.63,494.09Z" fill="#9c9c9c"/>
<path d="M322.86,493.97 C322.99,493.52 323.24,492.72 323.67,492.17 C324.11,491.62 324.77,491.1 325.47,490.67 C326.17,490.25 326.97,490.02 327.87,489.62 C328.77,489.22 329.97,488.64 330.87,488.27 C331.77,487.89 332.62,487.62 333.27,487.37 C333.92,487.12 334.37,486.84 334.77,486.77 C335.17,486.69 335.4,486.72 335.67,486.92 C335.94,487.12 336.25,487.5 336.42,487.97 C336.6,488.45 336.67,489.07 336.72,489.77 C336.77,490.47 336.77,491.42 336.72,492.17 C336.67,492.92 336.52,493.67 336.42,494.27 C336.32,494.87 336.35,495.42 336.12,495.77 C335.89,496.12 335.55,496.25 335.07,496.37 C334.6,496.5 334.12,496.54 333.27,496.52 C332.42,496.5 331.17,496.32 329.97,496.22 C328.77,496.12 327.07,496.05 326.07,495.92 C325.07,495.8 324.5,495.65 323.97,495.47 C323.45,495.3 323.11,495.12 322.92,494.87 C322.74,494.62 322.74,494.42 322.86,493.97Z" fill="#d4d4d4"/>
<path d="M323.54,493.91 C323.65,493.49 323.89,492.75 324.29,492.24 C324.69,491.73 325.31,491.24 325.96,490.85 C326.6,490.45 327.35,490.25 328.18,489.88 C329.01,489.5 330.13,488.97 330.96,488.62 C331.79,488.28 332.58,488.02 333.18,487.79 C333.79,487.56 334.2,487.3 334.57,487.23 C334.94,487.16 335.15,487.19 335.41,487.37 C335.66,487.56 335.94,487.91 336.1,488.35 C336.27,488.79 336.33,489.37 336.38,490.01 C336.43,490.66 336.43,491.54 336.38,492.24 C336.33,492.93 336.2,493.63 336.1,494.18 C336.01,494.74 336.03,495.25 335.83,495.57 C335.62,495.9 335.29,496.01 334.85,496.13 C334.41,496.25 333.97,496.29 333.18,496.27 C332.4,496.25 331.24,496.08 330.13,495.99 C329.01,495.9 327.44,495.83 326.51,495.71 C325.59,495.6 325.05,495.46 324.57,495.3 C324.08,495.13 323.76,494.97 323.59,494.74 C323.42,494.51 323.42,494.32 323.54,493.91Z" fill="#c6c6c6"/>
<path d="M324.22,493.84 C324.32,493.46 324.54,492.78 324.91,492.31 C325.28,491.84 325.85,491.39 326.44,491.03 C327.04,490.66 327.72,490.47 328.49,490.13 C329.26,489.79 330.28,489.3 331.05,488.98 C331.82,488.66 332.54,488.42 333.1,488.21 C333.65,488 334.04,487.76 334.38,487.7 C334.72,487.63 334.91,487.66 335.15,487.83 C335.38,488 335.64,488.32 335.79,488.72 C335.94,489.13 336,489.66 336.04,490.26 C336.09,490.86 336.09,491.67 336.04,492.31 C336,492.95 335.87,493.59 335.79,494.1 C335.7,494.61 335.72,495.08 335.53,495.38 C335.34,495.68 335.04,495.78 334.63,495.89 C334.23,496 333.82,496.04 333.1,496.02 C332.37,496 331.31,495.85 330.28,495.76 C329.26,495.68 327.81,495.61 326.95,495.51 C326.1,495.4 325.61,495.27 325.16,495.12 C324.71,494.97 324.42,494.82 324.27,494.61 C324.11,494.4 324.11,494.23 324.22,493.84Z" fill="#b8b8b8"/>
<path d="M324.89,493.78 C324.99,493.43 325.19,492.8 325.52,492.37 C325.86,491.95 326.38,491.54 326.93,491.2 C327.47,490.87 328.1,490.7 328.8,490.39 C329.5,490.07 330.44,489.63 331.14,489.33 C331.84,489.04 332.51,488.83 333.01,488.63 C333.52,488.44 333.87,488.22 334.18,488.16 C334.49,488.1 334.67,488.12 334.88,488.28 C335.1,488.44 335.33,488.73 335.47,489.1 C335.61,489.47 335.66,489.96 335.7,490.5 C335.74,491.05 335.74,491.79 335.7,492.37 C335.66,492.96 335.55,493.54 335.47,494.01 C335.39,494.48 335.41,494.91 335.24,495.18 C335.06,495.46 334.79,495.55 334.42,495.65 C334.05,495.75 333.68,495.79 333.01,495.77 C332.35,495.75 331.37,495.61 330.44,495.53 C329.5,495.46 328.18,495.4 327.4,495.3 C326.62,495.2 326.17,495.09 325.76,494.95 C325.35,494.81 325.08,494.68 324.94,494.48 C324.8,494.29 324.8,494.13 324.89,493.78Z" fill="#aaaaaa"/>
<path d="M325.57,493.71 C325.66,493.4 325.84,492.83 326.14,492.44 C326.45,492.05 326.92,491.68 327.41,491.38 C327.91,491.08 328.47,490.92 329.11,490.64 C329.75,490.36 330.59,489.95 331.23,489.69 C331.87,489.42 332.47,489.23 332.93,489.05 C333.39,488.87 333.7,488.68 333.99,488.63 C334.27,488.57 334.43,488.59 334.62,488.73 C334.82,488.87 335.03,489.14 335.15,489.47 C335.28,489.81 335.33,490.25 335.36,490.75 C335.4,491.24 335.4,491.91 335.36,492.44 C335.33,492.97 335.22,493.5 335.15,493.93 C335.08,494.35 335.1,494.74 334.94,494.99 C334.78,495.23 334.53,495.32 334.2,495.41 C333.86,495.5 333.53,495.53 332.93,495.52 C332.33,495.5 331.44,495.38 330.59,495.3 C329.75,495.23 328.55,495.18 327.84,495.09 C327.13,495 326.73,494.9 326.35,494.77 C325.98,494.65 325.74,494.53 325.61,494.35 C325.48,494.17 325.48,494.03 325.57,493.71Z" fill="#9c9c9c"/>
<path d="M326.25,493.65 C326.33,493.37 326.49,492.86 326.76,492.51 C327.04,492.16 327.46,491.83 327.9,491.56 C328.34,491.29 328.85,491.15 329.42,490.9 C329.99,490.64 330.75,490.28 331.32,490.04 C331.89,489.8 332.43,489.63 332.84,489.47 C333.25,489.31 333.54,489.14 333.79,489.09 C334.04,489.04 334.19,489.06 334.36,489.19 C334.54,489.31 334.73,489.55 334.84,489.85 C334.95,490.15 334.99,490.55 335.03,490.99 C335.06,491.43 335.06,492.04 335.03,492.51 C334.99,492.99 334.9,493.46 334.84,493.84 C334.77,494.22 334.79,494.57 334.65,494.79 C334.5,495.01 334.28,495.09 333.98,495.17 C333.68,495.25 333.38,495.28 332.84,495.27 C332.3,495.25 331.51,495.14 330.75,495.08 C329.99,495.01 328.91,494.97 328.28,494.89 C327.65,494.81 327.28,494.71 326.95,494.6 C326.62,494.49 326.4,494.38 326.29,494.22 C326.17,494.06 326.17,493.94 326.25,493.65Z" fill="#d4d4d4"/>
<path d="M326.8,493.6 C326.87,493.34 327.02,492.88 327.27,492.57 C327.52,492.25 327.9,491.95 328.3,491.71 C328.7,491.46 329.16,491.33 329.67,491.1 C330.19,490.88 330.88,490.55 331.39,490.33 C331.91,490.12 332.4,489.96 332.77,489.81 C333.14,489.67 333.4,489.51 333.63,489.47 C333.86,489.43 333.99,489.44 334.15,489.56 C334.3,489.67 334.48,489.89 334.58,490.16 C334.68,490.43 334.72,490.79 334.75,491.19 C334.78,491.59 334.78,492.14 334.75,492.57 C334.72,493 334.63,493.43 334.58,493.77 C334.52,494.11 334.53,494.43 334.4,494.63 C334.28,494.83 334.08,494.9 333.8,494.97 C333.53,495.05 333.26,495.08 332.77,495.06 C332.28,495.05 331.57,494.95 330.88,494.89 C330.19,494.83 329.22,494.79 328.64,494.72 C328.07,494.65 327.74,494.56 327.44,494.46 C327.14,494.36 326.94,494.26 326.84,494.11 C326.73,493.97 326.73,493.86 326.8,493.6Z" fill="#c6c6c6"/>
<path d="M327.36,493.55 C327.42,493.32 327.55,492.9 327.77,492.62 C328,492.34 328.34,492.07 328.7,491.85 C329.06,491.63 329.47,491.52 329.93,491.31 C330.39,491.11 331.01,490.81 331.47,490.62 C331.93,490.43 332.37,490.29 332.7,490.16 C333.03,490.03 333.27,489.89 333.47,489.85 C333.68,489.81 333.79,489.82 333.93,489.93 C334.07,490.03 334.23,490.22 334.32,490.47 C334.41,490.71 334.45,491.03 334.47,491.39 C334.5,491.75 334.5,492.24 334.47,492.62 C334.45,493.01 334.37,493.39 334.32,493.7 C334.27,494.01 334.28,494.29 334.16,494.47 C334.05,494.65 333.87,494.71 333.62,494.78 C333.38,494.84 333.14,494.87 332.7,494.86 C332.26,494.84 331.62,494.75 331.01,494.7 C330.39,494.65 329.52,494.61 329,494.55 C328.49,494.48 328.2,494.41 327.93,494.32 C327.66,494.23 327.48,494.14 327.39,494.01 C327.29,493.88 327.29,493.78 327.36,493.55Z" fill="#b8b8b8"/>
<path d="M327.91,493.49 C327.97,493.29 328.08,492.93 328.28,492.68 C328.48,492.43 328.78,492.19 329.09,492 C329.41,491.81 329.77,491.7 330.18,491.52 C330.59,491.34 331.13,491.08 331.54,490.91 C331.95,490.74 332.34,490.62 332.63,490.5 C332.93,490.39 333.13,490.26 333.31,490.23 C333.49,490.2 333.59,490.21 333.72,490.3 C333.84,490.39 333.98,490.56 334.06,490.77 C334.14,490.99 334.17,491.27 334.19,491.59 C334.22,491.91 334.22,492.34 334.19,492.68 C334.17,493.02 334.1,493.36 334.06,493.63 C334.01,493.9 334.02,494.15 333.92,494.31 C333.82,494.47 333.66,494.53 333.45,494.58 C333.23,494.64 333.02,494.66 332.63,494.65 C332.25,494.64 331.68,494.56 331.13,494.51 C330.59,494.47 329.82,494.44 329.37,494.38 C328.91,494.32 328.65,494.25 328.41,494.17 C328.18,494.1 328.02,494.02 327.94,493.9 C327.85,493.79 327.85,493.7 327.91,493.49Z" fill="#aaaaaa"/>
<path d="M328.47,493.44 C328.51,493.27 328.61,492.95 328.78,492.73 C328.96,492.52 329.22,492.31 329.49,492.14 C329.77,491.98 330.08,491.89 330.44,491.73 C330.79,491.57 331.26,491.35 331.62,491.2 C331.97,491.05 332.3,490.94 332.56,490.85 C332.82,490.75 332.99,490.64 333.15,490.61 C333.31,490.58 333.4,490.59 333.5,490.67 C333.61,490.75 333.73,490.9 333.8,491.08 C333.87,491.27 333.9,491.51 333.92,491.79 C333.94,492.07 333.94,492.44 333.92,492.73 C333.9,493.03 333.84,493.32 333.8,493.56 C333.76,493.8 333.77,494.01 333.68,494.15 C333.59,494.29 333.46,494.34 333.27,494.39 C333.08,494.44 332.89,494.46 332.56,494.45 C332.23,494.44 331.73,494.37 331.26,494.33 C330.79,494.29 330.12,494.26 329.73,494.21 C329.33,494.16 329.11,494.1 328.9,494.03 C328.7,493.96 328.56,493.89 328.49,493.8 C328.42,493.7 328.42,493.62 328.47,493.44Z" fill="#9c9c9c"/>
<path d="M329.02,493.39 C329.06,493.24 329.14,492.97 329.29,492.79 C329.43,492.61 329.66,492.43 329.89,492.29 C330.12,492.15 330.39,492.07 330.69,491.94 C330.99,491.81 331.39,491.62 331.69,491.49 C331.99,491.37 332.27,491.27 332.49,491.19 C332.71,491.11 332.86,491.01 332.99,490.99 C333.12,490.97 333.2,490.97 333.29,491.04 C333.38,491.11 333.48,491.23 333.54,491.39 C333.6,491.55 333.62,491.76 333.64,491.99 C333.66,492.22 333.66,492.54 333.64,492.79 C333.62,493.04 333.57,493.29 333.54,493.49 C333.51,493.69 333.51,493.87 333.44,493.99 C333.37,494.11 333.25,494.15 333.09,494.19 C332.93,494.23 332.77,494.25 332.49,494.24 C332.21,494.23 331.79,494.17 331.39,494.14 C330.99,494.11 330.42,494.08 330.09,494.04 C329.76,494 329.56,493.95 329.39,493.89 C329.21,493.83 329.1,493.77 329.04,493.69 C328.98,493.61 328.98,493.54 329.02,493.39Z" fill="#d4d4d4"/>
<path d="M329.33,493.36 C329.37,493.23 329.44,492.99 329.57,492.82 C329.7,492.66 329.9,492.5 330.11,492.37 C330.32,492.24 330.56,492.18 330.83,492.06 C331.1,491.94 331.46,491.76 331.73,491.65 C332,491.54 332.26,491.46 332.45,491.38 C332.65,491.31 332.78,491.22 332.9,491.2 C333.02,491.18 333.09,491.19 333.17,491.25 C333.25,491.31 333.34,491.42 333.4,491.56 C333.45,491.7 333.47,491.89 333.49,492.1 C333.5,492.31 333.5,492.6 333.49,492.82 C333.47,493.05 333.43,493.27 333.4,493.45 C333.37,493.63 333.37,493.8 333.31,493.9 C333.24,494.01 333.13,494.04 332.99,494.08 C332.85,494.12 332.71,494.13 332.45,494.13 C332.2,494.12 331.82,494.07 331.46,494.04 C331.1,494.01 330.59,493.98 330.29,493.95 C329.99,493.91 329.82,493.86 329.66,493.81 C329.5,493.76 329.4,493.71 329.35,493.63 C329.29,493.56 329.29,493.5 329.33,493.36Z" fill="#c6c6c6"/>
<path d="M329.64,493.33 C329.67,493.21 329.74,493 329.85,492.85 C329.97,492.71 330.15,492.57 330.33,492.45 C330.52,492.34 330.73,492.28 330.97,492.17 C331.21,492.07 331.53,491.91 331.77,491.81 C332.01,491.71 332.24,491.64 332.41,491.57 C332.59,491.51 332.71,491.43 332.81,491.41 C332.92,491.39 332.98,491.4 333.05,491.45 C333.13,491.51 333.21,491.61 333.25,491.73 C333.3,491.86 333.32,492.03 333.33,492.21 C333.35,492.4 333.35,492.65 333.33,492.85 C333.32,493.05 333.28,493.25 333.25,493.41 C333.23,493.57 333.23,493.72 333.17,493.81 C333.11,493.91 333.02,493.94 332.89,493.97 C332.77,494.01 332.64,494.02 332.41,494.01 C332.19,494.01 331.85,493.96 331.53,493.93 C331.21,493.91 330.76,493.89 330.49,493.85 C330.23,493.82 330.07,493.78 329.93,493.73 C329.79,493.69 329.7,493.64 329.65,493.57 C329.6,493.51 329.6,493.45 329.64,493.33Z" fill="#b8b8b8"/>
<path d="M329.94,493.3 C329.97,493.2 330.03,493.01 330.13,492.88 C330.23,492.75 330.39,492.63 330.55,492.53 C330.72,492.43 330.9,492.38 331.11,492.29 C331.32,492.19 331.6,492.06 331.81,491.97 C332.02,491.89 332.22,491.82 332.37,491.76 C332.52,491.7 332.63,491.64 332.72,491.62 C332.82,491.61 332.87,491.61 332.93,491.66 C333,491.7 333.07,491.79 333.11,491.9 C333.15,492.01 333.17,492.16 333.18,492.32 C333.19,492.49 333.19,492.71 333.18,492.88 C333.17,493.06 333.13,493.23 333.11,493.37 C333.08,493.51 333.09,493.64 333.04,493.72 C332.99,493.8 332.9,493.83 332.79,493.86 C332.68,493.89 332.57,493.9 332.37,493.9 C332.17,493.89 331.88,493.85 331.6,493.83 C331.32,493.8 330.93,493.79 330.69,493.76 C330.46,493.73 330.33,493.69 330.2,493.65 C330.08,493.61 330,493.57 329.96,493.51 C329.91,493.45 329.91,493.41 329.94,493.3Z" fill="#aaaaaa"/>
<path d="M330.25,493.27 C330.28,493.18 330.33,493.02 330.41,492.91 C330.5,492.8 330.63,492.7 330.77,492.61 C330.91,492.53 331.07,492.48 331.25,492.4 C331.43,492.32 331.67,492.21 331.85,492.13 C332.03,492.06 332.2,492 332.33,491.95 C332.46,491.9 332.55,491.85 332.63,491.83 C332.71,491.82 332.76,491.82 332.81,491.86 C332.87,491.9 332.93,491.98 332.96,492.07 C333,492.17 333.01,492.29 333.02,492.43 C333.03,492.57 333.03,492.76 333.02,492.91 C333.01,493.06 332.98,493.21 332.96,493.33 C332.94,493.45 332.95,493.56 332.9,493.63 C332.86,493.7 332.79,493.73 332.69,493.75 C332.6,493.78 332.5,493.79 332.33,493.78 C332.16,493.78 331.91,493.74 331.67,493.72 C331.43,493.7 331.09,493.69 330.89,493.66 C330.69,493.64 330.58,493.61 330.47,493.57 C330.37,493.54 330.3,493.5 330.26,493.45 C330.23,493.4 330.23,493.36 330.25,493.27Z" fill="#9c9c9c"/>
<path d="M316.7,494.55 C316.91,493.8 317.32,492.47 318.05,491.55 C318.78,490.63 319.88,489.76 321.05,489.05 C322.22,488.34 323.55,487.97 325.05,487.3 C326.55,486.63 328.55,485.68 330.05,485.05 C331.55,484.43 332.97,483.97 334.05,483.55 C335.13,483.13 335.88,482.68 336.55,482.55 C337.22,482.43 337.59,482.47 338.05,482.8 C338.51,483.13 339.01,483.76 339.3,484.55 C339.59,485.34 339.72,486.38 339.8,487.55 C339.88,488.72 339.88,490.3 339.8,491.55 C339.72,492.8 339.47,494.05 339.3,495.05 C339.13,496.05 339.18,496.97 338.8,497.55 C338.43,498.13 337.84,498.34 337.05,498.55 C336.26,498.76 335.47,498.84 334.05,498.8 C332.63,498.76 330.55,498.47 328.55,498.3 C326.55,498.13 323.72,498.01 322.05,497.8 C320.38,497.59 319.43,497.34 318.55,497.05 C317.68,496.76 317.11,496.47 316.8,496.05 C316.49,495.63 316.49,495.3 316.7,494.55Z" fill="#d4d4d4" stroke="#fff" stroke-width="0.75"/>
<path d="M317.93,494.43 C318.12,493.74 318.51,492.52 319.17,491.67 C319.84,490.83 320.86,490.03 321.93,489.37 C323.01,488.72 324.23,488.38 325.61,487.76 C326.99,487.15 328.83,486.27 330.21,485.69 C331.59,485.12 332.9,484.7 333.89,484.31 C334.89,483.93 335.58,483.51 336.19,483.39 C336.81,483.28 337.15,483.32 337.57,483.62 C338,483.93 338.46,484.51 338.72,485.23 C338.99,485.96 339.11,486.92 339.18,487.99 C339.26,489.07 339.26,490.52 339.18,491.67 C339.11,492.82 338.88,493.97 338.72,494.89 C338.57,495.81 338.61,496.66 338.26,497.19 C337.92,497.73 337.38,497.92 336.65,498.11 C335.93,498.31 335.2,498.38 333.89,498.34 C332.59,498.31 330.67,498.04 328.83,497.88 C326.99,497.73 324.39,497.62 322.85,497.42 C321.32,497.23 320.44,497 319.63,496.73 C318.83,496.47 318.31,496.2 318.02,495.81 C317.74,495.43 317.74,495.12 317.93,494.43Z" fill="#c6c6c6"/>
<path d="M319.16,494.32 C319.34,493.69 319.69,492.57 320.3,491.8 C320.91,491.03 321.84,490.29 322.82,489.7 C323.8,489.1 324.92,488.79 326.18,488.23 C327.44,487.67 329.12,486.86 330.38,486.34 C331.64,485.81 332.83,485.43 333.74,485.08 C334.65,484.73 335.28,484.34 335.84,484.24 C336.4,484.13 336.71,484.17 337.1,484.45 C337.48,484.73 337.9,485.25 338.15,485.92 C338.39,486.58 338.5,487.46 338.57,488.44 C338.64,489.42 338.64,490.75 338.57,491.8 C338.5,492.85 338.29,493.9 338.15,494.74 C338.01,495.58 338.04,496.35 337.73,496.84 C337.41,497.33 336.92,497.5 336.26,497.68 C335.59,497.85 334.93,497.92 333.74,497.89 C332.55,497.85 330.8,497.61 329.12,497.47 C327.44,497.33 325.06,497.22 323.66,497.05 C322.26,496.87 321.45,496.66 320.72,496.42 C319.98,496.17 319.51,495.93 319.25,495.58 C318.99,495.23 318.99,494.95 319.16,494.32Z" fill="#b8b8b8"/>
<path d="M320.4,494.2 C320.55,493.63 320.87,492.62 321.42,491.92 C321.97,491.23 322.82,490.56 323.7,490.02 C324.59,489.48 325.6,489.2 326.74,488.69 C327.88,488.19 329.4,487.46 330.54,486.98 C331.68,486.51 332.76,486.16 333.58,485.84 C334.41,485.53 334.98,485.18 335.48,485.08 C335.99,484.99 336.27,485.02 336.62,485.27 C336.97,485.53 337.35,486 337.57,486.6 C337.79,487.2 337.89,488 337.95,488.88 C338.02,489.77 338.02,490.97 337.95,491.92 C337.89,492.87 337.7,493.82 337.57,494.58 C337.45,495.34 337.48,496.04 337.19,496.48 C336.91,496.93 336.46,497.08 335.86,497.24 C335.26,497.4 334.66,497.46 333.58,497.43 C332.51,497.4 330.92,497.18 329.4,497.05 C327.88,496.93 325.73,496.83 324.46,496.67 C323.2,496.51 322.47,496.32 321.8,496.1 C321.14,495.88 320.71,495.66 320.47,495.34 C320.24,495.03 320.24,494.77 320.4,494.2Z" fill="#aaaaaa"/>
<path d="M321.63,494.09 C321.77,493.58 322.05,492.67 322.55,492.05 C323.04,491.42 323.79,490.83 324.59,490.35 C325.38,489.86 326.29,489.61 327.31,489.16 C328.33,488.7 329.69,488.05 330.71,487.63 C331.73,487.2 332.69,486.89 333.43,486.61 C334.16,486.32 334.67,486.01 335.13,485.93 C335.58,485.84 335.83,485.87 336.15,486.1 C336.46,486.32 336.8,486.75 337,487.29 C337.19,487.82 337.28,488.53 337.34,489.33 C337.39,490.12 337.39,491.2 337.34,492.05 C337.28,492.9 337.11,493.75 337,494.43 C336.88,495.11 336.91,495.73 336.66,496.13 C336.4,496.52 336,496.66 335.47,496.81 C334.93,496.95 334.39,497 333.43,496.98 C332.46,496.95 331.05,496.75 329.69,496.64 C328.33,496.52 326.4,496.44 325.27,496.3 C324.13,496.15 323.48,495.98 322.89,495.79 C322.29,495.59 321.91,495.39 321.7,495.11 C321.49,494.82 321.49,494.6 321.63,494.09Z" fill="#9c9c9c"/>
<path d="M322.86,493.97 C322.99,493.52 323.24,492.72 323.67,492.17 C324.11,491.62 324.77,491.1 325.47,490.67 C326.17,490.25 326.97,490.02 327.87,489.62 C328.77,489.22 329.97,488.64 330.87,488.27 C331.77,487.89 332.62,487.62 333.27,487.37 C333.92,487.12 334.37,486.84 334.77,486.77 C335.17,486.69 335.4,486.72 335.67,486.92 C335.94,487.12 336.25,487.5 336.42,487.97 C336.6,488.45 336.67,489.07 336.72,489.77 C336.77,490.47 336.77,491.42 336.72,492.17 C336.67,492.92 336.52,493.67 336.42,494.27 C336.32,494.87 336.35,495.42 336.12,495.77 C335.89,496.12 335.55,496.25 335.07,496.37 C334.6,496.5 334.12,496.54 333.27,496.52 C332.42,496.5 331.17,496.32 329.97,496.22 C328.77,496.12 327.07,496.05 326.07,495.92 C325.07,495.8 324.5,495.65 323.97,495.47 C323.45,495.3 323.11,495.12 322.92,494.87 C322.74,494.62 322.74,494.42 322.86,493.97Z" fill="#d4d4d4" stroke="#fff" stroke-width="0.75"/>
<path d="M323.54,493.91 C323.65,493.49 323.89,492.75 324.29,492.24 C324.69,491.73 325.31,491.24 325.96,490.85 C326.6,490.45 327.35,490.25 328.18,489.88 C329.01,489.5 330.13,488.97 330.96,488.62 C331.79,488.28 332.58,488.02 333.18,487.79 C333.79,487.56 334.2,487.3 334.57,487.23 C334.94,487.16 335.15,487.19 335.41,487.37 C335.66,487.56 335.94,487.91 336.1,488.35 C336.27,488.79 336.33,489.37 336.38,490.01 C336.43,490.66 336.43,491.54 336.38,492.24 C336.33,492.93 336.2,493.63 336.1,494.18 C336.01,494.74 336.03,495.25 335.83,495.57 C335.62,495.9 335.29,496.01 334.85,496.13 C334.41,496.25 333.97,496.29 333.18,496.27 C332.4,496.25 331.24,496.08 330.13,495.99 C329.01,495.9 327.44,495.83 326.51,495.71 C325.59,495.6 325.05,495.46 324.57,495.3 C324.08,495.13 323.76,494.97 323.59,494.74 C323.42,494.51 323.42,494.32 323.54,493.91Z" fill="#c6c6c6"/>
<path d="M324.22,493.84 C324.32,493.46 324.54,492.78 324.91,492.31 C325.28,491.84 325.85,491.39 326.44,491.03 C327.04,490.66 327.72,490.47 328.49,490.13 C329.26,489.79 330.28,489.3 331.05,488.98 C331.82,488.66 332.54,488.42 333.1,488.21 C333.65,488 334.04,487.76 334.38,487.7 C334.72,487.63 334.91,487.66 335.15,487.83 C335.38,488 335.64,488.32 335.79,488.72 C335.94,489.13 336,489.66 336.04,490.26 C336.09,490.86 336.09,491.67 336.04,492.31 C336,492.95 335.87,493.59 335.79,494.1 C335.7,494.61 335.72,495.08 335.53,495.38 C335.34,495.68 335.04,495.78 334.63,495.89 C334.23,496 333.82,496.04 333.1,496.02 C332.37,496 331.31,495.85 330.28,495.76 C329.26,495.68 327.81,495.61 326.95,495.51 C326.1,495.4 325.61,495.27 325.16,495.12 C324.71,494.97 324.42,494.82 324.27,494.61 C324.11,494.4 324.11,494.23 324.22,493.84Z" fill="#b8b8b8"/>
<path d="M324.89,493.78 C324.99,493.43 325.19,492.8 325.52,492.37 C325.86,491.95 326.38,491.54 326.93,491.2 C327.47,490.87 328.1,490.7 328.8,490.39 C329.5,490.07 330.44,489.63 331.14,489.33 C331.84,489.04 332.51,488.83 333.01,488.63 C333.52,488.44 333.87,488.22 334.18,488.16 C334.49,488.1 334.67,488.12 334.88,488.28 C335.1,488.44 335.33,488.73 335.47,489.1 C335.61,489.47 335.66,489.96 335.7,490.5 C335.74,491.05 335.74,491.79 335.7,492.37 C335.66,492.96 335.55,493.54 335.47,494.01 C335.39,494.48 335.41,494.91 335.24,495.18 C335.06,495.46 334.79,495.55 334.42,495.65 C334.05,495.75 333.68,495.79 333.01,495.77 C332.35,495.75 331.37,495.61 330.44,495.53 C329.5,495.46 328.18,495.4 327.4,495.3 C326.62,495.2 326.17,495.09 325.76,494.95 C325.35,494.81 325.08,494.68 324.94,494.48 C324.8,494.29 324.8,494.13 324.89,493.78Z" fill="#aaaaaa"/>
<path d="M325.57,493.71 C325.66,493.4 325.84,492.83 326.14,492.44 C326.45,492.05 326.92,491.68 327.41,491.38 C327.91,491.08 328.47,490.92 329.11,490.64 C329.75,490.36 330.59,489.95 331.23,489.69 C331.87,489.42 332.47,489.23 332.93,489.05 C333.39,488.87 333.7,488.68 333.99,488.63 C334.27,488.57 334.43,488.59 334.62,488.73 C334.82,488.87 335.03,489.14 335.15,489.47 C335.28,489.81 335.33,490.25 335.36,490.75 C335.4,491.24 335.4,491.91 335.36,492.44 C335.33,492.97 335.22,493.5 335.15,493.93 C335.08,494.35 335.1,494.74 334.94,494.99 C334.78,495.23 334.53,495.32 334.2,495.41 C333.86,495.5 333.53,495.53 332.93,495.52 C332.33,495.5 331.44,495.38 330.59,495.3 C329.75,495.23 328.55,495.18 327.84,495.09 C327.13,495 326.73,494.9 326.35,494.77 C325.98,494.65 325.74,494.53 325.61,494.35 C325.48,494.17 325.48,494.03 325.57,493.71Z" fill="#9c9c9c"/>
<path d="M326.25,493.65 C326.33,493.37 326.49,492.86 326.76,492.51 C327.04,492.16 327.46,491.83 327.9,491.56 C328.34,491.29 328.85,491.15 329.42,490.9 C329.99,490.64 330.75,490.28 331.32,490.04 C331.89,489.8 332.43,489.63 332.84,489.47 C333.25,489.31 333.54,489.14 333.79,489.09 C334.04,489.04 334.19,489.06 334.36,489.19 C334.54,489.31 334.73,489.55 334.84,489.85 C334.95,490.15 334.99,490.55 335.03,490.99 C335.06,491.43 335.06,492.04 335.03,492.51 C334.99,492.99 334.9,493.46 334.84,493.84 C334.77,494.22 334.79,494.57 334.65,494.79 C334.5,495.01 334.28,495.09 333.98,495.17 C333.68,495.25 333.38,495.28 332.84,495.27 C332.3,495.25 331.51,495.14 330.75,495.08 C329.99,495.01 328.91,494.97 328.28,494.89 C327.65,494.81 327.28,494.71 326.95,494.6 C326.62,494.49 326.4,494.38 326.29,494.22 C326.17,494.06 326.17,493.94 326.25,493.65Z" fill="#d4d4d4" stroke="#fff" stroke-width="0.75"/>
<path d="M326.8,493.6 C326.87,493.34 327.02,492.88 327.27,492.57 C327.52,492.25 327.9,491.95 328.3,491.71 C328.7,491.46 329.16,491.33 329.67,491.1 C330.19,490.88 330.88,490.55 331.39,490.33 C331.91,490.12 332.4,489.96 332.77,489.81 C333.14,489.67 333.4,489.51 333.63,489.47 C333.86,489.43 333.99,489.44 334.15,489.56 C334.3,489.67 334.48,489.89 334.58,490.16 C334.68,490.43 334.72,490.79 334.75,491.19 C334.78,491.59 334.78,492.14 334.75,492.57 C334.72,493 334.63,493.43 334.58,493.77 C334.52,494.11 334.53,494.43 334.4,494.63 C334.28,494.83 334.08,494.9 333.8,494.97 C333.53,495.05 333.26,495.08 332.77,495.06 C332.28,495.05 331.57,494.95 330.88,494.89 C330.19,494.83 329.22,494.79 328.64,494.72 C328.07,494.65 327.74,494.56 327.44,494.46 C327.14,494.36 326.94,494.26 326.84,494.11 C326.73,493.97 326.73,493.86 326.8,493.6Z" fill="#c6c6c6"/>
<path d="M327.36,493.55 C327.42,493.32 327.55,492.9 327.77,492.62 C328,492.34 328.34,492.07 328.7,491.85 C329.06,491.63 329.47,491.52 329.93,491.31 C330.39,491.11 331.01,490.81 331.47,490.62 C331.93,490.43 332.37,490.29 332.7,490.16 C333.03,490.03 333.27,489.89 333.47,489.85 C333.68,489.81 333.79,489.82 333.93,489.93 C334.07,490.03 334.23,490.22 334.32,490.47 C334.41,490.71 334.45,491.03 334.47,491.39 C334.5,491.75 334.5,492.24 334.47,492.62 C334.45,493.01 334.37,493.39 334.32,493.7 C334.27,494.01 334.28,494.29 334.16,494.47 C334.05,494.65 333.87,494.71 333.62,494.78 C333.38,494.84 333.14,494.87 332.7,494.86 C332.26,494.84 331.62,494.75 331.01,494.7 C330.39,494.65 329.52,494.61 329,494.55 C328.49,494.48 328.2,494.41 327.93,494.32 C327.66,494.23 327.48,494.14 327.39,494.01 C327.29,493.88 327.29,493.78 327.36,493.55Z" fill="#b8b8b8"/>
<path d="M327.91,493.49 C327.97,493.29 328.08,492.93 328.28,492.68 C328.48,492.43 328.78,492.19 329.09,492 C329.41,491.81 329.77,491.7 330.18,491.52 C330.59,491.34 331.13,491.08 331.54,490.91 C331.95,490.74 332.34,490.62 332.63,490.5 C332.93,490.39 333.13,490.26 333.31,490.23 C333.49,490.2 333.59,490.21 333.72,490.3 C333.84,490.39 333.98,490.56 334.06,490.77 C334.14,490.99 334.17,491.27 334.19,491.59 C334.22,491.91 334.22,492.34 334.19,492.68 C334.17,493.02 334.1,493.36 334.06,493.63 C334.01,493.9 334.02,494.15 333.92,494.31 C333.82,494.47 333.66,494.53 333.45,494.58 C333.23,494.64 333.02,494.66 332.63,494.65 C332.25,494.64 331.68,494.56 331.13,494.51 C330.59,494.47 329.82,494.44 329.37,494.38 C328.91,494.32 328.65,494.25 328.41,494.17 C328.18,494.1 328.02,494.02 327.94,493.9 C327.85,493.79 327.85,493.7 327.91,493.49Z" fill="#aaaaaa"/>
<path d="M328.47,493.44 C328.51,493.27 328.61,492.95 328.78,492.73 C328.96,492.52 329.22,492.31 329.49,492.14 C329.77,491.98 330.08,491.89 330.44,491.73 C330.79,491.57 331.26,491.35 331.62,491.2 C331.97,491.05 332.3,490.94 332.56,490.85 C332.82,490.75 332.99,490.64 333.15,490.61 C333.31,490.58 333.4,490.59 333.5,490.67 C333.61,490.75 333.73,490.9 333.8,491.08 C333.87,491.27 333.9,491.51 333.92,491.79 C333.94,492.07 333.94,492.44 333.92,492.73 C333.9,493.03 333.84,493.32 333.8,493.56 C333.76,493.8 333.77,494.01 333.68,494.15 C333.59,494.29 333.46,494.34 333.27,494.39 C333.08,494.44 332.89,494.46 332.56,494.45 C332.23,494.44 331.73,494.37 331.26,494.33 C330.79,494.29 330.12,494.26 329.73,494.21 C329.33,494.16 329.11,494.1 328.9,494.03 C328.7,493.96 328.56,493.89 328.49,493.8 C328.42,493.7 328.42,493.62 328.47,493.44Z" fill="#9c9c9c"/>
<path d="M329.02,493.39 C329.06,493.24 329.14,492.97 329.29,492.79 C329.43,492.61 329.66,492.43 329.89,492.29 C330.12,492.15 330.39,492.07 330.69,491.94 C330.99,491.81 331.39,491.62 331.69,491.49 C331.99,491.37 332.27,491.27 332.49,491.19 C332.71,491.11 332.86,491.01 332.99,490.99 C333.12,490.97 333.2,490.97 333.29,491.04 C333.38,491.11 333.48,491.23 333.54,491.39 C333.6,491.55 333.62,491.76 333.64,491.99 C333.66,492.22 333.66,492.54 333.64,492.79 C333.62,493.04 333.57,493.29 333.54,493.49 C333.51,493.69 333.51,493.87 333.44,493.99 C333.37,494.11 333.25,494.15 333.09,494.19 C332.93,494.23 332.77,494.25 332.49,494.24 C332.21,494.23 331.79,494.17 331.39,494.14 C330.99,494.11 330.42,494.08 330.09,494.04 C329.76,494 329.56,493.95 329.39,493.89 C329.21,493.83 329.1,493.77 329.04,493.69 C328.98,493.61 328.98,493.54 329.02,493.39Z" fill="#d4d4d4" stroke="#fff" stroke-width="0.75"/>
<path d="M329.33,493.36 C329.37,493.23 329.44,492.99 329.57,492.82 C329.7,492.66 329.9,492.5 330.11,492.37 C330.32,492.24 330.56,492.18 330.83,492.06 C331.1,491.94 331.46,491.76 331.73,491.65 C332,491.54 332.26,491.46 332.45,491.38 C332.65,491.31 332.78,491.22 332.9,491.2 C333.02,491.18 333.09,491.19 333.17,491.25 C333.25,491.31 333.34,491.42 333.4,491.56 C333.45,491.7 333.47,491.89 333.49,492.1 C333.5,492.31 333.5,492.6 333.49,492.82 C333.47,493.05 333.43,493.27 333.4,493.45 C333.37,493.63 333.37,493.8 333.31,493.9 C333.24,494.01 333.13,494.04 332.99,494.08 C332.85,494.12 332.71,494.13 332.45,494.13 C332.2,494.12 331.82,494.07 331.46,494.04 C331.1,494.01 330.59,493.98 330.29,493.95 C329.99,493.91 329.82,493.86 329.66,493.81 C329.5,493.76 329.4,493.71 329.35,493.63 C329.29,493.56 329.29,493.5 329.33,493.36Z" fill="#c6c6c6"/>
<path d="M329.64,493.33 C329.67,493.21 329.74,493 329.85,492.85 C329.97,492.71 330.15,492.57 330.33,492.45 C330.52,492.34 330.73,492.28 330.97,492.17 C331.21,492.07 331.53,491.91 331.77,491.81 C332.01,491.71 332.24,491.64 332.41,491.57 C332.59,491.51 332.71,491.43 332.81,491.41 C332.92,491.39 332.98,491.4 333.05,491.45 C333.13,491.51 333.21,491.61 333.25,491.73 C333.3,491.86 333.32,492.03 333.33,492.21 C333.35,492.4 333.35,492.65 333.33,492.85 C333.32,493.05 333.28,493.25 333.25,493.41 C333.23,493.57 333.23,493.72 333.17,493.81 C333.11,493.91 333.02,493.94 332.89,493.97 C332.77,494.01 332.64,494.02 332.41,494.01 C332.19,494.01 331.85,493.96 331.53,493.93 C331.21,493.91 330.76,493.89 330.49,493.85 C330.23,493.82 330.07,493.78 329.93,493.73 C329.79,493.69 329.7,493.64 329.65,493.57 C329.6,493.51 329.6,493.45 329.64,493.33Z" fill="#b8b8b8"/>
<path d="M329.94,493.3 C329.97,493.2 330.03,493.01 330.13,492.88 C330.23,492.75 330.39,492.63 330.55,492.53 C330.72,492.43 330.9,492.38 331.11,492.29 C331.32,492.19 331.6,492.06 331.81,491.97 C332.02,491.89 332.22,491.82 332.37,491.76 C332.52,491.7 332.63,491.64 332.72,491.62 C332.82,491.61 332.87,491.61 332.93,491.66 C333,491.7 333.07,491.79 333.11,491.9 C333.15,492.01 333.17,492.16 333.18,492.32 C333.19,492.49 333.19,492.71 333.18,492.88 C333.17,493.06 333.13,493.23 333.11,493.37 C333.08,493.51 333.09,493.64 333.04,493.72 C332.99,493.8 332.9,493.83 332.79,493.86 C332.68,493.89 332.57,493.9 332.37,493.9 C332.17,493.89 331.88,493.85 331.6,493.83 C331.32,493.8 330.93,493.79 330.69,493.76 C330.46,493.73 330.33,493.69 330.2,493.65 C330.08,493.61 330,493.57 329.96,493.51 C329.91,493.45 329.91,493.41 329.94,493.3Z" fill="#aaaaaa"/>
<path d="M330.25,493.27 C330.28,493.18 330.33,493.02 330.41,492.91 C330.5,492.8 330.63,492.7 330.77,492.61 C330.91,492.53 331.07,492.48 331.25,492.4 C331.43,492.32 331.67,492.21 331.85,492.13 C332.03,492.06 332.2,492 332.33,491.95 C332.46,491.9 332.55,491.85 332.63,491.83 C332.71,491.82 332.76,491.82 332.81,491.86 C332.87,491.9 332.93,491.98 332.96,492.07 C333,492.17 333.01,492.29 333.02,492.43 C333.03,492.57 333.03,492.76 333.02,492.91 C333.01,493.06 332.98,493.21 332.96,493.33 C332.94,493.45 332.95,493.56 332.9,493.63 C332.86,493.7 332.79,493.73 332.69,493.75 C332.6,493.78 332.5,493.79 332.33,493.78 C332.16,493.78 331.91,493.74 331.67,493.72 C331.43,493.7 331.09,493.69 330.89,493.66 C330.69,493.64 330.58,493.61 330.47,493.57 C330.37,493.54 330.3,493.5 330.26,493.45 C330.23,493.4 330.23,493.36 330.25,493.27Z" fill="#9c9c9c"/>
<path d="M330.56,493.25 C330.58,493.17 330.62,493.04 330.69,492.94 C330.77,492.85 330.88,492.77 331,492.69 C331.11,492.62 331.25,492.59 331.39,492.52 C331.54,492.45 331.75,492.36 331.89,492.29 C332.04,492.23 332.19,492.19 332.3,492.14 C332.4,492.1 332.48,492.06 332.55,492.04 C332.61,492.03 332.65,492.04 332.69,492.07 C332.74,492.1 332.79,492.17 332.82,492.25 C332.85,492.32 332.86,492.43 332.87,492.54 C332.88,492.66 332.88,492.82 332.87,492.94 C332.86,493.07 332.84,493.19 332.82,493.29 C332.8,493.39 332.81,493.49 332.77,493.54 C332.73,493.6 332.67,493.62 332.6,493.64 C332.52,493.67 332.44,493.67 332.3,493.67 C332.15,493.67 331.94,493.64 331.75,493.62 C331.55,493.6 331.26,493.59 331.1,493.57 C330.93,493.55 330.83,493.52 330.75,493.5 C330.66,493.47 330.6,493.44 330.57,493.39 C330.54,493.35 330.54,493.32 330.56,493.25Z" fill="#858585" stroke="#fff" stroke-width="0.75"/>
<path d="M394.4,498.8 C394.57,497.3 395.57,494.88 397,493 C398.43,491.12 400.5,489.17 403,487.5 C405.5,485.83 408.83,484.5 412,483 C415.17,481.5 418.83,480.17 422,478.5 C425.17,476.83 428.83,474.58 431,473 C433.17,471.42 433.67,469.92 435,469 C436.33,468.08 437.67,467.5 439,467.5 C440.33,467.5 442.17,467.92 443,469 C443.83,470.08 443.33,472.17 444,474 C444.67,475.83 446.33,478.17 447,480 C447.67,481.83 448.17,483.33 448,485 C447.83,486.67 446.67,488 446,490 C445.33,492 444.67,494.83 444,497 C443.33,499.17 443,501.75 442,503 C441,504.25 440.83,504.17 438,504.5 C435.17,504.83 429.67,505 425,505 C420.33,505 414,504.72 410,504.5 C406,504.28 403.33,504.12 401,503.7 C398.67,503.28 397.1,502.82 396,502 C394.9,501.18 394.23,500.3 394.4,498.8Z" fill="#e6e9f6" stroke="#2a3f9c" stroke-width="2.6" stroke-linejoin="round"/>
<path d="M397.45,498.52 C397.6,497.17 398.5,495 399.79,493.3 C401.08,491.61 402.94,489.85 405.19,488.35 C407.44,486.85 410.44,485.65 413.29,484.3 C416.14,482.95 419.44,481.75 422.29,480.25 C425.14,478.75 428.44,476.73 430.39,475.3 C432.34,473.88 432.79,472.52 433.99,471.7 C435.19,470.88 436.39,470.35 437.59,470.35 C438.79,470.35 440.44,470.72 441.19,471.7 C441.94,472.68 441.49,474.55 442.09,476.2 C442.69,477.85 444.19,479.95 444.79,481.6 C445.39,483.25 445.84,484.6 445.69,486.1 C445.54,487.6 444.49,488.8 443.89,490.6 C443.29,492.4 442.69,494.95 442.09,496.9 C441.49,498.85 441.19,501.18 440.29,502.3 C439.39,503.43 439.24,503.35 436.69,503.65 C434.14,503.95 429.19,504.1 424.99,504.1 C420.79,504.1 415.09,503.84 411.49,503.65 C407.89,503.45 405.49,503.3 403.39,502.93 C401.29,502.55 399.88,502.13 398.89,501.4 C397.9,500.66 397.3,499.87 397.45,498.52Z" fill="#c5cbe8"/>
<path d="M400.5,498.24 C400.63,497.04 401.43,495.11 402.58,493.6 C403.73,492.09 405.38,490.53 407.38,489.2 C409.38,487.87 412.05,486.8 414.58,485.6 C417.11,484.4 420.05,483.33 422.58,482 C425.11,480.67 428.05,478.87 429.78,477.6 C431.51,476.33 431.91,475.13 432.98,474.4 C434.05,473.67 435.11,473.2 436.18,473.2 C437.25,473.2 438.71,473.53 439.38,474.4 C440.05,475.27 439.65,476.93 440.18,478.4 C440.71,479.87 442.05,481.73 442.58,483.2 C443.11,484.67 443.51,485.87 443.38,487.2 C443.25,488.53 442.31,489.6 441.78,491.2 C441.25,492.8 440.71,495.07 440.18,496.8 C439.65,498.53 439.38,500.6 438.58,501.6 C437.78,502.6 437.65,502.53 435.38,502.8 C433.11,503.07 428.71,503.2 424.98,503.2 C421.25,503.2 416.18,502.97 412.98,502.8 C409.78,502.63 407.65,502.49 405.78,502.16 C403.91,501.83 402.66,501.45 401.78,500.8 C400.9,500.15 400.37,499.44 400.5,498.24Z" fill="#a5add9"/>
<path d="M403.55,497.96 C403.67,496.91 404.37,495.22 405.37,493.9 C406.37,492.58 407.82,491.22 409.57,490.05 C411.32,488.88 413.65,487.95 415.87,486.9 C418.09,485.85 420.65,484.92 422.87,483.75 C425.09,482.58 427.65,481.01 429.17,479.9 C430.69,478.79 431.04,477.74 431.97,477.1 C432.9,476.46 433.84,476.05 434.77,476.05 C435.7,476.05 436.99,476.34 437.57,477.1 C438.15,477.86 437.8,479.32 438.27,480.6 C438.74,481.88 439.9,483.52 440.37,484.8 C440.84,486.08 441.19,487.13 441.07,488.3 C440.95,489.47 440.14,490.4 439.67,491.8 C439.2,493.2 438.74,495.18 438.27,496.7 C437.8,498.22 437.57,500.02 436.87,500.9 C436.17,501.77 436.05,501.72 434.07,501.95 C432.09,502.18 428.24,502.3 424.97,502.3 C421.7,502.3 417.27,502.1 414.47,501.95 C411.67,501.8 409.8,501.68 408.17,501.39 C406.54,501.1 405.44,500.77 404.67,500.2 C403.9,499.63 403.43,499.01 403.55,497.96Z" fill="#848fcb"/>
<path d="M406.6,497.68 C406.7,496.78 407.3,495.33 408.16,494.2 C409.02,493.07 410.26,491.9 411.76,490.9 C413.26,489.9 415.26,489.1 417.16,488.2 C419.06,487.3 421.26,486.5 423.16,485.5 C425.06,484.5 427.26,483.15 428.56,482.2 C429.86,481.25 430.16,480.35 430.96,479.8 C431.76,479.25 432.56,478.9 433.36,478.9 C434.16,478.9 435.26,479.15 435.76,479.8 C436.26,480.45 435.96,481.7 436.36,482.8 C436.76,483.9 437.76,485.3 438.16,486.4 C438.56,487.5 438.86,488.4 438.76,489.4 C438.66,490.4 437.96,491.2 437.56,492.4 C437.16,493.6 436.76,495.3 436.36,496.6 C435.96,497.9 435.76,499.45 435.16,500.2 C434.56,500.95 434.46,500.9 432.76,501.1 C431.06,501.3 427.76,501.4 424.96,501.4 C422.16,501.4 418.36,501.23 415.96,501.1 C413.56,500.97 411.96,500.87 410.56,500.62 C409.16,500.37 408.22,500.09 407.56,499.6 C406.9,499.11 406.5,498.58 406.6,497.68Z" fill="#6471bc"/>
<path d="M409.65,497.4 C409.73,496.65 410.23,495.44 410.95,494.5 C411.67,493.56 412.7,492.58 413.95,491.75 C415.2,490.92 416.87,490.25 418.45,489.5 C420.03,488.75 421.87,488.08 423.45,487.25 C425.03,486.42 426.87,485.29 427.95,484.5 C429.03,483.71 429.28,482.96 429.95,482.5 C430.62,482.04 431.28,481.75 431.95,481.75 C432.62,481.75 433.53,481.96 433.95,482.5 C434.37,483.04 434.12,484.08 434.45,485 C434.78,485.92 435.62,487.08 435.95,488 C436.28,488.92 436.53,489.67 436.45,490.5 C436.37,491.33 435.78,492 435.45,493 C435.12,494 434.78,495.42 434.45,496.5 C434.12,497.58 433.95,498.88 433.45,499.5 C432.95,500.12 432.87,500.08 431.45,500.25 C430.03,500.42 427.28,500.5 424.95,500.5 C422.62,500.5 419.45,500.36 417.45,500.25 C415.45,500.14 414.12,500.06 412.95,499.85 C411.78,499.64 411,499.41 410.45,499 C409.9,498.59 409.57,498.15 409.65,497.4Z" fill="#c3cae9"/>
<path d="M410.87,497.29 C410.95,496.6 411.41,495.49 412.07,494.62 C412.73,493.75 413.68,492.86 414.83,492.09 C415.98,491.32 417.51,490.71 418.97,490.02 C420.42,489.33 422.11,488.72 423.57,487.95 C425.02,487.18 426.71,486.15 427.71,485.42 C428.7,484.69 428.93,484 429.55,483.58 C430.16,483.16 430.77,482.89 431.39,482.89 C432,482.89 432.84,483.08 433.23,483.58 C433.61,484.08 433.38,485.04 433.69,485.88 C433.99,486.72 434.76,487.8 435.07,488.64 C435.37,489.48 435.6,490.17 435.53,490.94 C435.45,491.71 434.91,492.32 434.61,493.24 C434.3,494.16 433.99,495.46 433.69,496.46 C433.38,497.46 433.23,498.64 432.77,499.22 C432.31,499.79 432.23,499.76 430.93,499.91 C429.62,500.06 427.09,500.14 424.95,500.14 C422.8,500.14 419.89,500.01 418.05,499.91 C416.21,499.81 414.98,499.73 413.91,499.54 C412.83,499.35 412.11,499.14 411.61,498.76 C411.1,498.38 410.79,497.98 410.87,497.29Z" fill="#a8b1dc"/>
<path d="M412.09,497.18 C412.16,496.55 412.58,495.53 413.18,494.74 C413.78,493.95 414.65,493.13 415.7,492.43 C416.75,491.73 418.15,491.17 419.48,490.54 C420.81,489.91 422.35,489.35 423.68,488.65 C425.01,487.95 426.55,487 427.46,486.34 C428.37,485.67 428.58,485.04 429.14,484.66 C429.7,484.27 430.26,484.03 430.82,484.03 C431.38,484.03 432.15,484.2 432.5,484.66 C432.85,485.11 432.64,485.99 432.92,486.76 C433.2,487.53 433.9,488.51 434.18,489.28 C434.46,490.05 434.67,490.68 434.6,491.38 C434.53,492.08 434.04,492.64 433.76,493.48 C433.48,494.32 433.2,495.51 432.92,496.42 C432.64,497.33 432.5,498.41 432.08,498.94 C431.66,499.46 431.59,499.43 430.4,499.57 C429.21,499.71 426.9,499.78 424.94,499.78 C422.98,499.78 420.32,499.66 418.64,499.57 C416.96,499.48 415.84,499.41 414.86,499.23 C413.88,499.06 413.22,498.86 412.76,498.52 C412.3,498.18 412.02,497.81 412.09,497.18Z" fill="#8d97cf"/>
<path d="M413.31,497.06 C413.37,496.49 413.75,495.58 414.3,494.86 C414.84,494.14 415.63,493.4 416.58,492.77 C417.53,492.14 418.79,491.63 420,491.06 C421.2,490.49 422.59,489.98 423.8,489.35 C425,488.72 426.39,487.86 427.22,487.26 C428.04,486.66 428.23,486.09 428.74,485.74 C429.24,485.39 429.75,485.17 430.26,485.17 C430.76,485.17 431.46,485.33 431.78,485.74 C432.09,486.15 431.9,486.94 432.16,487.64 C432.41,488.34 433.04,489.22 433.3,489.92 C433.55,490.62 433.74,491.19 433.68,491.82 C433.61,492.45 433.17,492.96 432.92,493.72 C432.66,494.48 432.41,495.56 432.16,496.38 C431.9,497.2 431.78,498.19 431.4,498.66 C431.02,499.14 430.95,499.1 429.88,499.23 C428.8,499.36 426.71,499.42 424.94,499.42 C423.16,499.42 420.76,499.31 419.24,499.23 C417.72,499.15 416.7,499.08 415.82,498.93 C414.93,498.77 414.34,498.59 413.92,498.28 C413.5,497.97 413.25,497.63 413.31,497.06Z" fill="#717ec3"/>
<path d="M414.53,496.95 C414.59,496.44 414.93,495.62 415.41,494.98 C415.9,494.34 416.6,493.68 417.45,493.11 C418.3,492.54 419.44,492.09 420.51,491.58 C421.59,491.07 422.84,490.62 423.91,490.05 C424.99,489.48 426.24,488.72 426.97,488.18 C427.71,487.64 427.88,487.13 428.33,486.82 C428.79,486.51 429.24,486.31 429.69,486.31 C430.15,486.31 430.77,486.45 431.05,486.82 C431.34,487.19 431.17,487.9 431.39,488.52 C431.62,489.14 432.19,489.94 432.41,490.56 C432.64,491.18 432.81,491.69 432.75,492.26 C432.7,492.83 432.3,493.28 432.07,493.96 C431.85,494.64 431.62,495.6 431.39,496.34 C431.17,497.08 431.05,497.95 430.71,498.38 C430.37,498.81 430.32,498.78 429.35,498.89 C428.39,499 426.52,499.06 424.93,499.06 C423.35,499.06 421.19,498.96 419.83,498.89 C418.47,498.82 417.57,498.76 416.77,498.62 C415.98,498.48 415.45,498.32 415.07,498.04 C414.7,497.76 414.47,497.46 414.53,496.95Z" fill="#5664b6"/>
<path d="M415.75,496.84 C415.8,496.39 416.1,495.66 416.53,495.1 C416.96,494.53 417.58,493.95 418.33,493.45 C419.08,492.95 420.08,492.55 421.03,492.1 C421.98,491.65 423.08,491.25 424.03,490.75 C424.98,490.25 426.08,489.57 426.73,489.1 C427.38,488.62 427.53,488.17 427.93,487.9 C428.33,487.62 428.73,487.45 429.13,487.45 C429.53,487.45 430.08,487.57 430.33,487.9 C430.58,488.22 430.43,488.85 430.63,489.4 C430.83,489.95 431.33,490.65 431.53,491.2 C431.73,491.75 431.88,492.2 431.83,492.7 C431.78,493.2 431.43,493.6 431.23,494.2 C431.03,494.8 430.83,495.65 430.63,496.3 C430.43,496.95 430.33,497.72 430.03,498.1 C429.73,498.47 429.68,498.45 428.83,498.55 C427.98,498.65 426.33,498.7 424.93,498.7 C423.53,498.7 421.63,498.61 420.43,498.55 C419.23,498.48 418.43,498.44 417.73,498.31 C417.03,498.19 416.56,498.04 416.23,497.8 C415.9,497.55 415.7,497.29 415.75,496.84Z" fill="#c3cae9"/>
<path d="M416.42,496.78 C416.47,496.36 416.75,495.69 417.14,495.17 C417.54,494.64 418.12,494.1 418.81,493.64 C419.51,493.17 420.43,492.8 421.31,492.39 C422.19,491.97 423.21,491.6 424.09,491.13 C424.97,490.67 425.99,490.05 426.6,489.61 C427.2,489.17 427.34,488.75 427.71,488.49 C428.08,488.24 428.45,488.08 428.82,488.08 C429.19,488.08 429.7,488.19 429.93,488.49 C430.16,488.8 430.02,489.37 430.21,489.88 C430.4,490.39 430.86,491.04 431.04,491.55 C431.23,492.06 431.37,492.48 431.32,492.94 C431.28,493.41 430.95,493.78 430.77,494.33 C430.58,494.89 430.4,495.68 430.21,496.28 C430.02,496.88 429.93,497.6 429.65,497.95 C429.38,498.29 429.33,498.27 428.54,498.36 C427.75,498.46 426.23,498.5 424.93,498.5 C423.63,498.5 421.87,498.42 420.76,498.36 C419.65,498.3 418.9,498.26 418.26,498.14 C417.61,498.02 417.17,497.9 416.87,497.67 C416.56,497.44 416.37,497.2 416.42,496.78Z" fill="#a8b1dc"/>
<path d="M417.09,496.72 C417.13,496.33 417.39,495.71 417.76,495.23 C418.12,494.75 418.65,494.25 419.29,493.82 C419.93,493.4 420.79,493.06 421.6,492.67 C422.41,492.29 423.35,491.95 424.16,491.52 C424.97,491.09 425.91,490.52 426.46,490.11 C427.02,489.71 427.14,489.32 427.49,489.09 C427.83,488.85 428.17,488.7 428.51,488.7 C428.85,488.7 429.32,488.81 429.53,489.09 C429.75,489.37 429.62,489.9 429.79,490.37 C429.96,490.84 430.39,491.43 430.56,491.9 C430.73,492.37 430.86,492.76 430.81,493.18 C430.77,493.61 430.47,493.95 430.3,494.46 C430.13,494.98 429.96,495.7 429.79,496.26 C429.62,496.81 429.53,497.47 429.28,497.79 C429.02,498.11 428.98,498.09 428.25,498.18 C427.53,498.26 426.12,498.3 424.93,498.3 C423.73,498.3 422.11,498.23 421.09,498.18 C420.06,498.12 419.38,498.08 418.78,497.97 C418.18,497.86 417.78,497.75 417.5,497.54 C417.22,497.33 417.05,497.1 417.09,496.72Z" fill="#8d97cf"/>
<path d="M417.76,496.66 C417.8,496.3 418.04,495.74 418.37,495.3 C418.71,494.86 419.19,494.4 419.78,494.01 C420.36,493.62 421.14,493.31 421.88,492.96 C422.62,492.61 423.48,492.29 424.22,491.9 C424.96,491.51 425.82,490.99 426.33,490.62 C426.83,490.25 426.95,489.9 427.26,489.68 C427.58,489.47 427.89,489.33 428.2,489.33 C428.51,489.33 428.94,489.43 429.14,489.68 C429.33,489.94 429.21,490.42 429.37,490.85 C429.53,491.28 429.92,491.83 430.07,492.26 C430.23,492.68 430.34,493.04 430.31,493.43 C430.27,493.82 429.99,494.13 429.84,494.6 C429.68,495.06 429.53,495.73 429.37,496.23 C429.21,496.74 429.14,497.35 428.9,497.64 C428.67,497.93 428.63,497.91 427.97,497.99 C427.3,498.07 426.02,498.11 424.92,498.11 C423.83,498.11 422.35,498.04 421.41,497.99 C420.48,497.94 419.85,497.9 419.31,497.8 C418.76,497.7 418.39,497.6 418.14,497.4 C417.88,497.21 417.72,497.01 417.76,496.66Z" fill="#717ec3"/>
<path d="M418.43,496.59 C418.47,496.28 418.68,495.76 418.99,495.36 C419.29,494.96 419.73,494.55 420.26,494.2 C420.79,493.84 421.49,493.56 422.17,493.24 C422.84,492.93 423.61,492.64 424.29,492.29 C424.96,491.94 425.73,491.46 426.19,491.12 C426.65,490.79 426.76,490.47 427.04,490.28 C427.32,490.08 427.61,489.96 427.89,489.96 C428.17,489.96 428.56,490.05 428.74,490.28 C428.91,490.51 428.81,490.95 428.95,491.34 C429.09,491.72 429.44,492.22 429.59,492.61 C429.73,493 429.83,493.31 429.8,493.67 C429.76,494.02 429.51,494.3 429.37,494.73 C429.23,495.15 429.09,495.75 428.95,496.21 C428.81,496.67 428.74,497.22 428.53,497.48 C428.31,497.75 428.28,497.73 427.68,497.8 C427.08,497.87 425.91,497.91 424.92,497.91 C423.93,497.91 422.59,497.85 421.74,497.8 C420.89,497.76 420.33,497.72 419.83,497.63 C419.34,497.54 419.01,497.45 418.77,497.27 C418.54,497.1 418.4,496.91 418.43,496.59Z" fill="#5664b6"/>
<path d="M419.1,496.53 C419.14,496.25 419.33,495.79 419.6,495.43 C419.87,495.07 420.26,494.7 420.74,494.38 C421.21,494.07 421.85,493.81 422.45,493.53 C423.05,493.24 423.75,492.99 424.35,492.67 C424.95,492.36 425.65,491.93 426.06,491.63 C426.47,491.33 426.57,491.04 426.82,490.87 C427.07,490.7 427.33,490.58 427.58,490.58 C427.83,490.58 428.18,490.66 428.34,490.87 C428.5,491.08 428.4,491.47 428.53,491.82 C428.66,492.17 428.97,492.61 429.1,492.96 C429.23,493.31 429.32,493.59 429.29,493.91 C429.26,494.23 429.04,494.48 428.91,494.86 C428.78,495.24 428.66,495.78 428.53,496.19 C428.4,496.6 428.34,497.09 428.15,497.33 C427.96,497.57 427.93,497.55 427.39,497.61 C426.85,497.68 425.81,497.71 424.92,497.71 C424.03,497.71 422.83,497.66 422.07,497.61 C421.31,497.57 420.8,497.54 420.36,497.46 C419.92,497.38 419.62,497.3 419.41,497.14 C419.2,496.98 419.07,496.82 419.1,496.53Z" fill="#c3cae9"/>
<path d="M419.65,496.48 C419.68,496.22 419.85,495.81 420.1,495.48 C420.35,495.16 420.7,494.82 421.13,494.54 C421.56,494.25 422.14,494.02 422.68,493.76 C423.23,493.51 423.86,493.28 424.4,492.99 C424.95,492.7 425.58,492.32 425.95,492.04 C426.32,491.77 426.41,491.51 426.64,491.36 C426.87,491.2 427.1,491.1 427.33,491.1 C427.55,491.1 427.87,491.17 428.01,491.36 C428.16,491.54 428.07,491.9 428.19,492.22 C428.3,492.53 428.59,492.93 428.7,493.25 C428.82,493.56 428.9,493.82 428.87,494.11 C428.84,494.39 428.64,494.62 428.53,494.97 C428.41,495.31 428.3,495.8 428.19,496.17 C428.07,496.54 428.01,496.99 427.84,497.2 C427.67,497.42 427.64,497.4 427.15,497.46 C426.67,497.52 425.72,497.55 424.92,497.55 C424.11,497.55 423.03,497.5 422.34,497.46 C421.65,497.42 421.19,497.4 420.79,497.32 C420.39,497.25 420.12,497.17 419.93,497.03 C419.74,496.89 419.63,496.74 419.65,496.48Z" fill="#a8b1dc"/>
<path d="M420.2,496.43 C420.23,496.2 420.38,495.83 420.6,495.54 C420.82,495.25 421.14,494.95 421.53,494.69 C421.91,494.43 422.43,494.23 422.91,494 C423.4,493.77 423.97,493.56 424.45,493.3 C424.94,493.05 425.51,492.7 425.84,492.46 C426.17,492.21 426.25,491.98 426.46,491.84 C426.66,491.7 426.87,491.61 427.07,491.61 C427.28,491.61 427.56,491.68 427.69,491.84 C427.82,492.01 427.74,492.33 427.84,492.61 C427.94,492.89 428.2,493.25 428.3,493.54 C428.41,493.82 428.48,494.05 428.46,494.31 C428.43,494.56 428.25,494.77 428.15,495.08 C428.05,495.38 427.94,495.82 427.84,496.15 C427.74,496.49 427.69,496.89 427.53,497.08 C427.38,497.27 427.35,497.26 426.92,497.31 C426.48,497.36 425.63,497.39 424.92,497.39 C424.2,497.39 423.22,497.34 422.61,497.31 C421.99,497.28 421.58,497.25 421.22,497.19 C420.86,497.12 420.62,497.05 420.45,496.92 C420.28,496.8 420.18,496.66 420.2,496.43Z" fill="#8d97cf"/>
<path d="M420.75,496.38 C420.77,496.18 420.91,495.85 421.11,495.59 C421.3,495.34 421.58,495.07 421.92,494.84 C422.26,494.62 422.71,494.44 423.15,494.23 C423.58,494.03 424.07,493.85 424.51,493.62 C424.94,493.39 425.43,493.09 425.73,492.87 C426.02,492.66 426.09,492.45 426.27,492.33 C426.45,492.2 426.64,492.12 426.82,492.12 C427,492.12 427.25,492.18 427.36,492.33 C427.47,492.48 427.41,492.76 427.5,493.01 C427.59,493.26 427.81,493.57 427.91,493.82 C428,494.07 428.06,494.28 428.04,494.5 C428.02,494.73 427.86,494.91 427.77,495.18 C427.68,495.46 427.59,495.84 427.5,496.14 C427.41,496.43 427.36,496.78 427.23,496.95 C427.09,497.12 427.07,497.11 426.68,497.16 C426.3,497.2 425.55,497.22 424.91,497.22 C424.28,497.22 423.42,497.19 422.87,497.16 C422.33,497.13 421.97,497.1 421.65,497.05 C421.33,496.99 421.12,496.93 420.97,496.82 C420.82,496.7 420.73,496.58 420.75,496.38Z" fill="#717ec3"/>
<path d="M421.3,496.33 C421.32,496.15 421.44,495.87 421.61,495.65 C421.78,495.42 422.02,495.19 422.32,495 C422.61,494.8 423,494.64 423.38,494.47 C423.75,494.29 424.18,494.13 424.56,493.94 C424.93,493.74 425.36,493.47 425.62,493.29 C425.88,493.1 425.93,492.92 426.09,492.81 C426.25,492.71 426.41,492.64 426.56,492.64 C426.72,492.64 426.94,492.69 427.04,492.81 C427.13,492.94 427.08,493.19 427.15,493.4 C427.23,493.62 427.43,493.9 427.51,494.11 C427.59,494.33 427.65,494.51 427.63,494.7 C427.61,494.9 427.47,495.06 427.39,495.29 C427.31,495.53 427.23,495.86 427.15,496.12 C427.08,496.37 427.04,496.68 426.92,496.83 C426.8,496.97 426.78,496.96 426.45,497 C426.11,497.04 425.46,497.06 424.91,497.06 C424.36,497.06 423.61,497.03 423.14,497 C422.67,496.98 422.36,496.96 422.08,496.91 C421.8,496.86 421.62,496.8 421.49,496.71 C421.36,496.61 421.28,496.51 421.3,496.33Z" fill="#5664b6"/>
<path d="M421.85,496.28 C421.87,496.13 421.97,495.89 422.11,495.7 C422.25,495.51 422.46,495.32 422.71,495.15 C422.96,494.98 423.29,494.85 423.61,494.7 C423.93,494.55 424.29,494.42 424.61,494.25 C424.93,494.08 425.29,493.86 425.51,493.7 C425.73,493.54 425.78,493.39 425.91,493.3 C426.04,493.21 426.18,493.15 426.31,493.15 C426.44,493.15 426.63,493.19 426.71,493.3 C426.79,493.41 426.74,493.62 426.81,493.8 C426.88,493.98 427.04,494.22 427.11,494.4 C427.18,494.58 427.23,494.73 427.21,494.9 C427.19,495.07 427.08,495.2 427.01,495.4 C426.94,495.6 426.88,495.88 426.81,496.1 C426.74,496.32 426.71,496.57 426.61,496.7 C426.51,496.82 426.49,496.82 426.21,496.85 C425.93,496.88 425.38,496.9 424.91,496.9 C424.44,496.9 423.81,496.87 423.41,496.85 C423.01,496.83 422.74,496.81 422.51,496.77 C422.28,496.73 422.12,496.68 422.01,496.6 C421.9,496.52 421.83,496.43 421.85,496.28Z" fill="#c3cae9"/>
<path d="M422.15,496.25 C422.17,496.12 422.26,495.9 422.39,495.73 C422.52,495.56 422.7,495.38 422.93,495.23 C423.15,495.08 423.45,494.96 423.74,494.83 C424.02,494.69 424.35,494.57 424.64,494.42 C424.92,494.27 425.25,494.07 425.45,493.93 C425.64,493.79 425.69,493.65 425.81,493.57 C425.93,493.49 426.05,493.43 426.17,493.43 C426.29,493.43 426.45,493.47 426.53,493.57 C426.6,493.67 426.56,493.85 426.62,494.02 C426.68,494.19 426.83,494.39 426.89,494.56 C426.95,494.72 426.99,494.86 426.98,495.01 C426.96,495.16 426.86,495.28 426.8,495.46 C426.74,495.64 426.68,495.89 426.62,496.09 C426.56,496.28 426.53,496.52 426.44,496.63 C426.35,496.74 426.33,496.74 426.08,496.76 C425.82,496.79 425.33,496.81 424.91,496.81 C424.49,496.81 423.92,496.78 423.56,496.76 C423.2,496.75 422.96,496.73 422.75,496.69 C422.54,496.66 422.4,496.61 422.3,496.54 C422.2,496.47 422.14,496.39 422.15,496.25Z" fill="#a8b1dc"/>
<path d="M422.46,496.22 C422.47,496.1 422.55,495.91 422.67,495.76 C422.78,495.61 422.95,495.45 423.15,495.32 C423.35,495.19 423.61,495.08 423.87,494.96 C424.12,494.84 424.41,494.73 424.67,494.6 C424.92,494.47 425.21,494.29 425.39,494.16 C425.56,494.03 425.6,493.91 425.71,493.84 C425.81,493.77 425.92,493.72 426.03,493.72 C426.13,493.72 426.28,493.75 426.35,493.84 C426.41,493.93 426.37,494.09 426.43,494.24 C426.48,494.39 426.61,494.57 426.67,494.72 C426.72,494.87 426.76,494.99 426.75,495.12 C426.73,495.25 426.64,495.36 426.59,495.52 C426.53,495.68 426.48,495.91 426.43,496.08 C426.37,496.25 426.35,496.46 426.27,496.56 C426.19,496.66 426.17,496.65 425.95,496.68 C425.72,496.71 425.28,496.72 424.91,496.72 C424.53,496.72 424.03,496.7 423.71,496.68 C423.39,496.66 423.17,496.65 422.99,496.62 C422.8,496.58 422.68,496.55 422.59,496.48 C422.5,496.41 422.45,496.34 422.46,496.22Z" fill="#8d97cf"/>
<path d="M422.76,496.2 C422.78,496.09 422.85,495.92 422.95,495.79 C423.05,495.66 423.19,495.52 423.37,495.4 C423.54,495.29 423.78,495.19 424,495.09 C424.22,494.98 424.48,494.89 424.7,494.77 C424.92,494.66 425.18,494.5 425.33,494.39 C425.48,494.28 425.51,494.17 425.61,494.11 C425.7,494.05 425.79,494 425.89,494 C425.98,494 426.11,494.03 426.17,494.11 C426.23,494.19 426.19,494.33 426.24,494.46 C426.28,494.59 426.4,494.75 426.45,494.88 C426.49,495.01 426.53,495.11 426.52,495.23 C426.51,495.35 426.42,495.44 426.38,495.58 C426.33,495.72 426.28,495.92 426.24,496.07 C426.19,496.22 426.17,496.4 426.1,496.49 C426.03,496.58 426.02,496.57 425.82,496.59 C425.62,496.62 425.23,496.63 424.91,496.63 C424.58,496.63 424.14,496.61 423.86,496.59 C423.58,496.58 423.39,496.57 423.23,496.54 C423.06,496.51 422.95,496.48 422.88,496.42 C422.8,496.36 422.75,496.3 422.76,496.2Z" fill="#717ec3"/>
<path d="M423.07,496.17 C423.08,496.08 423.14,495.93 423.23,495.82 C423.31,495.71 423.44,495.59 423.59,495.49 C423.74,495.39 423.94,495.31 424.13,495.22 C424.32,495.13 424.54,495.05 424.73,494.95 C424.92,494.85 425.14,494.72 425.27,494.62 C425.4,494.52 425.43,494.44 425.51,494.38 C425.59,494.32 425.67,494.29 425.75,494.29 C425.83,494.29 425.94,494.31 425.99,494.38 C426.04,494.44 426.01,494.57 426.05,494.68 C426.09,494.79 426.19,494.93 426.23,495.04 C426.27,495.15 426.3,495.24 426.29,495.34 C426.28,495.44 426.21,495.52 426.17,495.64 C426.13,495.76 426.09,495.93 426.05,496.06 C426.01,496.19 425.99,496.35 425.93,496.42 C425.87,496.5 425.86,496.49 425.69,496.51 C425.52,496.53 425.19,496.54 424.91,496.54 C424.63,496.54 424.25,496.52 424.01,496.51 C423.77,496.5 423.61,496.49 423.47,496.46 C423.33,496.44 423.23,496.41 423.17,496.36 C423.1,496.31 423.06,496.26 423.07,496.17Z" fill="#5664b6"/>
<path d="M409.65,497.4 C409.73,496.65 410.23,495.44 410.95,494.5 C411.67,493.56 412.7,492.58 413.95,491.75 C415.2,490.92 416.87,490.25 418.45,489.5 C420.03,488.75 421.87,488.08 423.45,487.25 C425.03,486.42 426.87,485.29 427.95,484.5 C429.03,483.71 429.28,482.96 429.95,482.5 C430.62,482.04 431.28,481.75 431.95,481.75 C432.62,481.75 433.53,481.96 433.95,482.5 C434.37,483.04 434.12,484.08 434.45,485 C434.78,485.92 435.62,487.08 435.95,488 C436.28,488.92 436.53,489.67 436.45,490.5 C436.37,491.33 435.78,492 435.45,493 C435.12,494 434.78,495.42 434.45,496.5 C434.12,497.58 433.95,498.88 433.45,499.5 C432.95,500.12 432.87,500.08 431.45,500.25 C430.03,500.42 427.28,500.5 424.95,500.5 C422.62,500.5 419.45,500.36 417.45,500.25 C415.45,500.14 414.12,500.06 412.95,499.85 C411.78,499.64 411,499.41 410.45,499 C409.9,498.59 409.57,498.15 409.65,497.4Z" fill="#c3cae9" stroke="#fff" stroke-width="0.75"/>
<path d="M410.87,497.29 C410.95,496.6 411.41,495.49 412.07,494.62 C412.73,493.75 413.68,492.86 414.83,492.09 C415.98,491.32 417.51,490.71 418.97,490.02 C420.42,489.33 422.11,488.72 423.57,487.95 C425.02,487.18 426.71,486.15 427.71,485.42 C428.7,484.69 428.93,484 429.55,483.58 C430.16,483.16 430.77,482.89 431.39,482.89 C432,482.89 432.84,483.08 433.23,483.58 C433.61,484.08 433.38,485.04 433.69,485.88 C433.99,486.72 434.76,487.8 435.07,488.64 C435.37,489.48 435.6,490.17 435.53,490.94 C435.45,491.71 434.91,492.32 434.61,493.24 C434.3,494.16 433.99,495.46 433.69,496.46 C433.38,497.46 433.23,498.64 432.77,499.22 C432.31,499.79 432.23,499.76 430.93,499.91 C429.62,500.06 427.09,500.14 424.95,500.14 C422.8,500.14 419.89,500.01 418.05,499.91 C416.21,499.81 414.98,499.73 413.91,499.54 C412.83,499.35 412.11,499.14 411.61,498.76 C411.1,498.38 410.79,497.98 410.87,497.29Z" fill="#a8b1dc"/>
<path d="M412.09,497.18 C412.16,496.55 412.58,495.53 413.18,494.74 C413.78,493.95 414.65,493.13 415.7,492.43 C416.75,491.73 418.15,491.17 419.48,490.54 C420.81,489.91 422.35,489.35 423.68,488.65 C425.01,487.95 426.55,487 427.46,486.34 C428.37,485.67 428.58,485.04 429.14,484.66 C429.7,484.27 430.26,484.03 430.82,484.03 C431.38,484.03 432.15,484.2 432.5,484.66 C432.85,485.11 432.64,485.99 432.92,486.76 C433.2,487.53 433.9,488.51 434.18,489.28 C434.46,490.05 434.67,490.68 434.6,491.38 C434.53,492.08 434.04,492.64 433.76,493.48 C433.48,494.32 433.2,495.51 432.92,496.42 C432.64,497.33 432.5,498.41 432.08,498.94 C431.66,499.46 431.59,499.43 430.4,499.57 C429.21,499.71 426.9,499.78 424.94,499.78 C422.98,499.78 420.32,499.66 418.64,499.57 C416.96,499.48 415.84,499.41 414.86,499.23 C413.88,499.06 413.22,498.86 412.76,498.52 C412.3,498.18 412.02,497.81 412.09,497.18Z" fill="#8d97cf"/>
<path d="M413.31,497.06 C413.37,496.49 413.75,495.58 414.3,494.86 C414.84,494.14 415.63,493.4 416.58,492.77 C417.53,492.14 418.79,491.63 420,491.06 C421.2,490.49 422.59,489.98 423.8,489.35 C425,488.72 426.39,487.86 427.22,487.26 C428.04,486.66 428.23,486.09 428.74,485.74 C429.24,485.39 429.75,485.17 430.26,485.17 C430.76,485.17 431.46,485.33 431.78,485.74 C432.09,486.15 431.9,486.94 432.16,487.64 C432.41,488.34 433.04,489.22 433.3,489.92 C433.55,490.62 433.74,491.19 433.68,491.82 C433.61,492.45 433.17,492.96 432.92,493.72 C432.66,494.48 432.41,495.56 432.16,496.38 C431.9,497.2 431.78,498.19 431.4,498.66 C431.02,499.14 430.95,499.1 429.88,499.23 C428.8,499.36 426.71,499.42 424.94,499.42 C423.16,499.42 420.76,499.31 419.24,499.23 C417.72,499.15 416.7,499.08 415.82,498.93 C414.93,498.77 414.34,498.59 413.92,498.28 C413.5,497.97 413.25,497.63 413.31,497.06Z" fill="#717ec3"/>
<path d="M414.53,496.95 C414.59,496.44 414.93,495.62 415.41,494.98 C415.9,494.34 416.6,493.68 417.45,493.11 C418.3,492.54 419.44,492.09 420.51,491.58 C421.59,491.07 422.84,490.62 423.91,490.05 C424.99,489.48 426.24,488.72 426.97,488.18 C427.71,487.64 427.88,487.13 428.33,486.82 C428.79,486.51 429.24,486.31 429.69,486.31 C430.15,486.31 430.77,486.45 431.05,486.82 C431.34,487.19 431.17,487.9 431.39,488.52 C431.62,489.14 432.19,489.94 432.41,490.56 C432.64,491.18 432.81,491.69 432.75,492.26 C432.7,492.83 432.3,493.28 432.07,493.96 C431.85,494.64 431.62,495.6 431.39,496.34 C431.17,497.08 431.05,497.95 430.71,498.38 C430.37,498.81 430.32,498.78 429.35,498.89 C428.39,499 426.52,499.06 424.93,499.06 C423.35,499.06 421.19,498.96 419.83,498.89 C418.47,498.82 417.57,498.76 416.77,498.62 C415.98,498.48 415.45,498.32 415.07,498.04 C414.7,497.76 414.47,497.46 414.53,496.95Z" fill="#5664b6"/>
<path d="M415.75,496.84 C415.8,496.39 416.1,495.66 416.53,495.1 C416.96,494.53 417.58,493.95 418.33,493.45 C419.08,492.95 420.08,492.55 421.03,492.1 C421.98,491.65 423.08,491.25 424.03,490.75 C424.98,490.25 426.08,489.57 426.73,489.1 C427.38,488.62 427.53,488.17 427.93,487.9 C428.33,487.62 428.73,487.45 429.13,487.45 C429.53,487.45 430.08,487.57 430.33,487.9 C430.58,488.22 430.43,488.85 430.63,489.4 C430.83,489.95 431.33,490.65 431.53,491.2 C431.73,491.75 431.88,492.2 431.83,492.7 C431.78,493.2 431.43,493.6 431.23,494.2 C431.03,494.8 430.83,495.65 430.63,496.3 C430.43,496.95 430.33,497.72 430.03,498.1 C429.73,498.47 429.68,498.45 428.83,498.55 C427.98,498.65 426.33,498.7 424.93,498.7 C423.53,498.7 421.63,498.61 420.43,498.55 C419.23,498.48 418.43,498.44 417.73,498.31 C417.03,498.19 416.56,498.04 416.23,497.8 C415.9,497.55 415.7,497.29 415.75,496.84Z" fill="#c3cae9" stroke="#fff" stroke-width="0.75"/>
<path d="M416.42,496.78 C416.47,496.36 416.75,495.69 417.14,495.17 C417.54,494.64 418.12,494.1 418.81,493.64 C419.51,493.17 420.43,492.8 421.31,492.39 C422.19,491.97 423.21,491.6 424.09,491.13 C424.97,490.67 425.99,490.05 426.6,489.61 C427.2,489.17 427.34,488.75 427.71,488.49 C428.08,488.24 428.45,488.08 428.82,488.08 C429.19,488.08 429.7,488.19 429.93,488.49 C430.16,488.8 430.02,489.37 430.21,489.88 C430.4,490.39 430.86,491.04 431.04,491.55 C431.23,492.06 431.37,492.48 431.32,492.94 C431.28,493.41 430.95,493.78 430.77,494.33 C430.58,494.89 430.4,495.68 430.21,496.28 C430.02,496.88 429.93,497.6 429.65,497.95 C429.38,498.29 429.33,498.27 428.54,498.36 C427.75,498.46 426.23,498.5 424.93,498.5 C423.63,498.5 421.87,498.42 420.76,498.36 C419.65,498.3 418.9,498.26 418.26,498.14 C417.61,498.02 417.17,497.9 416.87,497.67 C416.56,497.44 416.37,497.2 416.42,496.78Z" fill="#a8b1dc"/>
<path d="M417.09,496.72 C417.13,496.33 417.39,495.71 417.76,495.23 C418.12,494.75 418.65,494.25 419.29,493.82 C419.93,493.4 420.79,493.06 421.6,492.67 C422.41,492.29 423.35,491.95 424.16,491.52 C424.97,491.09 425.91,490.52 426.46,490.11 C427.02,489.71 427.14,489.32 427.49,489.09 C427.83,488.85 428.17,488.7 428.51,488.7 C428.85,488.7 429.32,488.81 429.53,489.09 C429.75,489.37 429.62,489.9 429.79,490.37 C429.96,490.84 430.39,491.43 430.56,491.9 C430.73,492.37 430.86,492.76 430.81,493.18 C430.77,493.61 430.47,493.95 430.3,494.46 C430.13,494.98 429.96,495.7 429.79,496.26 C429.62,496.81 429.53,497.47 429.28,497.79 C429.02,498.11 428.98,498.09 428.25,498.18 C427.53,498.26 426.12,498.3 424.93,498.3 C423.73,498.3 422.11,498.23 421.09,498.18 C420.06,498.12 419.38,498.08 418.78,497.97 C418.18,497.86 417.78,497.75 417.5,497.54 C417.22,497.33 417.05,497.1 417.09,496.72Z" fill="#8d97cf"/>
<path d="M417.76,496.66 C417.8,496.3 418.04,495.74 418.37,495.3 C418.71,494.86 419.19,494.4 419.78,494.01 C420.36,493.62 421.14,493.31 421.88,492.96 C422.62,492.61 423.48,492.29 424.22,491.9 C424.96,491.51 425.82,490.99 426.33,490.62 C426.83,490.25 426.95,489.9 427.26,489.68 C427.58,489.47 427.89,489.33 428.2,489.33 C428.51,489.33 428.94,489.43 429.14,489.68 C429.33,489.94 429.21,490.42 429.37,490.85 C429.53,491.28 429.92,491.83 430.07,492.26 C430.23,492.68 430.34,493.04 430.31,493.43 C430.27,493.82 429.99,494.13 429.84,494.6 C429.68,495.06 429.53,495.73 429.37,496.23 C429.21,496.74 429.14,497.35 428.9,497.64 C428.67,497.93 428.63,497.91 427.97,497.99 C427.3,498.07 426.02,498.11 424.92,498.11 C423.83,498.11 422.35,498.04 421.41,497.99 C420.48,497.94 419.85,497.9 419.31,497.8 C418.76,497.7 418.39,497.6 418.14,497.4 C417.88,497.21 417.72,497.01 417.76,496.66Z" fill="#717ec3"/>
<path d="M418.43,496.59 C418.47,496.28 418.68,495.76 418.99,495.36 C419.29,494.96 419.73,494.55 420.26,494.2 C420.79,493.84 421.49,493.56 422.17,493.24 C422.84,492.93 423.61,492.64 424.29,492.29 C424.96,491.94 425.73,491.46 426.19,491.12 C426.65,490.79 426.76,490.47 427.04,490.28 C427.32,490.08 427.61,489.96 427.89,489.96 C428.17,489.96 428.56,490.05 428.74,490.28 C428.91,490.51 428.81,490.95 428.95,491.34 C429.09,491.72 429.44,492.22 429.59,492.61 C429.73,493 429.83,493.31 429.8,493.67 C429.76,494.02 429.51,494.3 429.37,494.73 C429.23,495.15 429.09,495.75 428.95,496.21 C428.81,496.67 428.74,497.22 428.53,497.48 C428.31,497.75 428.28,497.73 427.68,497.8 C427.08,497.87 425.91,497.91 424.92,497.91 C423.93,497.91 422.59,497.85 421.74,497.8 C420.89,497.76 420.33,497.72 419.83,497.63 C419.34,497.54 419.01,497.45 418.77,497.27 C418.54,497.1 418.4,496.91 418.43,496.59Z" fill="#5664b6"/>
<path d="M419.1,496.53 C419.14,496.25 419.33,495.79 419.6,495.43 C419.87,495.07 420.26,494.7 420.74,494.38 C421.21,494.07 421.85,493.81 422.45,493.53 C423.05,493.24 423.75,492.99 424.35,492.67 C424.95,492.36 425.65,491.93 426.06,491.63 C426.47,491.33 426.57,491.04 426.82,490.87 C427.07,490.7 427.33,490.58 427.58,490.58 C427.83,490.58 428.18,490.66 428.34,490.87 C428.5,491.08 428.4,491.47 428.53,491.82 C428.66,492.17 428.97,492.61 429.1,492.96 C429.23,493.31 429.32,493.59 429.29,493.91 C429.26,494.23 429.04,494.48 428.91,494.86 C428.78,495.24 428.66,495.78 428.53,496.19 C428.4,496.6 428.34,497.09 428.15,497.33 C427.96,497.57 427.93,497.55 427.39,497.61 C426.85,497.68 425.81,497.71 424.92,497.71 C424.03,497.71 422.83,497.66 422.07,497.61 C421.31,497.57 420.8,497.54 420.36,497.46 C419.92,497.38 419.62,497.3 419.41,497.14 C419.2,496.98 419.07,496.82 419.1,496.53Z" fill="#c3cae9" stroke="#fff" stroke-width="0.75"/>
<path d="M419.65,496.48 C419.68,496.22 419.85,495.81 420.1,495.48 C420.35,495.16 420.7,494.82 421.13,494.54 C421.56,494.25 422.14,494.02 422.68,493.76 C423.23,493.51 423.86,493.28 424.4,492.99 C424.95,492.7 425.58,492.32 425.95,492.04 C426.32,491.77 426.41,491.51 426.64,491.36 C426.87,491.2 427.1,491.1 427.33,491.1 C427.55,491.1 427.87,491.17 428.01,491.36 C428.16,491.54 428.07,491.9 428.19,492.22 C428.3,492.53 428.59,492.93 428.7,493.25 C428.82,493.56 428.9,493.82 428.87,494.11 C428.84,494.39 428.64,494.62 428.53,494.97 C428.41,495.31 428.3,495.8 428.19,496.17 C428.07,496.54 428.01,496.99 427.84,497.2 C427.67,497.42 427.64,497.4 427.15,497.46 C426.67,497.52 425.72,497.55 424.92,497.55 C424.11,497.55 423.03,497.5 422.34,497.46 C421.65,497.42 421.19,497.4 420.79,497.32 C420.39,497.25 420.12,497.17 419.93,497.03 C419.74,496.89 419.63,496.74 419.65,496.48Z" fill="#a8b1dc"/>
<path d="M420.2,496.43 C420.23,496.2 420.38,495.83 420.6,495.54 C420.82,495.25 421.14,494.95 421.53,494.69 C421.91,494.43 422.43,494.23 422.91,494 C423.4,493.77 423.97,493.56 424.45,493.3 C424.94,493.05 425.51,492.7 425.84,492.46 C426.17,492.21 426.25,491.98 426.46,491.84 C426.66,491.7 426.87,491.61 427.07,491.61 C427.28,491.61 427.56,491.68 427.69,491.84 C427.82,492.01 427.74,492.33 427.84,492.61 C427.94,492.89 428.2,493.25 428.3,493.54 C428.41,493.82 428.48,494.05 428.46,494.31 C428.43,494.56 428.25,494.77 428.15,495.08 C428.05,495.38 427.94,495.82 427.84,496.15 C427.74,496.49 427.69,496.89 427.53,497.08 C427.38,497.27 427.35,497.26 426.92,497.31 C426.48,497.36 425.63,497.39 424.92,497.39 C424.2,497.39 423.22,497.34 422.61,497.31 C421.99,497.28 421.58,497.25 421.22,497.19 C420.86,497.12 420.62,497.05 420.45,496.92 C420.28,496.8 420.18,496.66 420.2,496.43Z" fill="#8d97cf"/>
<path d="M420.75,496.38 C420.77,496.18 420.91,495.85 421.11,495.59 C421.3,495.34 421.58,495.07 421.92,494.84 C422.26,494.62 422.71,494.44 423.15,494.23 C423.58,494.03 424.07,493.85 424.51,493.62 C424.94,493.39 425.43,493.09 425.73,492.87 C426.02,492.66 426.09,492.45 426.27,492.33 C426.45,492.2 426.64,492.12 426.82,492.12 C427,492.12 427.25,492.18 427.36,492.33 C427.47,492.48 427.41,492.76 427.5,493.01 C427.59,493.26 427.81,493.57 427.91,493.82 C428,494.07 428.06,494.28 428.04,494.5 C428.02,494.73 427.86,494.91 427.77,495.18 C427.68,495.46 427.59,495.84 427.5,496.14 C427.41,496.43 427.36,496.78 427.23,496.95 C427.09,497.12 427.07,497.11 426.68,497.16 C426.3,497.2 425.55,497.22 424.91,497.22 C424.28,497.22 423.42,497.19 422.87,497.16 C422.33,497.13 421.97,497.1 421.65,497.05 C421.33,496.99 421.12,496.93 420.97,496.82 C420.82,496.7 420.73,496.58 420.75,496.38Z" fill="#717ec3"/>
<path d="M421.3,496.33 C421.32,496.15 421.44,495.87 421.61,495.65 C421.78,495.42 422.02,495.19 422.32,495 C422.61,494.8 423,494.64 423.38,494.47 C423.75,494.29 424.18,494.13 424.56,493.94 C424.93,493.74 425.36,493.47 425.62,493.29 C425.88,493.1 425.93,492.92 426.09,492.81 C426.25,492.71 426.41,492.64 426.56,492.64 C426.72,492.64 426.94,492.69 427.04,492.81 C427.13,492.94 427.08,493.19 427.15,493.4 C427.23,493.62 427.43,493.9 427.51,494.11 C427.59,494.33 427.65,494.51 427.63,494.7 C427.61,494.9 427.47,495.06 427.39,495.29 C427.31,495.53 427.23,495.86 427.15,496.12 C427.08,496.37 427.04,496.68 426.92,496.83 C426.8,496.97 426.78,496.96 426.45,497 C426.11,497.04 425.46,497.06 424.91,497.06 C424.36,497.06 423.61,497.03 423.14,497 C422.67,496.98 422.36,496.96 422.08,496.91 C421.8,496.86 421.62,496.8 421.49,496.71 C421.36,496.61 421.28,496.51 421.3,496.33Z" fill="#5664b6"/>
<path d="M421.85,496.28 C421.87,496.13 421.97,495.89 422.11,495.7 C422.25,495.51 422.46,495.32 422.71,495.15 C422.96,494.98 423.29,494.85 423.61,494.7 C423.93,494.55 424.29,494.42 424.61,494.25 C424.93,494.08 425.29,493.86 425.51,493.7 C425.73,493.54 425.78,493.39 425.91,493.3 C426.04,493.21 426.18,493.15 426.31,493.15 C426.44,493.15 426.63,493.19 426.71,493.3 C426.79,493.41 426.74,493.62 426.81,493.8 C426.88,493.98 427.04,494.22 427.11,494.4 C427.18,494.58 427.23,494.73 427.21,494.9 C427.19,495.07 427.08,495.2 427.01,495.4 C426.94,495.6 426.88,495.88 426.81,496.1 C426.74,496.32 426.71,496.57 426.61,496.7 C426.51,496.82 426.49,496.82 426.21,496.85 C425.93,496.88 425.38,496.9 424.91,496.9 C424.44,496.9 423.81,496.87 423.41,496.85 C423.01,496.83 422.74,496.81 422.51,496.77 C422.28,496.73 422.12,496.68 422.01,496.6 C421.9,496.52 421.83,496.43 421.85,496.28Z" fill="#c3cae9" stroke="#fff" stroke-width="0.75"/>
<path d="M422.15,496.25 C422.17,496.12 422.26,495.9 422.39,495.73 C422.52,495.56 422.7,495.38 422.93,495.23 C423.15,495.08 423.45,494.96 423.74,494.83 C424.02,494.69 424.35,494.57 424.64,494.42 C424.92,494.27 425.25,494.07 425.45,493.93 C425.64,493.79 425.69,493.65 425.81,493.57 C425.93,493.49 426.05,493.43 426.17,493.43 C426.29,493.43 426.45,493.47 426.53,493.57 C426.6,493.67 426.56,493.85 426.62,494.02 C426.68,494.19 426.83,494.39 426.89,494.56 C426.95,494.72 426.99,494.86 426.98,495.01 C426.96,495.16 426.86,495.28 426.8,495.46 C426.74,495.64 426.68,495.89 426.62,496.09 C426.56,496.28 426.53,496.52 426.44,496.63 C426.35,496.74 426.33,496.74 426.08,496.76 C425.82,496.79 425.33,496.81 424.91,496.81 C424.49,496.81 423.92,496.78 423.56,496.76 C423.2,496.75 422.96,496.73 422.75,496.69 C422.54,496.66 422.4,496.61 422.3,496.54 C422.2,496.47 422.14,496.39 422.15,496.25Z" fill="#a8b1dc"/>
<path d="M422.46,496.22 C422.47,496.1 422.55,495.91 422.67,495.76 C422.78,495.61 422.95,495.45 423.15,495.32 C423.35,495.19 423.61,495.08 423.87,494.96 C424.12,494.84 424.41,494.73 424.67,494.6 C424.92,494.47 425.21,494.29 425.39,494.16 C425.56,494.03 425.6,493.91 425.71,493.84 C425.81,493.77 425.92,493.72 426.03,493.72 C426.13,493.72 426.28,493.75 426.35,493.84 C426.41,493.93 426.37,494.09 426.43,494.24 C426.48,494.39 426.61,494.57 426.67,494.72 C426.72,494.87 426.76,494.99 426.75,495.12 C426.73,495.25 426.64,495.36 426.59,495.52 C426.53,495.68 426.48,495.91 426.43,496.08 C426.37,496.25 426.35,496.46 426.27,496.56 C426.19,496.66 426.17,496.65 425.95,496.68 C425.72,496.71 425.28,496.72 424.91,496.72 C424.53,496.72 424.03,496.7 423.71,496.68 C423.39,496.66 423.17,496.65 422.99,496.62 C422.8,496.58 422.68,496.55 422.59,496.48 C422.5,496.41 422.45,496.34 422.46,496.22Z" fill="#8d97cf"/>
<path d="M422.76,496.2 C422.78,496.09 422.85,495.92 422.95,495.79 C423.05,495.66 423.19,495.52 423.37,495.4 C423.54,495.29 423.78,495.19 424,495.09 C424.22,494.98 424.48,494.89 424.7,494.77 C424.92,494.66 425.18,494.5 425.33,494.39 C425.48,494.28 425.51,494.17 425.61,494.11 C425.7,494.05 425.79,494 425.89,494 C425.98,494 426.11,494.03 426.17,494.11 C426.23,494.19 426.19,494.33 426.24,494.46 C426.28,494.59 426.4,494.75 426.45,494.88 C426.49,495.01 426.53,495.11 426.52,495.23 C426.51,495.35 426.42,495.44 426.38,495.58 C426.33,495.72 426.28,495.92 426.24,496.07 C426.19,496.22 426.17,496.4 426.1,496.49 C426.03,496.58 426.02,496.57 425.82,496.59 C425.62,496.62 425.23,496.63 424.91,496.63 C424.58,496.63 424.14,496.61 423.86,496.59 C423.58,496.58 423.39,496.57 423.23,496.54 C423.06,496.51 422.95,496.48 422.88,496.42 C422.8,496.36 422.75,496.3 422.76,496.2Z" fill="#717ec3"/>
<path d="M423.07,496.17 C423.08,496.08 423.14,495.93 423.23,495.82 C423.31,495.71 423.44,495.59 423.59,495.49 C423.74,495.39 423.94,495.31 424.13,495.22 C424.32,495.13 424.54,495.05 424.73,494.95 C424.92,494.85 425.14,494.72 425.27,494.62 C425.4,494.52 425.43,494.44 425.51,494.38 C425.59,494.32 425.67,494.29 425.75,494.29 C425.83,494.29 425.94,494.31 425.99,494.38 C426.04,494.44 426.01,494.57 426.05,494.68 C426.09,494.79 426.19,494.93 426.23,495.04 C426.27,495.15 426.3,495.24 426.29,495.34 C426.28,495.44 426.21,495.52 426.17,495.64 C426.13,495.76 426.09,495.93 426.05,496.06 C426.01,496.19 425.99,496.35 425.93,496.42 C425.87,496.5 425.86,496.49 425.69,496.51 C425.52,496.53 425.19,496.54 424.91,496.54 C424.63,496.54 424.25,496.52 424.01,496.51 C423.77,496.5 423.61,496.49 423.47,496.46 C423.33,496.44 423.23,496.41 423.17,496.36 C423.1,496.31 423.06,496.26 423.07,496.17Z" fill="#5664b6"/>
<path d="M423.38,496.14 C423.38,496.06 423.43,495.94 423.5,495.85 C423.58,495.76 423.68,495.66 423.81,495.57 C423.93,495.49 424.1,495.43 424.25,495.35 C424.41,495.28 424.6,495.21 424.75,495.12 C424.91,495.04 425.1,494.93 425.2,494.85 C425.31,494.77 425.34,494.7 425.4,494.65 C425.47,494.6 425.54,494.57 425.61,494.57 C425.67,494.57 425.76,494.6 425.81,494.65 C425.85,494.7 425.82,494.81 425.86,494.9 C425.89,494.99 425.97,495.11 426,495.2 C426.04,495.29 426.06,495.37 426.06,495.45 C426.05,495.53 425.99,495.6 425.95,495.7 C425.92,495.8 425.89,495.94 425.86,496.05 C425.82,496.16 425.81,496.29 425.75,496.35 C425.7,496.41 425.7,496.41 425.56,496.43 C425.41,496.44 425.14,496.45 424.9,496.45 C424.67,496.45 424.35,496.44 424.15,496.43 C423.95,496.41 423.82,496.41 423.7,496.38 C423.59,496.36 423.51,496.34 423.45,496.3 C423.4,496.26 423.37,496.21 423.38,496.14Z" fill="#34449f" stroke="#fff" stroke-width="0.75"/>
<path d="M431.5,471.5 C431.33,470.57 434.17,468.45 435.5,467.6 C436.83,466.75 438.22,466.4 439.5,466.4 C440.78,466.4 442.35,466.75 443.2,467.6 C444.05,468.45 444,470.02 444.6,471.5 C445.2,472.98 446.13,474.67 446.8,476.5 C447.47,478.33 448.73,481 448.6,482.5 C448.47,484 446.85,485.83 446,485.5 C445.15,485.17 444.42,482.12 443.5,480.5 C442.58,478.88 441.67,477.02 440.5,475.8 C439.33,474.58 438,473.92 436.5,473.2 C435,472.48 431.67,472.43 431.5,471.5Z" fill="#2a3f9c"/>
<ellipse cx="453.5" cy="495.7" rx="5.3" ry="2.4" fill="#2a3f9c"/>
<ellipse cx="460.5" cy="491.5" rx="1.2" ry="0.9" fill="#2a3f9c"/>
<path d="M489.9,496.6 C490.07,494.77 491.32,491.93 493,490 C494.68,488.07 497.17,486.58 500,485 C502.83,483.42 506.67,482.17 510,480.5 C513.33,478.83 517,476.67 520,475 C523,473.33 525.67,471.63 528,470.5 C530.33,469.37 532.33,468.45 534,468.2 C535.67,467.95 536.83,468.03 538,469 C539.17,469.97 540.17,472.33 541,474 C541.83,475.67 542.33,477.17 543,479 C543.67,480.83 544.17,483.83 545,485 C545.83,486.17 546.17,486.67 548,486 C549.83,485.33 553.5,482.5 556,481 C558.5,479.5 561,477.83 563,477 C565,476.17 566.92,475.67 568,476 C569.08,476.33 569.42,477.83 569.5,479 C569.58,480.17 569.58,481.17 568.5,483 C567.42,484.83 564.92,487.75 563,490 C561.08,492.25 559.17,495.5 557,496.5 C554.83,497.5 552,496.17 550,496 C548,495.83 546.67,494.67 545,495.5 C543.33,496.33 541.92,499.55 540,501 C538.08,502.45 536.83,503.62 533.5,504.2 C530.17,504.78 524.75,504.53 520,504.5 C515.25,504.47 508.52,504.17 505,504 C501.48,503.83 501.07,504 498.9,503.5 C496.73,503 493.5,502.15 492,501 C490.5,499.85 489.73,498.43 489.9,496.6Z" fill="#f3c4c2" stroke="#e4262b" stroke-width="2.1" stroke-linejoin="round"/>
<path d="M489.9,496.6 C490.07,494.77 491.32,491.93 493,490 C494.68,488.07 497.17,486.58 500,485 C502.83,483.42 506.67,482.17 510,480.5 C513.33,478.83 517,476.67 520,475 C523,473.33 525.67,471.63 528,470.5 C530.33,469.37 532.33,468.45 534,468.2 C535.67,467.95 536.83,468.03 538,469 C539.17,469.97 540.17,472.33 541,474 C541.83,475.67 542.33,476.83 543,479 C543.67,481.17 544.83,484.17 545,487 C545.17,489.83 544.83,493.67 544,496 C543.17,498.33 541.75,499.63 540,501 C538.25,502.37 536.83,503.62 533.5,504.2 C530.17,504.78 524.75,504.53 520,504.5 C515.25,504.47 508.52,504.17 505,504 C501.48,503.83 501.07,504 498.9,503.5 C496.73,503 493.5,502.15 492,501 C490.5,499.85 489.73,498.43 489.9,496.6Z" fill="#fbe2e1" stroke="#e4262b" stroke-width="2.1" stroke-linejoin="round"/>
<path d="M493.07,496.42 C493.22,494.77 494.35,492.22 495.86,490.48 C497.38,488.74 499.61,487.41 502.16,485.98 C504.71,484.56 508.16,483.43 511.16,481.93 C514.16,480.43 517.46,478.48 520.16,476.98 C522.86,475.48 525.26,473.95 527.36,472.93 C529.46,471.91 531.26,471.09 532.76,470.86 C534.26,470.63 535.31,470.71 536.36,471.58 C537.41,472.45 538.31,474.58 539.06,476.08 C539.81,477.58 540.26,478.63 540.86,480.58 C541.46,482.53 542.51,485.23 542.66,487.78 C542.81,490.33 542.51,493.78 541.76,495.88 C541.01,497.98 539.74,499.15 538.16,500.38 C536.58,501.61 535.31,502.74 532.31,503.26 C529.31,503.78 524.43,503.56 520.16,503.53 C515.88,503.5 509.83,503.23 506.66,503.08 C503.5,502.93 503.12,503.08 501.17,502.63 C499.22,502.18 496.31,501.42 494.96,500.38 C493.61,499.35 492.92,498.07 493.07,496.42Z" fill="#f7c2c1"/>
<path d="M496.24,496.24 C496.37,494.77 497.37,492.51 498.72,490.96 C500.07,489.41 502.05,488.23 504.32,486.96 C506.59,485.69 509.65,484.69 512.32,483.36 C514.99,482.03 517.92,480.29 520.32,478.96 C522.72,477.63 524.85,476.27 526.72,475.36 C528.59,474.45 530.19,473.72 531.52,473.52 C532.85,473.32 533.79,473.39 534.72,474.16 C535.65,474.93 536.45,476.83 537.12,478.16 C537.79,479.49 538.19,480.43 538.72,482.16 C539.25,483.89 540.19,486.29 540.32,488.56 C540.45,490.83 540.19,493.89 539.52,495.76 C538.85,497.63 537.72,498.67 536.32,499.76 C534.92,500.85 533.79,501.85 531.12,502.32 C528.45,502.79 524.12,502.59 520.32,502.56 C516.52,502.53 511.13,502.29 508.32,502.16 C505.51,502.03 505.17,502.16 503.44,501.76 C501.71,501.36 499.12,500.68 497.92,499.76 C496.72,498.84 496.11,497.71 496.24,496.24Z" fill="#f3a2a0"/>
<path d="M499.41,496.06 C499.53,494.78 500.4,492.79 501.58,491.44 C502.76,490.09 504.5,489.05 506.48,487.94 C508.46,486.83 511.15,485.96 513.48,484.79 C515.81,483.62 518.38,482.11 520.48,480.94 C522.58,479.77 524.45,478.58 526.08,477.79 C527.71,477 529.11,476.36 530.28,476.18 C531.45,476 532.26,476.06 533.08,476.74 C533.9,477.42 534.6,479.07 535.18,480.24 C535.76,481.41 536.11,482.22 536.58,483.74 C537.05,485.26 537.86,487.36 537.98,489.34 C538.1,491.32 537.86,494.01 537.28,495.64 C536.7,497.27 535.71,498.18 534.48,499.14 C533.25,500.1 532.26,500.97 529.93,501.38 C527.6,501.79 523.81,501.61 520.48,501.59 C517.15,501.57 512.44,501.36 509.98,501.24 C507.52,501.12 507.23,501.24 505.71,500.89 C504.19,500.54 501.93,499.94 500.88,499.14 C499.83,498.33 499.29,497.34 499.41,496.06Z" fill="#f08380"/>
<path d="M502.58,495.88 C502.68,494.78 503.43,493.08 504.44,491.92 C505.45,490.76 506.94,489.87 508.64,488.92 C510.34,487.97 512.64,487.22 514.64,486.22 C516.64,485.22 518.84,483.92 520.64,482.92 C522.44,481.92 524.04,480.9 525.44,480.22 C526.84,479.54 528.04,478.99 529.04,478.84 C530.04,478.69 530.74,478.74 531.44,479.32 C532.14,479.9 532.74,481.32 533.24,482.32 C533.74,483.32 534.04,484.02 534.44,485.32 C534.84,486.62 535.54,488.42 535.64,490.12 C535.74,491.82 535.54,494.12 535.04,495.52 C534.54,496.92 533.69,497.7 532.64,498.52 C531.59,499.34 530.74,500.09 528.74,500.44 C526.74,500.79 523.49,500.64 520.64,500.62 C517.79,500.6 513.75,500.42 511.64,500.32 C509.53,500.22 509.28,500.32 507.98,500.02 C506.68,499.72 504.74,499.21 503.84,498.52 C502.94,497.83 502.48,496.98 502.58,495.88Z" fill="#ec635f"/>
<path d="M505.75,495.7 C505.83,494.78 506.46,493.37 507.3,492.4 C508.14,491.43 509.38,490.69 510.8,489.9 C512.22,489.11 514.13,488.48 515.8,487.65 C517.47,486.82 519.3,485.73 520.8,484.9 C522.3,484.07 523.63,483.22 524.8,482.65 C525.97,482.08 526.97,481.62 527.8,481.5 C528.63,481.38 529.22,481.42 529.8,481.9 C530.38,482.38 530.88,483.57 531.3,484.4 C531.72,485.23 531.97,485.82 532.3,486.9 C532.63,487.98 533.22,489.48 533.3,490.9 C533.38,492.32 533.22,494.23 532.8,495.4 C532.38,496.57 531.68,497.22 530.8,497.9 C529.93,498.58 529.22,499.21 527.55,499.5 C525.88,499.79 523.18,499.67 520.8,499.65 C518.43,499.63 515.06,499.48 513.3,499.4 C511.54,499.32 511.33,499.4 510.25,499.15 C509.17,498.9 507.55,498.48 506.8,497.9 C506.05,497.33 505.67,496.62 505.75,495.7Z" fill="#f5c0be"/>
<path d="M507.02,495.63 C507.09,494.78 507.67,493.48 508.44,492.59 C509.22,491.7 510.36,491.02 511.66,490.29 C512.97,489.56 514.73,488.99 516.26,488.22 C517.8,487.46 519.48,486.46 520.86,485.69 C522.24,484.93 523.47,484.14 524.54,483.62 C525.62,483.1 526.54,482.68 527.3,482.56 C528.07,482.45 528.61,482.49 529.14,482.93 C529.68,483.38 530.14,484.47 530.52,485.23 C530.91,486 531.14,486.54 531.44,487.53 C531.75,488.53 532.29,489.91 532.36,491.21 C532.44,492.52 532.29,494.28 531.9,495.35 C531.52,496.43 530.87,497.02 530.06,497.65 C529.26,498.28 528.61,498.86 527.07,499.12 C525.54,499.39 523.05,499.28 520.86,499.26 C518.68,499.25 515.58,499.11 513.96,499.03 C512.35,498.96 512.15,499.03 511.16,498.8 C510.16,498.57 508.67,498.18 507.98,497.65 C507.29,497.12 506.94,496.47 507.02,495.63Z" fill="#f2a5a3"/>
<path d="M508.29,495.56 C508.36,494.79 508.88,493.6 509.59,492.78 C510.3,491.97 511.34,491.35 512.53,490.68 C513.72,490.02 515.33,489.49 516.73,488.79 C518.13,488.09 519.67,487.18 520.93,486.48 C522.19,485.78 523.31,485.07 524.29,484.59 C525.27,484.12 526.11,483.73 526.81,483.63 C527.51,483.52 528,483.56 528.49,483.96 C528.98,484.37 529.4,485.36 529.75,486.06 C530.1,486.76 530.31,487.25 530.59,488.16 C530.87,489.07 531.36,490.33 531.43,491.52 C531.5,492.71 531.36,494.32 531.01,495.3 C530.66,496.28 530.06,496.83 529.33,497.4 C528.59,497.98 528,498.5 526.6,498.75 C525.2,498.99 522.92,498.89 520.93,498.87 C518.93,498.86 516.11,498.73 514.63,498.66 C513.15,498.59 512.98,498.66 512.07,498.45 C511.16,498.24 509.8,497.89 509.17,497.4 C508.54,496.92 508.22,496.33 508.29,495.56Z" fill="#ef8a88"/>
<path d="M509.55,495.48 C509.62,494.79 510.09,493.71 510.73,492.98 C511.37,492.24 512.32,491.68 513.39,491.08 C514.47,490.47 515.93,490 517.19,489.37 C518.46,488.73 519.85,487.91 520.99,487.28 C522.13,486.64 523.15,486 524.03,485.57 C524.92,485.14 525.68,484.79 526.31,484.69 C526.95,484.6 527.39,484.63 527.83,485 C528.28,485.36 528.66,486.26 528.97,486.9 C529.29,487.53 529.48,487.97 529.73,488.8 C529.99,489.62 530.43,490.76 530.49,491.84 C530.56,492.91 530.43,494.37 530.11,495.26 C529.8,496.14 529.26,496.64 528.59,497.16 C527.93,497.68 527.39,498.15 526.12,498.37 C524.86,498.59 522.8,498.5 520.99,498.49 C519.19,498.47 516.63,498.36 515.29,498.3 C513.96,498.23 513.8,498.3 512.97,498.11 C512.15,497.92 510.92,497.59 510.35,497.16 C509.78,496.72 509.49,496.18 509.55,495.48Z" fill="#ec706c"/>
<path d="M510.82,495.41 C510.88,494.79 511.3,493.83 511.88,493.17 C512.45,492.51 513.29,492.01 514.26,491.47 C515.22,490.93 516.52,490.5 517.66,489.94 C518.79,489.37 520.04,488.63 521.06,488.07 C522.08,487.5 522.98,486.92 523.78,486.54 C524.57,486.15 525.25,485.84 525.82,485.76 C526.38,485.67 526.78,485.7 527.18,486.03 C527.57,486.36 527.91,487.16 528.2,487.73 C528.48,488.29 528.65,488.69 528.88,489.43 C529.1,490.16 529.5,491.18 529.56,492.15 C529.61,493.11 529.5,494.41 529.22,495.21 C528.93,496 528.45,496.44 527.86,496.91 C527.26,497.37 526.78,497.8 525.65,498 C524.51,498.19 522.67,498.11 521.06,498.1 C519.44,498.09 517.15,497.98 515.96,497.93 C514.76,497.87 514.62,497.93 513.88,497.76 C513.15,497.59 512.05,497.3 511.54,496.91 C511.03,496.52 510.77,496.04 510.82,495.41Z" fill="#e95551"/>
<path d="M512.09,495.34 C512.14,494.79 512.51,493.94 513.02,493.36 C513.52,492.78 514.27,492.34 515.12,491.86 C515.97,491.38 517.12,491.01 518.12,490.51 C519.12,490.01 520.22,489.36 521.12,488.86 C522.02,488.36 522.82,487.85 523.52,487.51 C524.22,487.17 524.82,486.89 525.32,486.82 C525.82,486.75 526.17,486.77 526.52,487.06 C526.87,487.35 527.17,488.06 527.42,488.56 C527.67,489.06 527.82,489.41 528.02,490.06 C528.22,490.71 528.57,491.61 528.62,492.46 C528.67,493.31 528.57,494.46 528.32,495.16 C528.07,495.86 527.64,496.25 527.12,496.66 C526.6,497.07 526.17,497.44 525.17,497.62 C524.17,497.8 522.54,497.72 521.12,497.71 C519.7,497.7 517.67,497.61 516.62,497.56 C515.57,497.51 515.44,497.56 514.79,497.41 C514.14,497.26 513.17,497 512.72,496.66 C512.27,496.31 512.04,495.89 512.09,495.34Z" fill="#f5c0be"/>
<path d="M512.79,495.3 C512.83,494.79 513.18,494 513.65,493.47 C514.12,492.93 514.81,492.52 515.6,492.08 C516.38,491.64 517.45,491.29 518.38,490.82 C519.3,490.36 520.32,489.76 521.16,489.3 C521.99,488.83 522.73,488.36 523.38,488.04 C524.03,487.73 524.58,487.47 525.05,487.41 C525.51,487.34 525.83,487.36 526.16,487.63 C526.48,487.9 526.76,488.55 526.99,489.02 C527.22,489.48 527.36,489.81 527.55,490.41 C527.73,491.01 528.06,491.84 528.11,492.63 C528.15,493.42 528.06,494.48 527.83,495.13 C527.6,495.78 527.2,496.14 526.72,496.52 C526.23,496.9 525.83,497.25 524.91,497.41 C523.98,497.58 522.48,497.51 521.16,497.5 C519.83,497.49 517.96,497.4 516.99,497.36 C516.01,497.31 515.89,497.36 515.29,497.22 C514.69,497.08 513.79,496.84 513.37,496.52 C512.95,496.2 512.74,495.81 512.79,495.3Z" fill="#f2a5a3"/>
<path d="M513.48,495.26 C513.53,494.79 513.85,494.07 514.28,493.57 C514.71,493.08 515.35,492.7 516.07,492.29 C516.8,491.89 517.78,491.57 518.63,491.14 C519.48,490.71 520.42,490.16 521.19,489.73 C521.96,489.3 522.64,488.87 523.24,488.58 C523.84,488.29 524.35,488.05 524.77,487.99 C525.2,487.93 525.5,487.95 525.8,488.2 C526.1,488.44 526.35,489.05 526.57,489.48 C526.78,489.9 526.91,490.2 527.08,490.76 C527.25,491.31 527.55,492.08 527.59,492.8 C527.63,493.53 527.55,494.51 527.33,495.11 C527.12,495.7 526.76,496.04 526.31,496.39 C525.86,496.74 525.5,497.06 524.65,497.21 C523.79,497.36 522.41,497.29 521.19,497.28 C519.97,497.27 518.25,497.2 517.35,497.16 C516.45,497.11 516.34,497.16 515.79,497.03 C515.23,496.9 514.41,496.68 514.02,496.39 C513.64,496.09 513.44,495.73 513.48,495.26Z" fill="#ef8a88"/>
<path d="M514.18,495.22 C514.22,494.79 514.51,494.13 514.91,493.68 C515.3,493.22 515.88,492.88 516.55,492.51 C517.21,492.14 518.11,491.84 518.89,491.45 C519.67,491.06 520.52,490.56 521.23,490.17 C521.93,489.78 522.55,489.38 523.1,489.11 C523.64,488.85 524.11,488.63 524.5,488.58 C524.89,488.52 525.16,488.54 525.44,488.76 C525.71,488.99 525.94,489.54 526.14,489.93 C526.33,490.32 526.45,490.6 526.61,491.1 C526.76,491.61 527.04,492.31 527.08,492.97 C527.11,493.64 527.04,494.53 526.84,495.08 C526.65,495.63 526.32,495.93 525.91,496.25 C525.5,496.57 525.16,496.86 524.38,497 C523.6,497.14 522.34,497.08 521.23,497.07 C520.11,497.06 518.54,496.99 517.72,496.95 C516.89,496.91 516.8,496.95 516.29,496.84 C515.78,496.72 515.02,496.52 514.67,496.25 C514.32,495.98 514.14,495.65 514.18,495.22Z" fill="#ec706c"/>
<path d="M514.88,495.18 C514.91,494.79 515.18,494.19 515.54,493.78 C515.89,493.37 516.42,493.06 517.02,492.72 C517.62,492.39 518.43,492.12 519.14,491.77 C519.85,491.42 520.62,490.96 521.26,490.6 C521.9,490.25 522.46,489.89 522.96,489.65 C523.45,489.41 523.88,489.21 524.23,489.16 C524.58,489.11 524.83,489.13 525.08,489.33 C525.32,489.54 525.54,490.04 525.71,490.39 C525.89,490.74 526,490.99 526.14,491.45 C526.28,491.91 526.53,492.55 526.56,493.15 C526.6,493.75 526.53,494.56 526.35,495.05 C526.17,495.55 525.87,495.82 525.5,496.11 C525.13,496.4 524.83,496.67 524.12,496.79 C523.42,496.92 522.27,496.86 521.26,496.86 C520.25,496.85 518.83,496.79 518.08,496.75 C517.34,496.72 517.25,496.75 516.79,496.64 C516.33,496.54 515.64,496.36 515.32,496.11 C515.01,495.87 514.84,495.57 514.88,495.18Z" fill="#e95551"/>
<path d="M515.58,495.14 C515.61,494.79 515.85,494.26 516.17,493.89 C516.49,493.52 516.96,493.24 517.5,492.94 C518.03,492.64 518.76,492.4 519.4,492.08 C520.03,491.77 520.73,491.35 521.3,491.04 C521.87,490.72 522.37,490.4 522.82,490.18 C523.26,489.97 523.64,489.79 523.96,489.75 C524.27,489.7 524.49,489.71 524.72,489.9 C524.94,490.08 525.13,490.53 525.29,490.85 C525.44,491.16 525.54,491.39 525.67,491.8 C525.79,492.21 526.01,492.78 526.05,493.32 C526.08,493.86 526.01,494.58 525.86,495.03 C525.7,495.47 525.43,495.72 525.1,495.98 C524.76,496.24 524.49,496.48 523.86,496.59 C523.23,496.7 522.2,496.65 521.3,496.64 C520.39,496.64 519.11,496.58 518.45,496.55 C517.78,496.52 517.7,496.55 517.29,496.45 C516.88,496.36 516.26,496.2 515.98,495.98 C515.69,495.76 515.55,495.49 515.58,495.14Z" fill="#f5c0be"/>
<path d="M516.15,495.11 C516.18,494.79 516.39,494.31 516.68,493.97 C516.97,493.64 517.4,493.39 517.88,493.11 C518.37,492.84 519.03,492.63 519.6,492.34 C520.18,492.05 520.81,491.68 521.32,491.39 C521.84,491.11 522.3,490.82 522.7,490.62 C523.1,490.43 523.45,490.27 523.73,490.22 C524.02,490.18 524.22,490.2 524.42,490.36 C524.62,490.53 524.79,490.94 524.94,491.22 C525.08,491.51 525.17,491.71 525.28,492.08 C525.4,492.46 525.6,492.97 525.62,493.46 C525.65,493.95 525.6,494.61 525.45,495.01 C525.31,495.41 525.07,495.63 524.76,495.87 C524.46,496.1 524.22,496.32 523.65,496.42 C523.07,496.52 522.14,496.47 521.32,496.47 C520.51,496.46 519.35,496.41 518.74,496.38 C518.14,496.35 518.07,496.38 517.7,496.3 C517.32,496.21 516.77,496.06 516.51,495.87 C516.25,495.67 516.12,495.42 516.15,495.11Z" fill="#f2a5a3"/>
<path d="M516.72,495.08 C516.74,494.79 516.94,494.36 517.2,494.06 C517.45,493.76 517.84,493.53 518.27,493.29 C518.71,493.05 519.3,492.85 519.81,492.6 C520.33,492.34 520.89,492.01 521.35,491.75 C521.82,491.49 522.23,491.23 522.59,491.06 C522.94,490.88 523.25,490.74 523.51,490.7 C523.77,490.67 523.95,490.68 524.13,490.83 C524.31,490.98 524.46,491.34 524.59,491.6 C524.72,491.85 524.79,492.03 524.9,492.37 C525,492.7 525.18,493.16 525.2,493.6 C525.23,494.04 525.18,494.63 525.05,494.98 C524.92,495.34 524.7,495.54 524.43,495.75 C524.16,495.97 523.95,496.16 523.43,496.25 C522.92,496.34 522.09,496.3 521.35,496.29 C520.62,496.29 519.59,496.24 519.04,496.22 C518.5,496.19 518.44,496.22 518.1,496.14 C517.77,496.06 517.27,495.93 517.04,495.75 C516.81,495.58 516.69,495.36 516.72,495.08Z" fill="#ef8a88"/>
<path d="M517.29,495.04 C517.31,494.8 517.48,494.41 517.71,494.15 C517.94,493.88 518.28,493.68 518.66,493.47 C519.05,493.25 519.57,493.08 520.02,492.86 C520.48,492.63 520.97,492.33 521.38,492.11 C521.79,491.88 522.15,491.65 522.47,491.5 C522.79,491.34 523.06,491.22 523.29,491.18 C523.51,491.15 523.67,491.16 523.83,491.29 C523.99,491.42 524.13,491.74 524.24,491.97 C524.35,492.2 524.42,492.36 524.51,492.65 C524.6,492.95 524.76,493.35 524.78,493.74 C524.81,494.12 524.76,494.65 524.65,494.96 C524.53,495.28 524.34,495.46 524.1,495.64 C523.86,495.83 523.67,496 523.22,496.08 C522.77,496.16 522.03,496.12 521.38,496.12 C520.74,496.11 519.82,496.07 519.34,496.05 C518.86,496.03 518.81,496.05 518.51,495.98 C518.22,495.92 517.78,495.8 517.57,495.64 C517.37,495.49 517.27,495.29 517.29,495.04Z" fill="#ec706c"/>
<path d="M517.86,495.01 C517.88,494.8 518.03,494.46 518.23,494.23 C518.42,494.01 518.72,493.83 519.05,493.64 C519.39,493.46 519.84,493.31 520.23,493.11 C520.62,492.92 521.06,492.66 521.41,492.46 C521.77,492.27 522.08,492.07 522.36,491.93 C522.63,491.8 522.87,491.69 523.06,491.66 C523.26,491.63 523.4,491.64 523.54,491.76 C523.67,491.87 523.79,492.15 523.89,492.35 C523.99,492.54 524.05,492.68 524.13,492.94 C524.2,493.19 524.34,493.55 524.36,493.88 C524.38,494.21 524.34,494.67 524.24,494.94 C524.14,495.22 523.98,495.37 523.77,495.53 C523.56,495.69 523.4,495.84 523,495.91 C522.61,495.98 521.97,495.95 521.41,495.94 C520.85,495.94 520.06,495.91 519.64,495.89 C519.23,495.87 519.18,495.89 518.92,495.83 C518.67,495.77 518.28,495.67 518.11,495.53 C517.93,495.4 517.84,495.23 517.86,495.01Z" fill="#e95551"/>
<path d="M518.43,494.98 C518.45,494.8 518.57,494.51 518.74,494.32 C518.91,494.13 519.16,493.98 519.44,493.82 C519.72,493.66 520.11,493.54 520.44,493.37 C520.77,493.2 521.14,492.99 521.44,492.82 C521.74,492.65 522.01,492.48 522.24,492.37 C522.47,492.26 522.67,492.16 522.84,492.14 C523.01,492.12 523.12,492.12 523.24,492.22 C523.36,492.32 523.46,492.55 523.54,492.72 C523.62,492.89 523.67,493 523.74,493.22 C523.81,493.44 523.92,493.74 523.94,494.02 C523.96,494.3 523.92,494.69 523.84,494.92 C523.76,495.15 523.62,495.28 523.44,495.42 C523.27,495.56 523.12,495.68 522.79,495.74 C522.46,495.8 521.92,495.77 521.44,495.77 C520.97,495.77 520.29,495.74 519.94,495.72 C519.59,495.7 519.55,495.72 519.33,495.67 C519.11,495.62 518.79,495.54 518.64,495.42 C518.49,495.31 518.41,495.16 518.43,494.98Z" fill="#f5c0be"/>
<path d="M518.75,494.96 C518.76,494.8 518.87,494.54 519.03,494.37 C519.18,494.19 519.4,494.06 519.66,493.92 C519.91,493.78 520.26,493.66 520.56,493.51 C520.86,493.36 521.19,493.17 521.46,493.02 C521.73,492.87 521.97,492.72 522.18,492.61 C522.39,492.51 522.57,492.43 522.72,492.41 C522.87,492.38 522.97,492.39 523.08,492.48 C523.18,492.56 523.27,492.78 523.35,492.93 C523.42,493.08 523.47,493.18 523.53,493.38 C523.59,493.57 523.69,493.84 523.71,494.1 C523.72,494.35 523.69,494.7 523.62,494.91 C523.54,495.12 523.41,495.24 523.26,495.36 C523.1,495.48 522.97,495.59 522.67,495.65 C522.37,495.7 521.88,495.68 521.46,495.67 C521.03,495.67 520.42,495.64 520.11,495.63 C519.79,495.61 519.75,495.63 519.56,495.58 C519.36,495.54 519.07,495.46 518.94,495.36 C518.8,495.25 518.73,495.13 518.75,494.96Z" fill="#f2a5a3"/>
<path d="M519.06,494.94 C519.08,494.8 519.18,494.57 519.31,494.42 C519.45,494.26 519.65,494.14 519.87,494.02 C520.1,493.89 520.41,493.79 520.67,493.66 C520.94,493.52 521.23,493.35 521.47,493.22 C521.71,493.08 521.93,492.95 522.11,492.86 C522.3,492.77 522.46,492.69 522.59,492.67 C522.73,492.65 522.82,492.66 522.91,492.74 C523.01,492.81 523.09,493 523.15,493.14 C523.22,493.27 523.26,493.36 523.31,493.54 C523.37,493.71 523.46,493.95 523.47,494.18 C523.49,494.4 523.46,494.71 523.39,494.9 C523.33,495.08 523.21,495.19 523.07,495.3 C522.93,495.41 522.82,495.51 522.55,495.55 C522.29,495.6 521.85,495.58 521.47,495.58 C521.09,495.57 520.55,495.55 520.27,495.54 C519.99,495.52 519.96,495.54 519.78,495.5 C519.61,495.46 519.35,495.39 519.23,495.3 C519.11,495.2 519.05,495.09 519.06,494.94Z" fill="#ef8a88"/>
<path d="M519.38,494.93 C519.39,494.8 519.48,494.6 519.6,494.46 C519.72,494.33 519.89,494.22 520.09,494.11 C520.29,494 520.55,493.92 520.79,493.8 C521.02,493.68 521.28,493.53 521.49,493.41 C521.7,493.3 521.88,493.18 522.05,493.1 C522.21,493.02 522.35,492.96 522.47,492.94 C522.58,492.92 522.67,492.93 522.75,492.99 C522.83,493.06 522.9,493.23 522.96,493.34 C523.02,493.46 523.05,493.54 523.1,493.69 C523.14,493.85 523.23,494.06 523.24,494.25 C523.25,494.45 523.23,494.72 523.17,494.88 C523.11,495.05 523.01,495.14 522.89,495.23 C522.77,495.33 522.67,495.42 522.43,495.46 C522.2,495.5 521.82,495.48 521.49,495.48 C521.16,495.48 520.68,495.46 520.44,495.44 C520.19,495.43 520.16,495.44 520.01,495.41 C519.86,495.37 519.63,495.31 519.53,495.23 C519.42,495.15 519.37,495.05 519.38,494.93Z" fill="#ec706c"/>
<path d="M519.7,494.91 C519.71,494.8 519.78,494.63 519.88,494.51 C519.99,494.4 520.13,494.31 520.3,494.21 C520.47,494.12 520.7,494.04 520.9,493.94 C521.1,493.84 521.32,493.71 521.5,493.61 C521.68,493.51 521.84,493.41 521.98,493.34 C522.12,493.27 522.24,493.22 522.34,493.2 C522.44,493.19 522.51,493.19 522.58,493.25 C522.65,493.31 522.71,493.45 522.76,493.55 C522.81,493.65 522.84,493.72 522.88,493.85 C522.92,493.98 522.99,494.16 523,494.33 C523.01,494.5 522.99,494.73 522.94,494.87 C522.89,495.01 522.81,495.09 522.7,495.17 C522.6,495.25 522.51,495.33 522.31,495.36 C522.11,495.4 521.79,495.38 521.5,495.38 C521.22,495.38 520.82,495.36 520.6,495.35 C520.39,495.34 520.37,495.35 520.24,495.32 C520.11,495.29 519.91,495.24 519.82,495.17 C519.73,495.1 519.69,495.02 519.7,494.91Z" fill="#e95551"/>
<path d="M505.75,495.7 C505.83,494.78 506.46,493.37 507.3,492.4 C508.14,491.43 509.38,490.69 510.8,489.9 C512.22,489.11 514.13,488.48 515.8,487.65 C517.47,486.82 519.3,485.73 520.8,484.9 C522.3,484.07 523.63,483.22 524.8,482.65 C525.97,482.08 526.97,481.62 527.8,481.5 C528.63,481.38 529.22,481.42 529.8,481.9 C530.38,482.38 530.88,483.57 531.3,484.4 C531.72,485.23 531.97,485.82 532.3,486.9 C532.63,487.98 533.22,489.48 533.3,490.9 C533.38,492.32 533.22,494.23 532.8,495.4 C532.38,496.57 531.68,497.22 530.8,497.9 C529.93,498.58 529.22,499.21 527.55,499.5 C525.88,499.79 523.18,499.67 520.8,499.65 C518.43,499.63 515.06,499.48 513.3,499.4 C511.54,499.32 511.33,499.4 510.25,499.15 C509.17,498.9 507.55,498.48 506.8,497.9 C506.05,497.33 505.67,496.62 505.75,495.7Z" fill="#f5c0be" stroke="#fff" stroke-width="0.75"/>
<path d="M507.02,495.63 C507.09,494.78 507.67,493.48 508.44,492.59 C509.22,491.7 510.36,491.02 511.66,490.29 C512.97,489.56 514.73,488.99 516.26,488.22 C517.8,487.46 519.48,486.46 520.86,485.69 C522.24,484.93 523.47,484.14 524.54,483.62 C525.62,483.1 526.54,482.68 527.3,482.56 C528.07,482.45 528.61,482.49 529.14,482.93 C529.68,483.38 530.14,484.47 530.52,485.23 C530.91,486 531.14,486.54 531.44,487.53 C531.75,488.53 532.29,489.91 532.36,491.21 C532.44,492.52 532.29,494.28 531.9,495.35 C531.52,496.43 530.87,497.02 530.06,497.65 C529.26,498.28 528.61,498.86 527.07,499.12 C525.54,499.39 523.05,499.28 520.86,499.26 C518.68,499.25 515.58,499.11 513.96,499.03 C512.35,498.96 512.15,499.03 511.16,498.8 C510.16,498.57 508.67,498.18 507.98,497.65 C507.29,497.12 506.94,496.47 507.02,495.63Z" fill="#f2a5a3"/>
<path d="M508.29,495.56 C508.36,494.79 508.88,493.6 509.59,492.78 C510.3,491.97 511.34,491.35 512.53,490.68 C513.72,490.02 515.33,489.49 516.73,488.79 C518.13,488.09 519.67,487.18 520.93,486.48 C522.19,485.78 523.31,485.07 524.29,484.59 C525.27,484.12 526.11,483.73 526.81,483.63 C527.51,483.52 528,483.56 528.49,483.96 C528.98,484.37 529.4,485.36 529.75,486.06 C530.1,486.76 530.31,487.25 530.59,488.16 C530.87,489.07 531.36,490.33 531.43,491.52 C531.5,492.71 531.36,494.32 531.01,495.3 C530.66,496.28 530.06,496.83 529.33,497.4 C528.59,497.98 528,498.5 526.6,498.75 C525.2,498.99 522.92,498.89 520.93,498.87 C518.93,498.86 516.11,498.73 514.63,498.66 C513.15,498.59 512.98,498.66 512.07,498.45 C511.16,498.24 509.8,497.89 509.17,497.4 C508.54,496.92 508.22,496.33 508.29,495.56Z" fill="#ef8a88"/>
<path d="M509.55,495.48 C509.62,494.79 510.09,493.71 510.73,492.98 C511.37,492.24 512.32,491.68 513.39,491.08 C514.47,490.47 515.93,490 517.19,489.37 C518.46,488.73 519.85,487.91 520.99,487.28 C522.13,486.64 523.15,486 524.03,485.57 C524.92,485.14 525.68,484.79 526.31,484.69 C526.95,484.6 527.39,484.63 527.83,485 C528.28,485.36 528.66,486.26 528.97,486.9 C529.29,487.53 529.48,487.97 529.73,488.8 C529.99,489.62 530.43,490.76 530.49,491.84 C530.56,492.91 530.43,494.37 530.11,495.26 C529.8,496.14 529.26,496.64 528.59,497.16 C527.93,497.68 527.39,498.15 526.12,498.37 C524.86,498.59 522.8,498.5 520.99,498.49 C519.19,498.47 516.63,498.36 515.29,498.3 C513.96,498.23 513.8,498.3 512.97,498.11 C512.15,497.92 510.92,497.59 510.35,497.16 C509.78,496.72 509.49,496.18 509.55,495.48Z" fill="#ec706c"/>
<path d="M510.82,495.41 C510.88,494.79 511.3,493.83 511.88,493.17 C512.45,492.51 513.29,492.01 514.26,491.47 C515.22,490.93 516.52,490.5 517.66,489.94 C518.79,489.37 520.04,488.63 521.06,488.07 C522.08,487.5 522.98,486.92 523.78,486.54 C524.57,486.15 525.25,485.84 525.82,485.76 C526.38,485.67 526.78,485.7 527.18,486.03 C527.57,486.36 527.91,487.16 528.2,487.73 C528.48,488.29 528.65,488.69 528.88,489.43 C529.1,490.16 529.5,491.18 529.56,492.15 C529.61,493.11 529.5,494.41 529.22,495.21 C528.93,496 528.45,496.44 527.86,496.91 C527.26,497.37 526.78,497.8 525.65,498 C524.51,498.19 522.67,498.11 521.06,498.1 C519.44,498.09 517.15,497.98 515.96,497.93 C514.76,497.87 514.62,497.93 513.88,497.76 C513.15,497.59 512.05,497.3 511.54,496.91 C511.03,496.52 510.77,496.04 510.82,495.41Z" fill="#e95551"/>
<path d="M512.09,495.34 C512.14,494.79 512.51,493.94 513.02,493.36 C513.52,492.78 514.27,492.34 515.12,491.86 C515.97,491.38 517.12,491.01 518.12,490.51 C519.12,490.01 520.22,489.36 521.12,488.86 C522.02,488.36 522.82,487.85 523.52,487.51 C524.22,487.17 524.82,486.89 525.32,486.82 C525.82,486.75 526.17,486.77 526.52,487.06 C526.87,487.35 527.17,488.06 527.42,488.56 C527.67,489.06 527.82,489.41 528.02,490.06 C528.22,490.71 528.57,491.61 528.62,492.46 C528.67,493.31 528.57,494.46 528.32,495.16 C528.07,495.86 527.64,496.25 527.12,496.66 C526.6,497.07 526.17,497.44 525.17,497.62 C524.17,497.8 522.54,497.72 521.12,497.71 C519.7,497.7 517.67,497.61 516.62,497.56 C515.57,497.51 515.44,497.56 514.79,497.41 C514.14,497.26 513.17,497 512.72,496.66 C512.27,496.31 512.04,495.89 512.09,495.34Z" fill="#f5c0be" stroke="#fff" stroke-width="0.75"/>
<path d="M512.79,495.3 C512.83,494.79 513.18,494 513.65,493.47 C514.12,492.93 514.81,492.52 515.6,492.08 C516.38,491.64 517.45,491.29 518.38,490.82 C519.3,490.36 520.32,489.76 521.16,489.3 C521.99,488.83 522.73,488.36 523.38,488.04 C524.03,487.73 524.58,487.47 525.05,487.41 C525.51,487.34 525.83,487.36 526.16,487.63 C526.48,487.9 526.76,488.55 526.99,489.02 C527.22,489.48 527.36,489.81 527.55,490.41 C527.73,491.01 528.06,491.84 528.11,492.63 C528.15,493.42 528.06,494.48 527.83,495.13 C527.6,495.78 527.2,496.14 526.72,496.52 C526.23,496.9 525.83,497.25 524.91,497.41 C523.98,497.58 522.48,497.51 521.16,497.5 C519.83,497.49 517.96,497.4 516.99,497.36 C516.01,497.31 515.89,497.36 515.29,497.22 C514.69,497.08 513.79,496.84 513.37,496.52 C512.95,496.2 512.74,495.81 512.79,495.3Z" fill="#f2a5a3"/>
<path d="M513.48,495.26 C513.53,494.79 513.85,494.07 514.28,493.57 C514.71,493.08 515.35,492.7 516.07,492.29 C516.8,491.89 517.78,491.57 518.63,491.14 C519.48,490.71 520.42,490.16 521.19,489.73 C521.96,489.3 522.64,488.87 523.24,488.58 C523.84,488.29 524.35,488.05 524.77,487.99 C525.2,487.93 525.5,487.95 525.8,488.2 C526.1,488.44 526.35,489.05 526.57,489.48 C526.78,489.9 526.91,490.2 527.08,490.76 C527.25,491.31 527.55,492.08 527.59,492.8 C527.63,493.53 527.55,494.51 527.33,495.11 C527.12,495.7 526.76,496.04 526.31,496.39 C525.86,496.74 525.5,497.06 524.65,497.21 C523.79,497.36 522.41,497.29 521.19,497.28 C519.97,497.27 518.25,497.2 517.35,497.16 C516.45,497.11 516.34,497.16 515.79,497.03 C515.23,496.9 514.41,496.68 514.02,496.39 C513.64,496.09 513.44,495.73 513.48,495.26Z" fill="#ef8a88"/>
<path d="M514.18,495.22 C514.22,494.79 514.51,494.13 514.91,493.68 C515.3,493.22 515.88,492.88 516.55,492.51 C517.21,492.14 518.11,491.84 518.89,491.45 C519.67,491.06 520.52,490.56 521.23,490.17 C521.93,489.78 522.55,489.38 523.1,489.11 C523.64,488.85 524.11,488.63 524.5,488.58 C524.89,488.52 525.16,488.54 525.44,488.76 C525.71,488.99 525.94,489.54 526.14,489.93 C526.33,490.32 526.45,490.6 526.61,491.1 C526.76,491.61 527.04,492.31 527.08,492.97 C527.11,493.64 527.04,494.53 526.84,495.08 C526.65,495.63 526.32,495.93 525.91,496.25 C525.5,496.57 525.16,496.86 524.38,497 C523.6,497.14 522.34,497.08 521.23,497.07 C520.11,497.06 518.54,496.99 517.72,496.95 C516.89,496.91 516.8,496.95 516.29,496.84 C515.78,496.72 515.02,496.52 514.67,496.25 C514.32,495.98 514.14,495.65 514.18,495.22Z" fill="#ec706c"/>
<path d="M514.88,495.18 C514.91,494.79 515.18,494.19 515.54,493.78 C515.89,493.37 516.42,493.06 517.02,492.72 C517.62,492.39 518.43,492.12 519.14,491.77 C519.85,491.42 520.62,490.96 521.26,490.6 C521.9,490.25 522.46,489.89 522.96,489.65 C523.45,489.41 523.88,489.21 524.23,489.16 C524.58,489.11 524.83,489.13 525.08,489.33 C525.32,489.54 525.54,490.04 525.71,490.39 C525.89,490.74 526,490.99 526.14,491.45 C526.28,491.91 526.53,492.55 526.56,493.15 C526.6,493.75 526.53,494.56 526.35,495.05 C526.17,495.55 525.87,495.82 525.5,496.11 C525.13,496.4 524.83,496.67 524.12,496.79 C523.42,496.92 522.27,496.86 521.26,496.86 C520.25,496.85 518.83,496.79 518.08,496.75 C517.34,496.72 517.25,496.75 516.79,496.64 C516.33,496.54 515.64,496.36 515.32,496.11 C515.01,495.87 514.84,495.57 514.88,495.18Z" fill="#e95551"/>
<path d="M515.58,495.14 C515.61,494.79 515.85,494.26 516.17,493.89 C516.49,493.52 516.96,493.24 517.5,492.94 C518.03,492.64 518.76,492.4 519.4,492.08 C520.03,491.77 520.73,491.35 521.3,491.04 C521.87,490.72 522.37,490.4 522.82,490.18 C523.26,489.97 523.64,489.79 523.96,489.75 C524.27,489.7 524.49,489.71 524.72,489.9 C524.94,490.08 525.13,490.53 525.29,490.85 C525.44,491.16 525.54,491.39 525.67,491.8 C525.79,492.21 526.01,492.78 526.05,493.32 C526.08,493.86 526.01,494.58 525.86,495.03 C525.7,495.47 525.43,495.72 525.1,495.98 C524.76,496.24 524.49,496.48 523.86,496.59 C523.23,496.7 522.2,496.65 521.3,496.64 C520.39,496.64 519.11,496.58 518.45,496.55 C517.78,496.52 517.7,496.55 517.29,496.45 C516.88,496.36 516.26,496.2 515.98,495.98 C515.69,495.76 515.55,495.49 515.58,495.14Z" fill="#f5c0be" stroke="#fff" stroke-width="0.75"/>
<path d="M516.15,495.11 C516.18,494.79 516.39,494.31 516.68,493.97 C516.97,493.64 517.4,493.39 517.88,493.11 C518.37,492.84 519.03,492.63 519.6,492.34 C520.18,492.05 520.81,491.68 521.32,491.39 C521.84,491.11 522.3,490.82 522.7,490.62 C523.1,490.43 523.45,490.27 523.73,490.22 C524.02,490.18 524.22,490.2 524.42,490.36 C524.62,490.53 524.79,490.94 524.94,491.22 C525.08,491.51 525.17,491.71 525.28,492.08 C525.4,492.46 525.6,492.97 525.62,493.46 C525.65,493.95 525.6,494.61 525.45,495.01 C525.31,495.41 525.07,495.63 524.76,495.87 C524.46,496.1 524.22,496.32 523.65,496.42 C523.07,496.52 522.14,496.47 521.32,496.47 C520.51,496.46 519.35,496.41 518.74,496.38 C518.14,496.35 518.07,496.38 517.7,496.3 C517.32,496.21 516.77,496.06 516.51,495.87 C516.25,495.67 516.12,495.42 516.15,495.11Z" fill="#f2a5a3"/>
<path d="M516.72,495.08 C516.74,494.79 516.94,494.36 517.2,494.06 C517.45,493.76 517.84,493.53 518.27,493.29 C518.71,493.05 519.3,492.85 519.81,492.6 C520.33,492.34 520.89,492.01 521.35,491.75 C521.82,491.49 522.23,491.23 522.59,491.06 C522.94,490.88 523.25,490.74 523.51,490.7 C523.77,490.67 523.95,490.68 524.13,490.83 C524.31,490.98 524.46,491.34 524.59,491.6 C524.72,491.85 524.79,492.03 524.9,492.37 C525,492.7 525.18,493.16 525.2,493.6 C525.23,494.04 525.18,494.63 525.05,494.98 C524.92,495.34 524.7,495.54 524.43,495.75 C524.16,495.97 523.95,496.16 523.43,496.25 C522.92,496.34 522.09,496.3 521.35,496.29 C520.62,496.29 519.59,496.24 519.04,496.22 C518.5,496.19 518.44,496.22 518.1,496.14 C517.77,496.06 517.27,495.93 517.04,495.75 C516.81,495.58 516.69,495.36 516.72,495.08Z" fill="#ef8a88"/>
<path d="M517.29,495.04 C517.31,494.8 517.48,494.41 517.71,494.15 C517.94,493.88 518.28,493.68 518.66,493.47 C519.05,493.25 519.57,493.08 520.02,492.86 C520.48,492.63 520.97,492.33 521.38,492.11 C521.79,491.88 522.15,491.65 522.47,491.5 C522.79,491.34 523.06,491.22 523.29,491.18 C523.51,491.15 523.67,491.16 523.83,491.29 C523.99,491.42 524.13,491.74 524.24,491.97 C524.35,492.2 524.42,492.36 524.51,492.65 C524.6,492.95 524.76,493.35 524.78,493.74 C524.81,494.12 524.76,494.65 524.65,494.96 C524.53,495.28 524.34,495.46 524.1,495.64 C523.86,495.83 523.67,496 523.22,496.08 C522.77,496.16 522.03,496.12 521.38,496.12 C520.74,496.11 519.82,496.07 519.34,496.05 C518.86,496.03 518.81,496.05 518.51,495.98 C518.22,495.92 517.78,495.8 517.57,495.64 C517.37,495.49 517.27,495.29 517.29,495.04Z" fill="#ec706c"/>
<path d="M517.86,495.01 C517.88,494.8 518.03,494.46 518.23,494.23 C518.42,494.01 518.72,493.83 519.05,493.64 C519.39,493.46 519.84,493.31 520.23,493.11 C520.62,492.92 521.06,492.66 521.41,492.46 C521.77,492.27 522.08,492.07 522.36,491.93 C522.63,491.8 522.87,491.69 523.06,491.66 C523.26,491.63 523.4,491.64 523.54,491.76 C523.67,491.87 523.79,492.15 523.89,492.35 C523.99,492.54 524.05,492.68 524.13,492.94 C524.2,493.19 524.34,493.55 524.36,493.88 C524.38,494.21 524.34,494.67 524.24,494.94 C524.14,495.22 523.98,495.37 523.77,495.53 C523.56,495.69 523.4,495.84 523,495.91 C522.61,495.98 521.97,495.95 521.41,495.94 C520.85,495.94 520.06,495.91 519.64,495.89 C519.23,495.87 519.18,495.89 518.92,495.83 C518.67,495.77 518.28,495.67 518.11,495.53 C517.93,495.4 517.84,495.23 517.86,495.01Z" fill="#e95551"/>
<path d="M518.43,494.98 C518.45,494.8 518.57,494.51 518.74,494.32 C518.91,494.13 519.16,493.98 519.44,493.82 C519.72,493.66 520.11,493.54 520.44,493.37 C520.77,493.2 521.14,492.99 521.44,492.82 C521.74,492.65 522.01,492.48 522.24,492.37 C522.47,492.26 522.67,492.16 522.84,492.14 C523.01,492.12 523.12,492.12 523.24,492.22 C523.36,492.32 523.46,492.55 523.54,492.72 C523.62,492.89 523.67,493 523.74,493.22 C523.81,493.44 523.92,493.74 523.94,494.02 C523.96,494.3 523.92,494.69 523.84,494.92 C523.76,495.15 523.62,495.28 523.44,495.42 C523.27,495.56 523.12,495.68 522.79,495.74 C522.46,495.8 521.92,495.77 521.44,495.77 C520.97,495.77 520.29,495.74 519.94,495.72 C519.59,495.7 519.55,495.72 519.33,495.67 C519.11,495.62 518.79,495.54 518.64,495.42 C518.49,495.31 518.41,495.16 518.43,494.98Z" fill="#f5c0be" stroke="#fff" stroke-width="0.75"/>
<path d="M518.75,494.96 C518.76,494.8 518.87,494.54 519.03,494.37 C519.18,494.19 519.4,494.06 519.66,493.92 C519.91,493.78 520.26,493.66 520.56,493.51 C520.86,493.36 521.19,493.17 521.46,493.02 C521.73,492.87 521.97,492.72 522.18,492.61 C522.39,492.51 522.57,492.43 522.72,492.41 C522.87,492.38 522.97,492.39 523.08,492.48 C523.18,492.56 523.27,492.78 523.35,492.93 C523.42,493.08 523.47,493.18 523.53,493.38 C523.59,493.57 523.69,493.84 523.71,494.1 C523.72,494.35 523.69,494.7 523.62,494.91 C523.54,495.12 523.41,495.24 523.26,495.36 C523.1,495.48 522.97,495.59 522.67,495.65 C522.37,495.7 521.88,495.68 521.46,495.67 C521.03,495.67 520.42,495.64 520.11,495.63 C519.79,495.61 519.75,495.63 519.56,495.58 C519.36,495.54 519.07,495.46 518.94,495.36 C518.8,495.25 518.73,495.13 518.75,494.96Z" fill="#f2a5a3"/>
<path d="M519.06,494.94 C519.08,494.8 519.18,494.57 519.31,494.42 C519.45,494.26 519.65,494.14 519.87,494.02 C520.1,493.89 520.41,493.79 520.67,493.66 C520.94,493.52 521.23,493.35 521.47,493.22 C521.71,493.08 521.93,492.95 522.11,492.86 C522.3,492.77 522.46,492.69 522.59,492.67 C522.73,492.65 522.82,492.66 522.91,492.74 C523.01,492.81 523.09,493 523.15,493.14 C523.22,493.27 523.26,493.36 523.31,493.54 C523.37,493.71 523.46,493.95 523.47,494.18 C523.49,494.4 523.46,494.71 523.39,494.9 C523.33,495.08 523.21,495.19 523.07,495.3 C522.93,495.41 522.82,495.51 522.55,495.55 C522.29,495.6 521.85,495.58 521.47,495.58 C521.09,495.57 520.55,495.55 520.27,495.54 C519.99,495.52 519.96,495.54 519.78,495.5 C519.61,495.46 519.35,495.39 519.23,495.3 C519.11,495.2 519.05,495.09 519.06,494.94Z" fill="#ef8a88"/>
<path d="M519.38,494.93 C519.39,494.8 519.48,494.6 519.6,494.46 C519.72,494.33 519.89,494.22 520.09,494.11 C520.29,494 520.55,493.92 520.79,493.8 C521.02,493.68 521.28,493.53 521.49,493.41 C521.7,493.3 521.88,493.18 522.05,493.1 C522.21,493.02 522.35,492.96 522.47,492.94 C522.58,492.92 522.67,492.93 522.75,492.99 C522.83,493.06 522.9,493.23 522.96,493.34 C523.02,493.46 523.05,493.54 523.1,493.69 C523.14,493.85 523.23,494.06 523.24,494.25 C523.25,494.45 523.23,494.72 523.17,494.88 C523.11,495.05 523.01,495.14 522.89,495.23 C522.77,495.33 522.67,495.42 522.43,495.46 C522.2,495.5 521.82,495.48 521.49,495.48 C521.16,495.48 520.68,495.46 520.44,495.44 C520.19,495.43 520.16,495.44 520.01,495.41 C519.86,495.37 519.63,495.31 519.53,495.23 C519.42,495.15 519.37,495.05 519.38,494.93Z" fill="#ec706c"/>
<path d="M519.7,494.91 C519.71,494.8 519.78,494.63 519.88,494.51 C519.99,494.4 520.13,494.31 520.3,494.21 C520.47,494.12 520.7,494.04 520.9,493.94 C521.1,493.84 521.32,493.71 521.5,493.61 C521.68,493.51 521.84,493.41 521.98,493.34 C522.12,493.27 522.24,493.22 522.34,493.2 C522.44,493.19 522.51,493.19 522.58,493.25 C522.65,493.31 522.71,493.45 522.76,493.55 C522.81,493.65 522.84,493.72 522.88,493.85 C522.92,493.98 522.99,494.16 523,494.33 C523.01,494.5 522.99,494.73 522.94,494.87 C522.89,495.01 522.81,495.09 522.7,495.17 C522.6,495.25 522.51,495.33 522.31,495.36 C522.11,495.4 521.79,495.38 521.5,495.38 C521.22,495.38 520.82,495.36 520.6,495.35 C520.39,495.34 520.37,495.35 520.24,495.32 C520.11,495.29 519.91,495.24 519.82,495.17 C519.73,495.1 519.69,495.02 519.7,494.91Z" fill="#e95551"/>
<path d="M520.01,494.89 C520.02,494.8 520.09,494.66 520.17,494.56 C520.25,494.46 520.38,494.39 520.52,494.31 C520.66,494.23 520.85,494.17 521.02,494.08 C521.19,494 521.37,493.89 521.52,493.81 C521.67,493.73 521.8,493.64 521.92,493.58 C522.04,493.53 522.14,493.48 522.22,493.47 C522.3,493.46 522.36,493.46 522.42,493.51 C522.48,493.56 522.53,493.68 522.57,493.76 C522.61,493.84 522.64,493.9 522.67,494.01 C522.7,494.12 522.76,494.27 522.77,494.41 C522.78,494.55 522.76,494.74 522.72,494.86 C522.68,494.98 522.61,495.04 522.52,495.11 C522.43,495.18 522.36,495.24 522.2,495.27 C522.03,495.3 521.76,495.29 521.52,495.28 C521.28,495.28 520.95,495.27 520.77,495.26 C520.59,495.25 520.57,495.26 520.47,495.23 C520.36,495.21 520.2,495.17 520.12,495.11 C520.04,495.05 520.01,494.98 520.01,494.89Z" fill="#e3302c" stroke="#fff" stroke-width="0.75"/>
<circle cx="548.5" cy="476.5" r="1.6" fill="#e4262b"/>
<line x1="616.9" y1="420.3" x2="616.9" y2="521.5" stroke="#444" stroke-width="0.9"/>
<line x1="613.3" y1="521.5" x2="683.6" y2="521.5" stroke="#444" stroke-width="0.9"/>
<line x1="612.6" y1="521.5" x2="616.9" y2="521.5" stroke="#444" stroke-width="0.8"/>
<text x="603.75" y="524.1" font-size="7.45" fill="#231f20" textLength="4.14" lengthAdjust="spacingAndGlyphs">0</text>
<line x1="612.6" y1="496.3" x2="616.9" y2="496.3" stroke="#444" stroke-width="0.8"/>
<text x="603.77" y="498.9" font-size="7.56" fill="#231f20" textLength="4.2" lengthAdjust="spacingAndGlyphs">1</text>
<line x1="612.6" y1="471.1" x2="616.9" y2="471.1" stroke="#444" stroke-width="0.8"/>
<text x="603.83" y="473.7" font-size="7.45" fill="#231f20" textLength="4.14" lengthAdjust="spacingAndGlyphs">2</text>
<line x1="612.6" y1="445.9" x2="616.9" y2="445.9" stroke="#444" stroke-width="0.8"/>
<text x="603.79" y="448.5" font-size="7.45" fill="#231f20" textLength="4.14" lengthAdjust="spacingAndGlyphs">3</text>
<line x1="612.6" y1="420.7" x2="616.9" y2="420.7" stroke="#444" stroke-width="0.8"/>
<text x="603.62" y="423.3" font-size="7.56" fill="#231f20" textLength="4.2" lengthAdjust="spacingAndGlyphs">4</text>
<text x="596.58" y="508.5" font-size="9.11" fill="#231f20" textLength="74.92" lengthAdjust="spacingAndGlyphs" transform="rotate(-90 596.9 508.5)">% Mitosox-positive</text>
<path d="M629.7,505.6 C630.98,505.6 632.68,506.43 633.5,507 C634.32,507.57 634.18,508.17 634.6,509 C635.02,509.83 635.97,510.92 636,512 C636.03,513.08 635.3,514.45 634.8,515.5 C634.3,516.55 633.85,517.73 633,518.3 C632.15,518.87 630.8,518.9 629.7,518.9 C628.6,518.9 627.28,518.87 626.4,518.3 C625.52,517.73 624.92,516.55 624.4,515.5 C623.88,514.45 623.27,513.08 623.3,512 C623.33,510.92 624.18,509.83 624.6,509 C625.02,508.17 624.95,507.57 625.8,507 C626.65,506.43 628.42,505.6 629.7,505.6Z" fill="#bdbdbd" stroke="#444" stroke-width="0.7" stroke-linejoin="round"/>
<circle cx="629.6" cy="506.9" r="1.4" fill="#000"/>
<circle cx="626.3" cy="511.4" r="1.4" fill="#000"/>
<circle cx="633" cy="512.5" r="1.4" fill="#000"/>
<circle cx="629.6" cy="517.5" r="1.4" fill="#000"/>
<path d="M650.5,472.9 C651.18,472.97 652.98,472.87 653.6,473.3 C654.22,473.73 654.33,474.63 654.2,475.5 C654.07,476.37 653.2,477.5 652.8,478.5 C652.4,479.5 651.77,480.5 651.8,481.5 C651.83,482.5 652.4,483.42 653,484.5 C653.6,485.58 654.93,486.95 655.4,488 C655.87,489.05 656.62,490.23 655.8,490.8 C654.98,491.37 651.55,491.3 650.5,491.4 C649.45,491.5 650.55,491.5 649.5,491.4 C648.45,491.3 645.02,491.37 644.2,490.8 C643.38,490.23 644.13,489.05 644.6,488 C645.07,486.95 646.4,485.58 647,484.5 C647.6,483.42 648.17,482.5 648.2,481.5 C648.23,480.5 647.6,479.5 647.2,478.5 C646.8,477.5 645.93,476.37 645.8,475.5 C645.67,474.63 645.78,473.73 646.4,473.3 C647.02,472.87 648.82,472.97 649.5,472.9 C650.18,472.83 649.82,472.83 650.5,472.9Z" fill="#b8c5e6" stroke="#5a78c6" stroke-width="0.8" stroke-linejoin="round"/>
<circle cx="649.9" cy="474.3" r="1.4" fill="#2f5bb5"/>
<circle cx="649.9" cy="479.9" r="1.4" fill="#2f5bb5"/>
<circle cx="647" cy="490.5" r="1.4" fill="#2f5bb5"/>
<circle cx="653.7" cy="488.9" r="1.4" fill="#2f5bb5"/>
<path d="M669.7,431.3 C672.5,431.8 672.5,434 671.5,436 L671.2,440 C674,442 677,446 676.9,449 C676.5,451 672,450.8 669.7,450.8 C667,450.8 664.5,451 664.5,449 C664.3,446 666,442 668.2,440 L667.9,436 C667,434 667,431.8 669.7,431.3 Z" fill="#fde3e1" stroke="#e8302a" stroke-width="0.9" stroke-linejoin="round"/>
<circle cx="669.7" cy="432.6" r="1.4" fill="#e8302a"/>
<circle cx="669.7" cy="443.4" r="1.4" fill="#e8302a"/>
<circle cx="667.2" cy="450" r="1.4" fill="#e8302a"/>
<circle cx="674.6" cy="448.4" r="1.4" fill="#e8302a"/>
<line x1="665.5" y1="446.1" x2="674.5" y2="446.1" stroke="#231f20" stroke-width="0.7" stroke-dasharray="1.2 0.8"/>
<text x="639.94" y="410.8" font-size="5.73" fill="#333" textLength="19.97" lengthAdjust="spacingAndGlyphs">0.0001</text>
<line x1="630.3" y1="412.8" x2="670.1" y2="412.8" stroke="#d0d0d0" stroke-width="0.7"/>
<text x="652.53" y="424.8" font-size="5.59" fill="#333" textLength="17.32" lengthAdjust="spacingAndGlyphs">0.002</text>
<line x1="652.1" y1="426.3" x2="670.1" y2="426.3" stroke="#d0d0d0" stroke-width="0.7"/>
<text x="628.72" y="454.7" font-size="5.87" fill="#333" textLength="17.67" lengthAdjust="spacingAndGlyphs">0.005</text>
<line x1="628.5" y1="456.3" x2="646.5" y2="456.3" stroke="#d0d0d0" stroke-width="0.7"/>
<text x="633.2" y="530.8" font-size="8.58" fill="#231f20" text-anchor="end" transform="rotate(-45 633.2 530.8)">RPMI</text>
<text x="654.9" y="530.3" font-size="8.58" fill="#4a4fa0" text-anchor="end" transform="rotate(-45 654.9 530.3)">HBSS</text>
<text x="677.7" y="529.5" font-size="8.58" fill="#e4292f" text-anchor="end" transform="rotate(-45 677.7 529.5)">HBSS+</text>
<text x="685.6" y="538.2" font-size="8.58" fill="#e4292f" text-anchor="end" transform="rotate(-45 685.6 538.2)">VPS34i</text>
</svg></body></html>
